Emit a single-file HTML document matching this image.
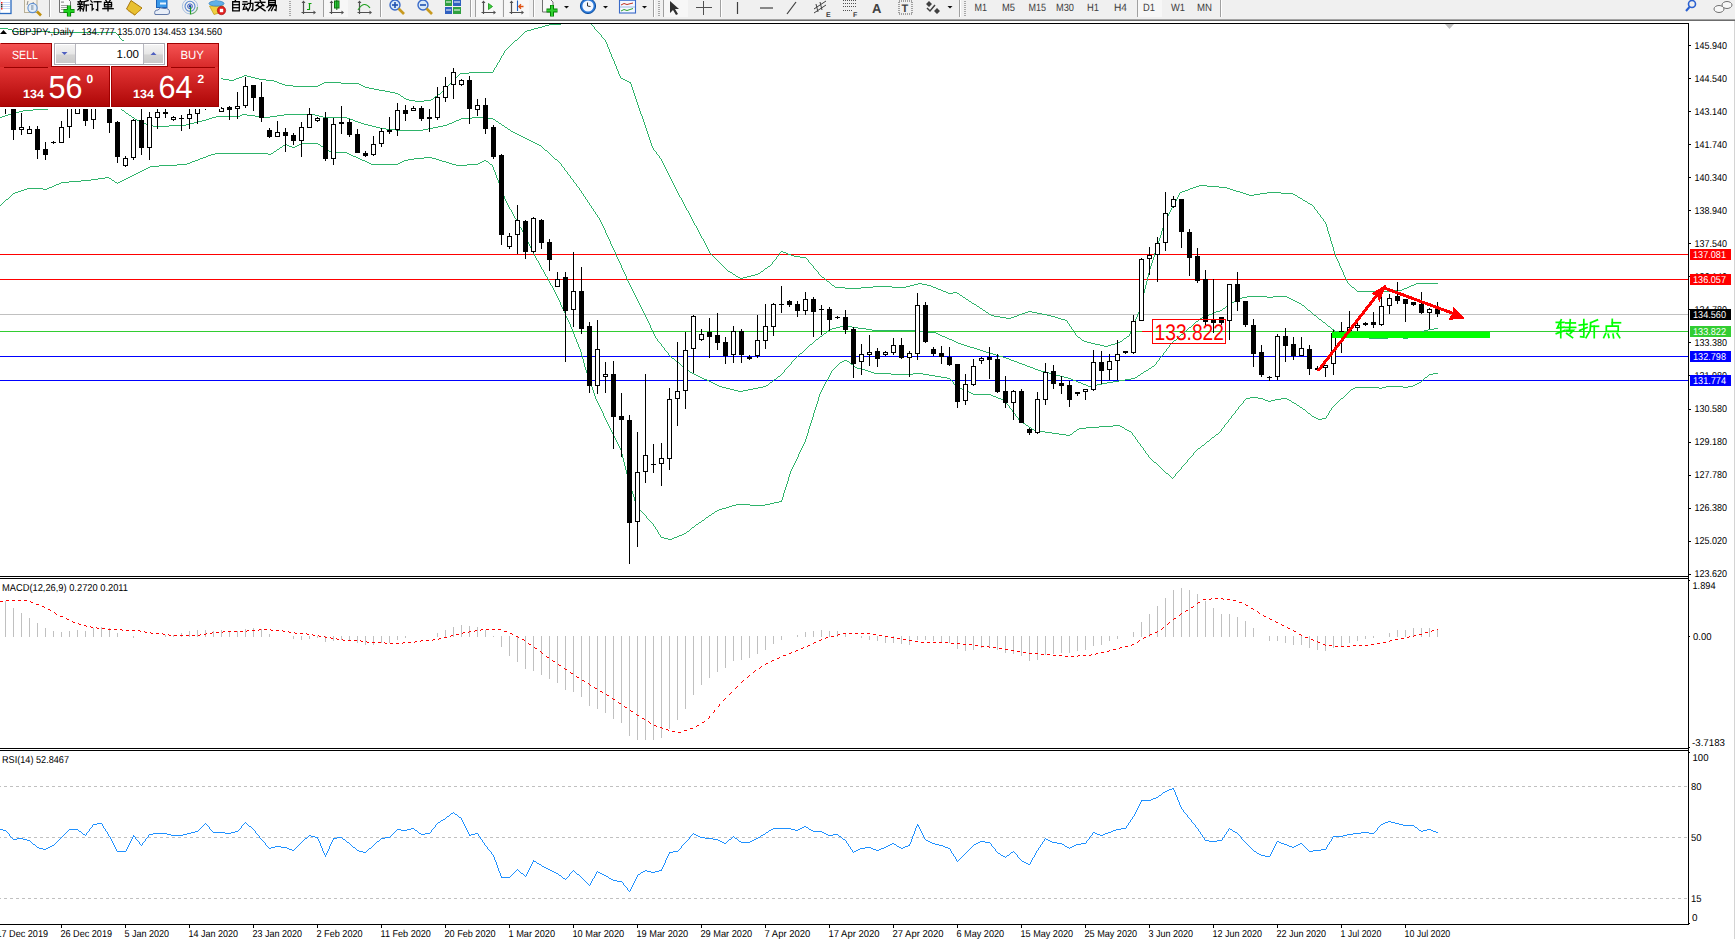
<!DOCTYPE html>
<html><head><meta charset="utf-8"><title>MT4 GBPJPY Daily</title>
<style>html,body{margin:0;padding:0;background:#fff;overflow:hidden}body{width:1735px;height:939px;position:relative;font-family:"Liberation Sans",sans-serif}</style>
</head><body>
<svg width="1735" height="939" viewBox="0 0 1735 939" text-rendering="geometricPrecision" style="position:absolute;left:0;top:0">
<defs>
<linearGradient id="gTop" x1="0" y1="0" x2="0" y2="1"><stop offset="0" stop-color="#f65454"/><stop offset="1" stop-color="#d82a2a"/></linearGradient>
<linearGradient id="gBot" x1="0" y1="0" x2="0" y2="1"><stop offset="0" stop-color="#e23434"/><stop offset="1" stop-color="#ad0606"/></linearGradient>
<linearGradient id="gBtn" x1="0" y1="0" x2="0" y2="1"><stop offset="0" stop-color="#f4f4f4"/><stop offset="0.5" stop-color="#e6e6e6"/><stop offset="0.55" stop-color="#d4d4d4"/><stop offset="1" stop-color="#cacaca"/></linearGradient>
</defs>
<rect x="0" y="0" width="1735" height="939" fill="#ffffff"/>
<rect x="0" y="0" width="1735" height="19" fill="#f0f0f0"/>
<rect x="0" y="19" width="1735" height="1" fill="#a4a4a4"/>
<rect x="0" y="20" width="1735" height="1" fill="#6c6c6c"/>
<g shape-rendering="crispEdges">
<rect x="49" y="0" width="1" height="17" fill="#a0a0a0"/><rect x="50" y="0" width="1" height="17" fill="#ffffff"/>
<rect x="380" y="0" width="1" height="17" fill="#a0a0a0"/><rect x="381" y="0" width="1" height="17" fill="#ffffff"/>
<rect x="470" y="0" width="1" height="17" fill="#a0a0a0"/><rect x="471" y="0" width="1" height="17" fill="#ffffff"/>
<rect x="533" y="0" width="1" height="17" fill="#a0a0a0"/><rect x="534" y="0" width="1" height="17" fill="#ffffff"/>
<rect x="653" y="0" width="1" height="17" fill="#a0a0a0"/><rect x="654" y="0" width="1" height="17" fill="#ffffff"/>
<rect x="720" y="0" width="1" height="17" fill="#a0a0a0"/><rect x="721" y="0" width="1" height="17" fill="#ffffff"/>
<rect x="959" y="0" width="1" height="17" fill="#a0a0a0"/><rect x="960" y="0" width="1" height="17" fill="#ffffff"/>
<rect x="1220" y="0" width="1" height="17" fill="#a0a0a0"/><rect x="1221" y="0" width="1" height="17" fill="#ffffff"/>
<rect x="289" y="1" width="2" height="1" fill="#a8a8a8"/>
<rect x="289" y="3" width="2" height="1" fill="#a8a8a8"/>
<rect x="289" y="5" width="2" height="1" fill="#a8a8a8"/>
<rect x="289" y="7" width="2" height="1" fill="#a8a8a8"/>
<rect x="289" y="9" width="2" height="1" fill="#a8a8a8"/>
<rect x="289" y="11" width="2" height="1" fill="#a8a8a8"/>
<rect x="289" y="13" width="2" height="1" fill="#a8a8a8"/>
<rect x="289" y="15" width="2" height="1" fill="#a8a8a8"/>
<rect x="658" y="1" width="2" height="1" fill="#a8a8a8"/>
<rect x="658" y="3" width="2" height="1" fill="#a8a8a8"/>
<rect x="658" y="5" width="2" height="1" fill="#a8a8a8"/>
<rect x="658" y="7" width="2" height="1" fill="#a8a8a8"/>
<rect x="658" y="9" width="2" height="1" fill="#a8a8a8"/>
<rect x="658" y="11" width="2" height="1" fill="#a8a8a8"/>
<rect x="658" y="13" width="2" height="1" fill="#a8a8a8"/>
<rect x="658" y="15" width="2" height="1" fill="#a8a8a8"/>
<rect x="964" y="1" width="2" height="1" fill="#a8a8a8"/>
<rect x="964" y="3" width="2" height="1" fill="#a8a8a8"/>
<rect x="964" y="5" width="2" height="1" fill="#a8a8a8"/>
<rect x="964" y="7" width="2" height="1" fill="#a8a8a8"/>
<rect x="964" y="9" width="2" height="1" fill="#a8a8a8"/>
<rect x="964" y="11" width="2" height="1" fill="#a8a8a8"/>
<rect x="964" y="13" width="2" height="1" fill="#a8a8a8"/>
<rect x="964" y="15" width="2" height="1" fill="#a8a8a8"/>
<rect x="323" y="0" width="25" height="17" fill="#f7f7f7"/>
<rect x="476" y="0" width="26" height="17" fill="#f7f7f7"/>
<rect x="504" y="0" width="25" height="17" fill="#f7f7f7"/>
<rect x="663" y="0" width="25" height="17" fill="#f7f7f7"/>
<rect x="1137" y="0" width="25" height="17" fill="#f7f7f7"/>
<rect x="323" y="0" width="1" height="17" fill="#a0a0a0"/>
<rect x="475" y="0" width="1" height="17" fill="#a0a0a0"/>
<rect x="503" y="0" width="1" height="17" fill="#a0a0a0"/>
<rect x="663" y="0" width="1" height="17" fill="#a0a0a0"/>
<rect x="1137" y="0" width="1" height="17" fill="#a0a0a0"/>
</g>
<rect x="-0.5" y="-1.5" width="11.5" height="15" fill="#fff" stroke="#2a6ac0" stroke-width="1.3"/>
<rect x="1" y="2" width="1.5" height="1.5" fill="#f02020"/><rect x="3" y="2" width="7" height="1" fill="#c8d8f8"/>
<rect x="1" y="4" width="1.5" height="1.5" fill="#303030"/><rect x="3" y="4" width="7" height="1" fill="#c8d8f8"/>
<rect x="1" y="6" width="1.5" height="1.5" fill="#303030"/><rect x="3" y="6" width="7" height="1" fill="#c8d8f8"/>
<rect x="1" y="8" width="1.5" height="1.5" fill="#f02020"/><rect x="3" y="8" width="7" height="1" fill="#c8d8f8"/>
<rect x="24.5" y="-2" width="12.5" height="14.5" fill="#f6f2ea" stroke="#b8b098" stroke-width="1"/>
<path d="M27 5 L28 1 M33 2 L34 4" stroke="#707070" stroke-width="0.8"/>
<circle cx="32.5" cy="8" r="4.6" fill="#e4eef8" stroke="#6090d0" stroke-width="1.1"/>
<rect x="31" y="5" width="2.5" height="5" fill="#a8b8c8"/>
<path d="M37 11.5 L41 15.5" stroke="#c09010" stroke-width="2.6"/>
<path d="M59.5 -2 L67 -2 L70.5 1.5 L70.5 12.5 L59.5 12.5 Z" fill="#fafafa" stroke="#707070" stroke-width="1"/>
<rect x="61" y="1.5" width="3" height="1.2" fill="#909090"/><rect x="61" y="5" width="7" height="1" fill="#a0a0a0"/><rect x="61" y="7" width="6" height="1" fill="#a0a0a0"/><rect x="61" y="9" width="5" height="1" fill="#a0a0a0"/>
<path d="M69 5.5 L69 16.5 M63.5 11 L74.5 11" stroke="#007a00" stroke-width="4.2"/>
<path d="M69 6 L69 16 M64 11 L74 11" stroke="#20d020" stroke-width="2.4"/>
<g transform="translate(77.5,0.0) scale(1.1)" fill="none" stroke="#000000" stroke-width="1.182" stroke-linecap="square" stroke-linejoin="miter"><path d="M2.5 0.2L2.8 1.2"/><path d="M0.5 1.6L4.6 1.6"/><path d="M1.3 2.3L1.8 3.5"/><path d="M3.8 2.3L3.2 3.5"/><path d="M0.2 3.9L4.8 3.9"/><path d="M0.6 5.9L4.5 5.9"/><path d="M2.5 3.9L2.5 9.9"/><path d="M2.5 6.6L0.3 9.0"/><path d="M2.7 6.9L4.4 8.3"/><path d="M9.6 0.5L6.0 1.6"/><path d="M6.0 1.6L6.0 6.0L5.2 9.9"/><path d="M6.0 4.6L10 4.6"/><path d="M8.0 4.6L8.0 9.9"/></g><g transform="translate(90.0,0.0) scale(1.1)" fill="none" stroke="#000000" stroke-width="1.182" stroke-linecap="square" stroke-linejoin="miter"><path d="M0.8 0.8L1.9 2.0"/><path d="M0.4 4.0L2.0 4.0L2.0 9.0L3.0 8.0"/><path d="M3.8 1.6L10 1.6"/><path d="M7.0 1.6L7.0 9.5L5.8 8.8"/></g><g transform="translate(102.5,0.0) scale(1.1)" fill="none" stroke="#000000" stroke-width="1.182" stroke-linecap="square" stroke-linejoin="miter"><path d="M3.0 0.2L3.8 1.5"/><path d="M7.0 0.2L6.2 1.5"/><path d="M1.8 2.2L8.2 2.2L8.2 6.2L1.8 6.2Z"/><path d="M1.8 4.2L8.2 4.2"/><path d="M0.3 7.9L9.7 7.9"/><path d="M5.0 2.2L5.0 9.9"/></g>
<path d="M126.5 9 L131 0.5 L142 8 L135 15 Z" fill="#e8c030" stroke="#a87810" stroke-width="1"/>
<path d="M128 10.5 L134.5 15 L141 9.5" fill="none" stroke="#c89828" stroke-width="1"/>
<rect x="156.5" y="-1.5" width="10.5" height="9" fill="#3a98e8" stroke="#1a60b8" stroke-width="1"/>
<rect x="160" y="2.5" width="6" height="2" fill="#e8f4ff"/>
<path d="M155 14.5 Q153.5 10 158 10 Q160 6.5 164 8.5 Q169.5 8 169.5 12 Q170 14.5 167 14.5 Z" fill="#e8eef8" stroke="#6078a8" stroke-width="1"/>
<circle cx="190" cy="6.3" r="7.6" fill="none" stroke="#a8c0e0" stroke-width="1"/>
<circle cx="190" cy="6.3" r="5" fill="none" stroke="#5a88d0" stroke-width="1.1"/>
<circle cx="190" cy="6.3" r="2.4" fill="none" stroke="#3a60c0" stroke-width="1"/>
<circle cx="190" cy="6.3" r="1.2" fill="#2040b0"/>
<path d="M190.5 7 L190.5 14.5" stroke="#20a020" stroke-width="1.2"/>
<path d="M191 14 A7.6 7.6 0 0 0 197.5 7" fill="none" stroke="#70b070" stroke-width="1.2"/>
<path d="M209.5 6 L223.5 6 L219 13 L214 14.5 Z" fill="#f0d040" stroke="#c0a020" stroke-width="0.8"/>
<ellipse cx="216.5" cy="3.5" rx="7.5" ry="2.6" fill="#60b0e8" stroke="#3080c0" stroke-width="0.8"/>
<path d="M214 3 L216 -2 L218.5 3 Z" fill="#60b0e8"/>
<circle cx="221.5" cy="10.5" r="4.2" fill="#e02020" stroke="#a01010" stroke-width="0.6"/><rect x="219.8" y="8.8" width="3.4" height="3.4" fill="#fff"/>
<g transform="translate(230.5,0.0) scale(1.1)" fill="none" stroke="#000000" stroke-width="1.182" stroke-linecap="square" stroke-linejoin="miter"><path d="M4.6 0.1L4.0 1.4"/><path d="M2.0 1.6L8.0 1.6L8.0 9.8L2.0 9.8Z"/><path d="M2.0 4.3L8.0 4.3"/><path d="M2.0 7.0L8.0 7.0"/></g><g transform="translate(242.5,0.0) scale(1.1)" fill="none" stroke="#000000" stroke-width="1.182" stroke-linecap="square" stroke-linejoin="miter"><path d="M0.6 1.6L4.0 1.6"/><path d="M0.2 3.9L4.5 3.9"/><path d="M2.2 3.9L0.6 8.5L4.2 8.0"/><path d="M3.2 6.5L4.5 9.0"/><path d="M5.0 3.0L9.5 3.0L9.3 9.5L8.2 9.0"/><path d="M7.3 0.4L7.0 6.0L5.0 9.8"/></g><g transform="translate(254.5,0.0) scale(1.1)" fill="none" stroke="#000000" stroke-width="1.182" stroke-linecap="square" stroke-linejoin="miter"><path d="M5.0 0.1L5.6 1.2"/><path d="M0.5 2.1L9.5 2.1"/><path d="M3.6 3.1L1.5 5.0"/><path d="M6.4 3.1L8.5 5.0"/><path d="M2.8 5.0L9.6 9.8"/><path d="M7.2 5.0L0.4 9.8"/></g><g transform="translate(266.5,0.0) scale(1.1)" fill="none" stroke="#000000" stroke-width="1.182" stroke-linecap="square" stroke-linejoin="miter"><path d="M2.0 0.4L8.0 0.4L8.0 4.0L2.0 4.0Z"/><path d="M2.0 2.2L8.0 2.2"/><path d="M2.2 5.0L0.4 6.6"/><path d="M2.2 5.0L9.0 5.0L8.6 9.5L7.5 9.0"/><path d="M4.6 5.5L2.0 9.6"/><path d="M6.7 5.5L4.5 9.6"/></g>
<path d="M303.5 2 L303.5 14 M301.5 12.5 L314.5 12.5" fill="none" stroke="#505050" stroke-width="1.2"/><path d="M301.5 3 L303.5 0.5 L305.5 3 Z M313.5 10.5 L316.0 12.5 L313.5 14.5 Z" fill="#505050"/>
<path d="M308.5 3.5 L311.5 3.5 M309.5 3 L309.5 10 M307 9.5 L309.5 9.5" fill="none" stroke="#10a010" stroke-width="1.2"/>
<path d="M331.5 2 L331.5 14 M329.5 12.5 L342.5 12.5" fill="none" stroke="#505050" stroke-width="1.2"/><path d="M329.5 3 L331.5 0.5 L333.5 3 Z M341.5 10.5 L344.0 12.5 L341.5 14.5 Z" fill="#505050"/>
<rect x="334.5" y="1" width="4.5" height="7" fill="#30d040" stroke="#107010" stroke-width="1"/><path d="M336.8 -1 L336.8 10" stroke="#107010" stroke-width="1"/>
<path d="M359.5 2 L359.5 14 M357.5 12.5 L370.5 12.5" fill="none" stroke="#505050" stroke-width="1.2"/><path d="M357.5 3 L359.5 0.5 L361.5 3 Z M369.5 10.5 L372.0 12.5 L369.5 14.5 Z" fill="#505050"/>
<path d="M358 10 Q364 0 370 8" fill="none" stroke="#20a020" stroke-width="1.1"/>
<circle cx="395" cy="5" r="5" fill="#d8e8f8" stroke="#3a6ac8" stroke-width="1.4"/>
<path d="M398.5 8.5 L404 14" stroke="#c89a20" stroke-width="2.6"/>
<path d="M392 5 L398 5" stroke="#2050b0" stroke-width="1.6"/>
<path d="M395 2 L395 8" stroke="#2050b0" stroke-width="1.6"/>
<circle cx="423" cy="5" r="5" fill="#d8e8f8" stroke="#3a6ac8" stroke-width="1.4"/>
<path d="M426.5 8.5 L432 14" stroke="#c89a20" stroke-width="2.6"/>
<path d="M420 5 L426 5" stroke="#2050b0" stroke-width="1.6"/>
<rect x="445" y="-1" width="7" height="7" fill="#30a040"/><rect x="453" y="-1" width="8" height="7" fill="#3060c0"/><rect x="445" y="7" width="7" height="7" fill="#3060c0"/><rect x="453" y="7" width="8" height="7" fill="#30a040"/>
<path d="M446 2 L451 2 M454 2 L460 2 M446 10 L451 10 M454 10 L460 10" stroke="#fff" stroke-width="1"/>
<path d="M483.5 2 L483.5 14 M481.5 12.5 L494.5 12.5" fill="none" stroke="#505050" stroke-width="1.2"/><path d="M481.5 3 L483.5 0.5 L485.5 3 Z M493.5 10.5 L496.0 12.5 L493.5 14.5 Z" fill="#505050"/>
<path d="M488.5 3.5 L492.5 6.5 L488.5 9.5 Z" fill="#40d040" stroke="#109010" stroke-width="0.8"/>
<path d="M511.5 2 L511.5 14 M509.5 12.5 L522.5 12.5" fill="none" stroke="#505050" stroke-width="1.2"/><path d="M509.5 3 L511.5 0.5 L513.5 3 Z M521.5 10.5 L524.0 12.5 L521.5 14.5 Z" fill="#505050"/>
<path d="M517.5 0.5 L517.5 11" stroke="#2060c0" stroke-width="1.1"/><path d="M523.5 6.5 L519 6.5 M521 4.3 L518.8 6.5 L521 8.7" fill="none" stroke="#e05010" stroke-width="1.3"/>
<path d="M542.5 -1 L550 -1 L553 2 L553 12 L542.5 12 Z" fill="#f8f8f8" stroke="#707070" stroke-width="1"/>
<path d="M552 5 L552 16.5 M546.5 10.5 L557.5 10.5" stroke="#007a00" stroke-width="4"/><path d="M552 5.5 L552 16 M547 10.5 L557 10.5" stroke="#30d030" stroke-width="2.2"/>
<path d="M564.0 6 L569.0 6 L566.5 8.5 Z" fill="#101010"/>
<path d="M603.0 6 L608.0 6 L605.5 8.5 Z" fill="#101010"/>
<path d="M642.0 6 L647.0 6 L644.5 8.5 Z" fill="#101010"/>
<path d="M947.5 6 L952.5 6 L950 8.5 Z" fill="#101010"/>
<circle cx="588" cy="6" r="7.6" fill="#2a78d8" stroke="#1050a0" stroke-width="1"/><circle cx="588" cy="6" r="5.6" fill="#f4f8ff"/><path d="M587.5 2.5 L587.5 6 L590.5 6.5" fill="none" stroke="#303030" stroke-width="1"/>
<rect x="619.5" y="-1" width="16" height="14" fill="#f4f8ff" stroke="#3a6ac8" stroke-width="1.1"/><rect x="620" y="-1" width="15" height="2" fill="#5a88d8"/><path d="M620 7 L635 7" stroke="#8aa8e0" stroke-width="0.8"/><path d="M621 5 L624 3.5 L627 4.5 L633 3" fill="none" stroke="#c03020" stroke-width="1"/><path d="M621 11 L624 9.5 L627 10.5 L633 8.5" fill="none" stroke="#30a030" stroke-width="1"/>
<path d="M670 1 L670 13 L673 10 L676 15 L678 14 L675 9 L679 9 Z" fill="#303030"/>
<path d="M703.5 1 L703.5 15 M696 7.5 L712 7.5" stroke="#505050" stroke-width="1"/>
<path d="M737.5 2 L737.5 14" stroke="#404040" stroke-width="1.2"/>
<path d="M760 8 L773 8" stroke="#404040" stroke-width="1.2"/>
<path d="M787 14 L796 2" stroke="#404040" stroke-width="1.2"/>
<path d="M814 9 L826 1 M814 13 L826 5 M816 4 L818 12 M820 2 L822 10" stroke="#404040" stroke-width="1"/><text x="826" y="17" font-family='"Liberation Sans"' font-size="7" font-weight="bold" fill="#404040">E</text>
<path d="M843 0.5 L856 0.5 M843 3.5 L856 3.5 M843 6.5 L856 6.5 M843 10.5 L852 10.5" stroke="#505050" stroke-width="1" stroke-dasharray="1 1"/><text x="853" y="17" font-family='"Liberation Sans"' font-size="7" font-weight="bold" fill="#404040">F</text>
<text x="872" y="13" font-family='"Liberation Sans"' font-size="13" font-weight="bold" fill="#404040">A</text>
<rect x="899" y="1" width="13" height="13" fill="none" stroke="#505050" stroke-width="1" stroke-dasharray="1 1"/><text x="901.5" y="12" font-family='"Liberation Sans"' font-size="11" font-weight="bold" fill="#404040">T</text>
<path d="M926 4 L929 1 L932 4 L929 7 Z M934 11 L937 8 L940 11 L937 14 Z" fill="#404040"/><path d="M927 8 L930 11 L935 5" fill="none" stroke="#404040" stroke-width="1.5"/>
<text x="974.5" y="11" font-family='"Liberation Sans", sans-serif' font-size="10.5" fill="#404040" textLength="12.5" lengthAdjust="spacingAndGlyphs">M1</text>
<text x="1002" y="11" font-family='"Liberation Sans", sans-serif' font-size="10.5" fill="#404040" textLength="13" lengthAdjust="spacingAndGlyphs">M5</text>
<text x="1028.5" y="11" font-family='"Liberation Sans", sans-serif' font-size="10.5" fill="#404040" textLength="17.5" lengthAdjust="spacingAndGlyphs">M15</text>
<text x="1056" y="11" font-family='"Liberation Sans", sans-serif' font-size="10.5" fill="#404040" textLength="18" lengthAdjust="spacingAndGlyphs">M30</text>
<text x="1087" y="11" font-family='"Liberation Sans", sans-serif' font-size="10.5" fill="#404040" textLength="12" lengthAdjust="spacingAndGlyphs">H1</text>
<text x="1114" y="11" font-family='"Liberation Sans", sans-serif' font-size="10.5" fill="#404040" textLength="13" lengthAdjust="spacingAndGlyphs">H4</text>
<text x="1143" y="11" font-family='"Liberation Sans", sans-serif' font-size="10.5" fill="#404040" textLength="12" lengthAdjust="spacingAndGlyphs">D1</text>
<text x="1171" y="11" font-family='"Liberation Sans", sans-serif' font-size="10.5" fill="#404040" textLength="14" lengthAdjust="spacingAndGlyphs">W1</text>
<text x="1197" y="11" font-family='"Liberation Sans", sans-serif' font-size="10.5" fill="#404040" textLength="15" lengthAdjust="spacingAndGlyphs">MN</text>
<circle cx="1692" cy="4" r="3.5" fill="none" stroke="#2a60d0" stroke-width="1.6"/><path d="M1689.5 7 L1686 11" stroke="#2a60d0" stroke-width="2"/>
<ellipse cx="1719" cy="9" rx="5" ry="3.5" fill="#f8f8f8" stroke="#707070" stroke-width="1"/><ellipse cx="1727" cy="5" rx="5" ry="3.5" fill="#f8f8f8" stroke="#707070" stroke-width="1"/>
<g shape-rendering="crispEdges">
<rect x="1734" y="21" width="1" height="918" fill="#d4d4d4"/>
<rect x="0" y="23" width="1689" height="1" fill="#000"/>
<rect x="1688" y="23" width="1" height="902" fill="#000"/>
<rect x="0" y="576" width="1689" height="1" fill="#000"/>
<rect x="0" y="578" width="1689" height="1" fill="#000"/>
<rect x="0" y="748" width="1689" height="1" fill="#000"/>
<rect x="0" y="750" width="1689" height="1" fill="#000"/>
<rect x="0" y="924" width="1689" height="1" fill="#000"/>
</g>
<g shape-rendering="crispEdges">
<rect x="1689" y="45" width="2" height="1" fill="#000"/>
<rect x="1689" y="78" width="2" height="1" fill="#000"/>
<rect x="1689" y="111" width="2" height="1" fill="#000"/>
<rect x="1689" y="144" width="2" height="1" fill="#000"/>
<rect x="1689" y="177" width="2" height="1" fill="#000"/>
<rect x="1689" y="210" width="2" height="1" fill="#000"/>
<rect x="1689" y="243" width="2" height="1" fill="#000"/>
<rect x="1689" y="276" width="2" height="1" fill="#000"/>
<rect x="1689" y="309" width="2" height="1" fill="#000"/>
<rect x="1689" y="342" width="2" height="1" fill="#000"/>
<rect x="1689" y="375" width="2" height="1" fill="#000"/>
<rect x="1689" y="409" width="2" height="1" fill="#000"/>
<rect x="1689" y="442" width="2" height="1" fill="#000"/>
<rect x="1689" y="475" width="2" height="1" fill="#000"/>
<rect x="1689" y="508" width="2" height="1" fill="#000"/>
<rect x="1689" y="541" width="2" height="1" fill="#000"/>
<rect x="1689" y="574" width="2" height="1" fill="#000"/>
</g>
<text x="1694.5" y="49.0" font-family='"Liberation Sans", sans-serif' font-size="10" fill="#000" textLength="32.5" lengthAdjust="spacingAndGlyphs">145.940</text>
<text x="1694.5" y="82.0" font-family='"Liberation Sans", sans-serif' font-size="10" fill="#000" textLength="32.5" lengthAdjust="spacingAndGlyphs">144.540</text>
<text x="1694.5" y="115.0" font-family='"Liberation Sans", sans-serif' font-size="10" fill="#000" textLength="32.5" lengthAdjust="spacingAndGlyphs">143.140</text>
<text x="1694.5" y="148.0" font-family='"Liberation Sans", sans-serif' font-size="10" fill="#000" textLength="32.5" lengthAdjust="spacingAndGlyphs">141.740</text>
<text x="1694.5" y="181.0" font-family='"Liberation Sans", sans-serif' font-size="10" fill="#000" textLength="32.5" lengthAdjust="spacingAndGlyphs">140.340</text>
<text x="1694.5" y="214.0" font-family='"Liberation Sans", sans-serif' font-size="10" fill="#000" textLength="32.5" lengthAdjust="spacingAndGlyphs">138.940</text>
<text x="1694.5" y="247.1" font-family='"Liberation Sans", sans-serif' font-size="10" fill="#000" textLength="32.5" lengthAdjust="spacingAndGlyphs">137.540</text>
<text x="1694.5" y="280.1" font-family='"Liberation Sans", sans-serif' font-size="10" fill="#000" textLength="32.5" lengthAdjust="spacingAndGlyphs">136.140</text>
<text x="1694.5" y="313.1" font-family='"Liberation Sans", sans-serif' font-size="10" fill="#000" textLength="32.5" lengthAdjust="spacingAndGlyphs">134.780</text>
<text x="1694.5" y="346.1" font-family='"Liberation Sans", sans-serif' font-size="10" fill="#000" textLength="32.5" lengthAdjust="spacingAndGlyphs">133.380</text>
<text x="1694.5" y="379.1" font-family='"Liberation Sans", sans-serif' font-size="10" fill="#000" textLength="32.5" lengthAdjust="spacingAndGlyphs">131.980</text>
<text x="1694.5" y="412.1" font-family='"Liberation Sans", sans-serif' font-size="10" fill="#000" textLength="32.5" lengthAdjust="spacingAndGlyphs">130.580</text>
<text x="1694.5" y="445.1" font-family='"Liberation Sans", sans-serif' font-size="10" fill="#000" textLength="32.5" lengthAdjust="spacingAndGlyphs">129.180</text>
<text x="1694.5" y="478.1" font-family='"Liberation Sans", sans-serif' font-size="10" fill="#000" textLength="32.5" lengthAdjust="spacingAndGlyphs">127.780</text>
<text x="1694.5" y="511.1" font-family='"Liberation Sans", sans-serif' font-size="10" fill="#000" textLength="32.5" lengthAdjust="spacingAndGlyphs">126.380</text>
<text x="1694.5" y="544.1" font-family='"Liberation Sans", sans-serif' font-size="10" fill="#000" textLength="32.5" lengthAdjust="spacingAndGlyphs">125.020</text>
<text x="1694.5" y="577.2" font-family='"Liberation Sans", sans-serif' font-size="10" fill="#000" textLength="32.5" lengthAdjust="spacingAndGlyphs">123.620</text>
<clipPath id="clipMain"><rect x="0" y="24" width="1688" height="552"/></clipPath>
<g clip-path="url(#clipMain)">
<g shape-rendering="crispEdges">
<rect x="0" y="254" width="1688" height="1" fill="#ff0000"/>
<rect x="0" y="279" width="1688" height="1" fill="#ff0000"/>
<rect x="0" y="314" width="1688" height="1" fill="#c0c0c0"/>
<rect x="0" y="331" width="1688" height="1" fill="#32cd32"/>
<rect x="0" y="356" width="1688" height="1" fill="#0000ff"/>
<rect x="0" y="380" width="1688" height="1" fill="#0000ff"/>
</g>
<path fill="#2eb36a" shape-rendering="crispEdges" d="M561 23h30v1h-30zM549 24h12v1h-12zM591 24h1v1h-1zM545 25h4v1h-4zM592 25h1v1h-1zM542 26h3v1h-3zM593 26h1v1h-1zM538 27h4v1h-4zM594 27h1v1h-1zM0 28h8v1h-8zM534 28h4v1h-4zM594 28h1v1h-1zM8 29h4v1h-4zM531 29h3v1h-3zM595 29h1v1h-1zM12 30h1v1h-1zM527 30h4v1h-4zM596 30h1v1h-1zM12 31h38v1h-38zM525 31h2v1h-2zM597 31h1v1h-1zM50 32h66v1h-66zM524 32h1v1h-1zM598 32h1v1h-1zM116 33h1v1h-1zM523 33h1v1h-1zM599 33h1v1h-1zM117 34h1v1h-1zM522 34h1v1h-1zM600 34h1v1h-1zM118 35h1v1h-1zM521 35h1v1h-1zM601 35h1v1h-1zM119 36h1v1h-1zM520 36h1v1h-1zM601 36h1v1h-1zM119 37h1v1h-1zM519 37h1v1h-1zM602 37h1v1h-1zM120 38h1v1h-1zM518 38h1v1h-1zM603 38h1v1h-1zM121 39h1v1h-1zM517 39h1v1h-1zM604 39h1v1h-1zM122 40h2v1h-2zM515 40h2v1h-2zM605 40h1v1h-1zM124 41h2v1h-2zM514 41h1v1h-1zM605 41h1v1h-1zM126 42h3v1h-3zM513 42h1v1h-1zM606 42h1v1h-1zM129 43h2v1h-2zM512 43h1v1h-1zM606 43h1v1h-1zM131 44h3v1h-3zM511 44h1v1h-1zM607 44h1v1h-1zM134 45h2v1h-2zM510 45h1v1h-1zM607 45h1v1h-1zM136 46h3v1h-3zM509 46h1v1h-1zM607 46h1v1h-1zM139 47h2v1h-2zM508 47h1v1h-1zM608 47h1v1h-1zM141 48h3v1h-3zM507 48h1v1h-1zM608 48h1v1h-1zM144 49h3v1h-3zM506 49h1v1h-1zM609 49h1v1h-1zM147 50h2v1h-2zM505 50h1v1h-1zM609 50h1v1h-1zM149 51h3v1h-3zM504 51h1v1h-1zM609 51h1v1h-1zM152 52h2v1h-2zM504 52h1v1h-1zM610 52h1v1h-1zM154 53h3v1h-3zM503 53h1v1h-1zM610 53h1v1h-1zM157 54h2v1h-2zM503 54h1v1h-1zM611 54h1v1h-1zM159 55h3v1h-3zM502 55h1v1h-1zM611 55h1v1h-1zM162 56h2v1h-2zM501 56h1v1h-1zM611 56h1v1h-1zM164 57h3v1h-3zM501 57h1v1h-1zM612 57h1v1h-1zM167 58h2v1h-2zM500 58h1v1h-1zM612 58h1v1h-1zM169 59h3v1h-3zM500 59h1v1h-1zM613 59h1v1h-1zM172 60h3v1h-3zM499 60h1v1h-1zM613 60h1v1h-1zM175 61h2v1h-2zM499 61h1v1h-1zM614 61h1v1h-1zM177 62h3v1h-3zM498 62h1v1h-1zM614 62h1v1h-1zM180 63h2v1h-2zM497 63h1v1h-1zM614 63h1v1h-1zM182 64h3v1h-3zM497 64h1v1h-1zM615 64h1v1h-1zM185 65h2v1h-2zM496 65h1v1h-1zM615 65h1v1h-1zM187 66h3v1h-3zM496 66h1v1h-1zM616 66h1v1h-1zM190 67h3v1h-3zM495 67h1v1h-1zM616 67h1v1h-1zM193 68h2v1h-2zM494 68h1v1h-1zM616 68h1v1h-1zM195 69h3v1h-3zM494 69h1v1h-1zM617 69h1v1h-1zM198 70h2v1h-2zM493 70h1v1h-1zM617 70h1v1h-1zM200 71h3v1h-3zM493 71h1v1h-1zM618 71h1v1h-1zM203 72h2v1h-2zM469 72h24v1h-24zM618 72h1v1h-1zM205 73h3v1h-3zM460 73h9v1h-9zM618 73h1v1h-1zM208 74h3v1h-3zM459 74h1v1h-1zM619 74h1v1h-1zM211 75h2v1h-2zM244 75h3v1h-3zM458 75h1v1h-1zM619 75h1v1h-1zM213 76h3v1h-3zM242 76h2v1h-2zM247 76h4v1h-4zM457 76h1v1h-1zM620 76h1v1h-1zM216 77h2v1h-2zM239 77h3v1h-3zM251 77h4v1h-4zM456 77h1v1h-1zM620 77h1v1h-1zM218 78h5v1h-5zM236 78h3v1h-3zM255 78h4v1h-4zM455 78h1v1h-1zM621 78h2v1h-2zM223 79h6v1h-6zM234 79h2v1h-2zM259 79h7v1h-7zM454 79h1v1h-1zM623 79h2v1h-2zM229 80h5v1h-5zM266 80h8v1h-8zM453 80h1v1h-1zM625 80h2v1h-2zM274 81h3v1h-3zM452 81h1v1h-1zM627 81h2v1h-2zM277 82h2v1h-2zM324 82h17v1h-17zM451 82h1v1h-1zM629 82h2v1h-2zM279 83h3v1h-3zM322 83h2v1h-2zM341 83h18v1h-18zM450 83h1v1h-1zM630 83h1v1h-1zM282 84h3v1h-3zM320 84h2v1h-2zM359 84h2v1h-2zM449 84h1v1h-1zM631 84h1v1h-1zM285 85h8v1h-8zM318 85h2v1h-2zM361 85h2v1h-2zM448 85h1v1h-1zM631 85h1v1h-1zM293 86h25v1h-25zM363 86h2v1h-2zM447 86h1v1h-1zM631 86h1v1h-1zM365 87h4v1h-4zM446 87h1v1h-1zM632 87h1v1h-1zM369 88h5v1h-5zM445 88h1v1h-1zM632 88h1v1h-1zM374 89h5v1h-5zM444 89h1v1h-1zM632 89h1v1h-1zM379 90h6v1h-6zM443 90h1v1h-1zM633 90h1v1h-1zM385 91h5v1h-5zM442 91h1v1h-1zM633 91h1v1h-1zM390 92h5v1h-5zM441 92h1v1h-1zM633 92h1v1h-1zM395 93h3v1h-3zM440 93h1v1h-1zM634 93h1v1h-1zM398 94h2v1h-2zM438 94h2v1h-2zM634 94h1v1h-1zM400 95h1v1h-1zM437 95h1v1h-1zM634 95h1v1h-1zM401 96h2v1h-2zM435 96h2v1h-2zM635 96h1v1h-1zM403 97h1v1h-1zM434 97h1v1h-1zM635 97h1v1h-1zM404 98h2v1h-2zM433 98h1v1h-1zM635 98h1v1h-1zM406 99h3v1h-3zM431 99h2v1h-2zM636 99h1v1h-1zM409 100h6v1h-6zM424 100h7v1h-7zM636 100h1v1h-1zM415 101h9v1h-9zM636 101h1v1h-1zM637 102h1v1h-1zM637 103h1v1h-1zM637 104h1v1h-1zM638 105h1v1h-1zM638 106h1v1h-1zM638 107h1v1h-1zM639 108h1v1h-1zM639 109h1v1h-1zM639 110h1v1h-1zM640 111h1v1h-1zM640 112h1v1h-1zM640 113h1v1h-1zM641 114h1v1h-1zM641 115h1v1h-1zM642 116h1v1h-1zM642 117h1v1h-1zM642 118h1v1h-1zM643 119h1v1h-1zM643 120h1v1h-1zM643 121h1v1h-1zM644 122h1v1h-1zM644 123h1v1h-1zM644 124h1v1h-1zM645 125h1v1h-1zM645 126h1v1h-1zM645 127h1v1h-1zM646 128h1v1h-1zM646 129h1v1h-1zM646 130h1v1h-1zM647 131h1v1h-1zM647 132h1v1h-1zM647 133h1v1h-1zM648 134h1v1h-1zM648 135h1v1h-1zM648 136h1v1h-1zM649 137h1v1h-1zM649 138h1v1h-1zM649 139h1v1h-1zM650 140h1v1h-1zM650 141h1v1h-1zM650 142h1v1h-1zM651 143h1v1h-1zM651 144h1v1h-1zM651 145h1v1h-1zM652 146h1v1h-1zM652 147h1v1h-1zM653 148h1v1h-1zM653 149h1v1h-1zM654 150h1v1h-1zM655 151h1v1h-1zM656 152h1v1h-1zM656 153h1v1h-1zM657 154h1v1h-1zM658 155h1v1h-1zM659 156h1v1h-1zM659 157h1v1h-1zM660 158h1v1h-1zM661 159h1v1h-1zM661 160h1v1h-1zM662 161h1v1h-1zM662 162h1v1h-1zM663 163h1v1h-1zM663 164h1v1h-1zM664 165h1v1h-1zM664 166h1v1h-1zM665 167h1v1h-1zM665 168h1v1h-1zM666 169h1v1h-1zM666 170h1v1h-1zM667 171h1v1h-1zM667 172h1v1h-1zM668 173h1v1h-1zM668 174h1v1h-1zM669 175h1v1h-1zM669 176h1v1h-1zM670 177h1v1h-1zM670 178h1v1h-1zM671 179h1v1h-1zM671 180h1v1h-1zM672 181h1v1h-1zM672 182h1v1h-1zM673 183h1v1h-1zM673 184h1v1h-1zM674 185h1v1h-1zM1199 185h8v1h-8zM674 186h1v1h-1zM1196 186h3v1h-3zM1207 186h12v1h-12zM675 187h1v1h-1zM1193 187h3v1h-3zM1219 187h8v1h-8zM675 188h1v1h-1zM1190 188h3v1h-3zM1227 188h3v1h-3zM676 189h1v1h-1zM1188 189h2v1h-2zM1230 189h3v1h-3zM676 190h1v1h-1zM1185 190h3v1h-3zM1233 190h3v1h-3zM677 191h1v1h-1zM1182 191h3v1h-3zM1236 191h4v1h-4zM677 192h1v1h-1zM1180 192h2v1h-2zM1240 192h3v1h-3zM1267 192h14v1h-14zM678 193h1v1h-1zM1179 193h1v1h-1zM1243 193h3v1h-3zM1260 193h7v1h-7zM1281 193h12v1h-12zM678 194h1v1h-1zM1179 194h1v1h-1zM1246 194h3v1h-3zM1254 194h6v1h-6zM1293 194h2v1h-2zM679 195h1v1h-1zM1178 195h1v1h-1zM1249 195h5v1h-5zM1295 195h2v1h-2zM679 196h1v1h-1zM1178 196h1v1h-1zM1297 196h1v1h-1zM680 197h1v1h-1zM1177 197h1v1h-1zM1298 197h2v1h-2zM681 198h1v1h-1zM1177 198h1v1h-1zM1300 198h2v1h-2zM681 199h1v1h-1zM1176 199h1v1h-1zM1302 199h1v1h-1zM682 200h1v1h-1zM1176 200h1v1h-1zM1303 200h2v1h-2zM682 201h1v1h-1zM1175 201h1v1h-1zM1305 201h2v1h-2zM683 202h1v1h-1zM1175 202h1v1h-1zM1307 202h1v1h-1zM683 203h1v1h-1zM1174 203h1v1h-1zM1308 203h2v1h-2zM684 204h1v1h-1zM1174 204h1v1h-1zM1310 204h2v1h-2zM684 205h1v1h-1zM1173 205h1v1h-1zM1312 205h1v1h-1zM685 206h1v1h-1zM1173 206h1v1h-1zM1313 206h1v1h-1zM685 207h1v1h-1zM1172 207h1v1h-1zM1314 207h1v1h-1zM686 208h1v1h-1zM1171 208h1v1h-1zM1314 208h1v1h-1zM686 209h1v1h-1zM1171 209h1v1h-1zM1315 209h1v1h-1zM687 210h1v1h-1zM1170 210h1v1h-1zM1316 210h1v1h-1zM688 211h1v1h-1zM1170 211h1v1h-1zM1317 211h1v1h-1zM688 212h1v1h-1zM1169 212h1v1h-1zM1317 212h1v1h-1zM689 213h1v1h-1zM1169 213h1v1h-1zM1318 213h1v1h-1zM689 214h1v1h-1zM1168 214h1v1h-1zM1319 214h1v1h-1zM690 215h1v1h-1zM1168 215h1v1h-1zM1320 215h1v1h-1zM690 216h1v1h-1zM1167 216h1v1h-1zM1320 216h1v1h-1zM691 217h1v1h-1zM1167 217h1v1h-1zM1321 217h1v1h-1zM691 218h1v1h-1zM1166 218h1v1h-1zM1322 218h1v1h-1zM692 219h1v1h-1zM1166 219h1v1h-1zM1323 219h1v1h-1zM692 220h1v1h-1zM1165 220h1v1h-1zM1323 220h1v1h-1zM693 221h1v1h-1zM1165 221h1v1h-1zM1324 221h1v1h-1zM693 222h1v1h-1zM1164 222h1v1h-1zM1325 222h1v1h-1zM694 223h1v1h-1zM1164 223h1v1h-1zM1325 223h1v1h-1zM694 224h1v1h-1zM1164 224h1v1h-1zM1326 224h1v1h-1zM695 225h1v1h-1zM1163 225h1v1h-1zM1326 225h1v1h-1zM696 226h1v1h-1zM1163 226h1v1h-1zM1326 226h1v1h-1zM696 227h1v1h-1zM1163 227h1v1h-1zM1327 227h1v1h-1zM697 228h1v1h-1zM1162 228h1v1h-1zM1327 228h1v1h-1zM697 229h1v1h-1zM1162 229h1v1h-1zM1327 229h1v1h-1zM698 230h1v1h-1zM1162 230h1v1h-1zM1327 230h1v1h-1zM698 231h1v1h-1zM1161 231h1v1h-1zM1328 231h1v1h-1zM699 232h1v1h-1zM1161 232h1v1h-1zM1328 232h1v1h-1zM699 233h1v1h-1zM1161 233h1v1h-1zM1328 233h1v1h-1zM700 234h1v1h-1zM1161 234h1v1h-1zM1329 234h1v1h-1zM700 235h1v1h-1zM1160 235h1v1h-1zM1329 235h1v1h-1zM701 236h1v1h-1zM1160 236h1v1h-1zM1329 236h1v1h-1zM701 237h1v1h-1zM1160 237h1v1h-1zM1330 237h1v1h-1zM702 238h1v1h-1zM1159 238h1v1h-1zM1330 238h1v1h-1zM703 239h1v1h-1zM1159 239h1v1h-1zM1330 239h1v1h-1zM703 240h1v1h-1zM1159 240h1v1h-1zM1330 240h1v1h-1zM704 241h1v1h-1zM1158 241h1v1h-1zM1331 241h1v1h-1zM704 242h1v1h-1zM1158 242h1v1h-1zM1331 242h1v1h-1zM705 243h1v1h-1zM1158 243h1v1h-1zM1331 243h1v1h-1zM705 244h1v1h-1zM1157 244h1v1h-1zM1332 244h1v1h-1zM706 245h1v1h-1zM1157 245h1v1h-1zM1332 245h1v1h-1zM706 246h1v1h-1zM1157 246h1v1h-1zM1332 246h1v1h-1zM707 247h1v1h-1zM1156 247h1v1h-1zM1333 247h1v1h-1zM707 248h1v1h-1zM1156 248h1v1h-1zM1333 248h1v1h-1zM708 249h1v1h-1zM1156 249h1v1h-1zM1333 249h1v1h-1zM708 250h1v1h-1zM1155 250h1v1h-1zM1333 250h1v1h-1zM709 251h1v1h-1zM781 251h2v1h-2zM1155 251h1v1h-1zM1334 251h1v1h-1zM709 252h1v1h-1zM780 252h1v1h-1zM783 252h3v1h-3zM1155 252h1v1h-1zM1334 252h1v1h-1zM710 253h1v1h-1zM779 253h1v1h-1zM786 253h2v1h-2zM1154 253h1v1h-1zM1334 253h1v1h-1zM711 254h1v1h-1zM779 254h1v1h-1zM788 254h3v1h-3zM1154 254h1v1h-1zM1335 254h1v1h-1zM712 255h1v1h-1zM778 255h1v1h-1zM791 255h3v1h-3zM1154 255h1v1h-1zM1335 255h1v1h-1zM713 256h1v1h-1zM777 256h1v1h-1zM794 256h6v1h-6zM1154 256h1v1h-1zM1335 256h1v1h-1zM714 257h1v1h-1zM776 257h1v1h-1zM800 257h6v1h-6zM1153 257h1v1h-1zM1336 257h1v1h-1zM715 258h1v1h-1zM776 258h1v1h-1zM806 258h1v1h-1zM1153 258h1v1h-1zM1336 258h1v1h-1zM716 259h1v1h-1zM775 259h1v1h-1zM807 259h1v1h-1zM1153 259h1v1h-1zM1337 259h1v1h-1zM717 260h1v1h-1zM774 260h1v1h-1zM808 260h1v1h-1zM1152 260h1v1h-1zM1337 260h1v1h-1zM718 261h1v1h-1zM773 261h1v1h-1zM808 261h1v1h-1zM1152 261h1v1h-1zM1338 261h1v1h-1zM719 262h1v1h-1zM772 262h1v1h-1zM809 262h1v1h-1zM1152 262h1v1h-1zM1338 262h1v1h-1zM720 263h1v1h-1zM772 263h1v1h-1zM810 263h1v1h-1zM1151 263h1v1h-1zM1339 263h1v1h-1zM721 264h1v1h-1zM771 264h1v1h-1zM811 264h1v1h-1zM1151 264h1v1h-1zM1339 264h1v1h-1zM722 265h1v1h-1zM770 265h1v1h-1zM812 265h1v1h-1zM1151 265h1v1h-1zM1339 265h1v1h-1zM723 266h1v1h-1zM768 266h2v1h-2zM813 266h1v1h-1zM1150 266h1v1h-1zM1340 266h1v1h-1zM724 267h1v1h-1zM767 267h1v1h-1zM813 267h1v1h-1zM1150 267h1v1h-1zM1340 267h1v1h-1zM725 268h1v1h-1zM765 268h2v1h-2zM814 268h1v1h-1zM1150 268h1v1h-1zM1341 268h1v1h-1zM726 269h1v1h-1zM764 269h1v1h-1zM815 269h1v1h-1zM1149 269h1v1h-1zM1341 269h1v1h-1zM727 270h1v1h-1zM763 270h1v1h-1zM816 270h1v1h-1zM1149 270h1v1h-1zM1342 270h1v1h-1zM728 271h2v1h-2zM761 271h2v1h-2zM817 271h1v1h-1zM1149 271h1v1h-1zM1342 271h1v1h-1zM730 272h2v1h-2zM760 272h1v1h-1zM818 272h1v1h-1zM1149 272h1v1h-1zM1343 272h1v1h-1zM732 273h1v1h-1zM758 273h2v1h-2zM818 273h1v1h-1zM1148 273h1v1h-1zM1343 273h1v1h-1zM733 274h2v1h-2zM755 274h3v1h-3zM819 274h1v1h-1zM1148 274h1v1h-1zM1343 274h1v1h-1zM735 275h1v1h-1zM751 275h4v1h-4zM820 275h1v1h-1zM1148 275h1v1h-1zM1344 275h1v1h-1zM736 276h2v1h-2zM747 276h4v1h-4zM821 276h1v1h-1zM1148 276h1v1h-1zM1344 276h1v1h-1zM738 277h2v1h-2zM743 277h4v1h-4zM822 277h2v1h-2zM1147 277h1v1h-1zM1345 277h1v1h-1zM740 278h3v1h-3zM824 278h1v1h-1zM1147 278h1v1h-1zM1345 278h1v1h-1zM825 279h1v1h-1zM1147 279h1v1h-1zM1346 279h1v1h-1zM826 280h1v1h-1zM1147 280h1v1h-1zM1346 280h1v1h-1zM827 281h2v1h-2zM1146 281h1v1h-1zM1347 281h1v1h-1zM829 282h1v1h-1zM1146 282h1v1h-1zM1347 282h1v1h-1zM830 283h1v1h-1zM918 283h4v1h-4zM1146 283h1v1h-1zM1348 283h1v1h-1zM1416 283h22v1h-22zM831 284h1v1h-1zM914 284h4v1h-4zM922 284h5v1h-5zM1146 284h1v1h-1zM1349 284h1v1h-1zM1414 284h2v1h-2zM832 285h2v1h-2zM910 285h4v1h-4zM927 285h4v1h-4zM1145 285h1v1h-1zM1350 285h1v1h-1zM1411 285h3v1h-3zM834 286h1v1h-1zM873 286h19v1h-19zM906 286h4v1h-4zM931 286h2v1h-2zM1145 286h1v1h-1zM1351 286h1v1h-1zM1409 286h2v1h-2zM835 287h10v1h-10zM861 287h12v1h-12zM892 287h14v1h-14zM933 287h3v1h-3zM1145 287h1v1h-1zM1352 287h2v1h-2zM1407 287h2v1h-2zM845 288h16v1h-16zM936 288h2v1h-2zM1145 288h1v1h-1zM1354 288h1v1h-1zM1404 288h3v1h-3zM938 289h3v1h-3zM1144 289h1v1h-1zM1355 289h1v1h-1zM1402 289h2v1h-2zM941 290h2v1h-2zM1144 290h1v1h-1zM1356 290h1v1h-1zM1389 290h13v1h-13zM943 291h3v1h-3zM1144 291h1v1h-1zM1357 291h32v1h-32zM946 292h2v1h-2zM953 292h4v1h-4zM1144 292h1v1h-1zM948 293h5v1h-5zM957 293h2v1h-2zM1143 293h1v1h-1zM959 294h1v1h-1zM1143 294h1v1h-1zM960 295h2v1h-2zM1143 295h1v1h-1zM962 296h1v1h-1zM1143 296h1v1h-1zM963 297h2v1h-2zM1142 297h1v1h-1zM965 298h1v1h-1zM1142 298h1v1h-1zM966 299h2v1h-2zM1142 299h1v1h-1zM968 300h1v1h-1zM1142 300h1v1h-1zM969 301h2v1h-2zM1141 301h1v1h-1zM971 302h1v1h-1zM1141 302h1v1h-1zM972 303h2v1h-2zM1141 303h1v1h-1zM974 304h2v1h-2zM1141 304h1v1h-1zM976 305h1v1h-1zM1140 305h1v1h-1zM977 306h2v1h-2zM1140 306h1v1h-1zM979 307h1v1h-1zM1140 307h1v1h-1zM980 308h2v1h-2zM1140 308h1v1h-1zM982 309h1v1h-1zM1139 309h1v1h-1zM983 310h2v1h-2zM1139 310h1v1h-1zM985 311h1v1h-1zM1028 311h4v1h-4zM1139 311h1v1h-1zM986 312h2v1h-2zM1025 312h3v1h-3zM1032 312h5v1h-5zM1138 312h1v1h-1zM988 313h1v1h-1zM1022 313h3v1h-3zM1037 313h5v1h-5zM1138 313h1v1h-1zM989 314h2v1h-2zM1019 314h3v1h-3zM1042 314h5v1h-5zM1137 314h1v1h-1zM991 315h3v1h-3zM1017 315h2v1h-2zM1047 315h4v1h-4zM1137 315h1v1h-1zM994 316h6v1h-6zM1014 316h3v1h-3zM1051 316h4v1h-4zM1137 316h1v1h-1zM1000 317h6v1h-6zM1011 317h3v1h-3zM1055 317h3v1h-3zM1136 317h1v1h-1zM1006 318h5v1h-5zM1058 318h3v1h-3zM1136 318h1v1h-1zM1061 319h4v1h-4zM1135 319h1v1h-1zM1065 320h2v1h-2zM1135 320h1v1h-1zM1067 321h1v1h-1zM1135 321h1v1h-1zM1067 322h1v1h-1zM1134 322h1v1h-1zM1068 323h1v1h-1zM1134 323h1v1h-1zM1069 324h1v1h-1zM1133 324h1v1h-1zM1069 325h1v1h-1zM1133 325h1v1h-1zM1070 326h1v1h-1zM1133 326h1v1h-1zM1071 327h1v1h-1zM1132 327h1v1h-1zM1071 328h1v1h-1zM1132 328h1v1h-1zM1072 329h1v1h-1zM1131 329h1v1h-1zM1073 330h1v1h-1zM1131 330h1v1h-1zM1073 331h1v1h-1zM1131 331h1v1h-1zM1074 332h1v1h-1zM1130 332h1v1h-1zM1075 333h1v1h-1zM1130 333h1v1h-1zM1075 334h1v1h-1zM1129 334h1v1h-1zM1076 335h1v1h-1zM1129 335h1v1h-1zM1077 336h1v1h-1zM1127 336h2v1h-2zM1078 337h2v1h-2zM1126 337h1v1h-1zM1080 338h1v1h-1zM1124 338h2v1h-2zM1081 339h1v1h-1zM1123 339h1v1h-1zM1082 340h2v1h-2zM1122 340h1v1h-1zM1084 341h3v1h-3zM1120 341h2v1h-2zM1087 342h4v1h-4zM1118 342h2v1h-2zM1091 343h4v1h-4zM1115 343h3v1h-3zM1095 344h5v1h-5zM1111 344h4v1h-4zM1100 345h4v1h-4zM1108 345h3v1h-3zM1104 346h4v1h-4z"/>
<path fill="#2eb36a" shape-rendering="crispEdges" d="M61 106h53v1h-53zM57 107h4v1h-4zM114 107h4v1h-4zM48 108h9v1h-9zM118 108h3v1h-3zM33 109h15v1h-15zM121 109h1v1h-1zM23 110h10v1h-10zM122 110h2v1h-2zM19 111h4v1h-4zM124 111h1v1h-1zM15 112h4v1h-4zM125 112h1v1h-1zM11 113h4v1h-4zM126 113h2v1h-2zM8 114h3v1h-3zM128 114h1v1h-1zM242 114h5v1h-5zM284 114h31v1h-31zM5 115h3v1h-3zM129 115h2v1h-2zM240 115h2v1h-2zM247 115h8v1h-8zM277 115h7v1h-7zM315 115h4v1h-4zM2 116h3v1h-3zM131 116h1v1h-1zM216 116h24v1h-24zM255 116h8v1h-8zM270 116h7v1h-7zM319 116h4v1h-4zM0 117h2v1h-2zM132 117h2v1h-2zM212 117h4v1h-4zM263 117h7v1h-7zM323 117h24v1h-24zM472 117h15v1h-15zM134 118h1v1h-1zM209 118h3v1h-3zM347 118h3v1h-3zM461 118h11v1h-11zM487 118h6v1h-6zM135 119h2v1h-2zM206 119h3v1h-3zM350 119h3v1h-3zM459 119h2v1h-2zM493 119h2v1h-2zM137 120h2v1h-2zM202 120h4v1h-4zM353 120h2v1h-2zM456 120h3v1h-3zM495 120h1v1h-1zM139 121h2v1h-2zM198 121h4v1h-4zM355 121h3v1h-3zM454 121h2v1h-2zM496 121h2v1h-2zM141 122h3v1h-3zM194 122h4v1h-4zM358 122h3v1h-3zM452 122h2v1h-2zM498 122h1v1h-1zM144 123h2v1h-2zM190 123h4v1h-4zM361 123h3v1h-3zM449 123h3v1h-3zM499 123h2v1h-2zM146 124h3v1h-3zM186 124h4v1h-4zM364 124h4v1h-4zM447 124h2v1h-2zM501 124h1v1h-1zM149 125h4v1h-4zM169 125h17v1h-17zM368 125h4v1h-4zM443 125h4v1h-4zM502 125h2v1h-2zM153 126h16v1h-16zM372 126h4v1h-4zM438 126h5v1h-5zM504 126h1v1h-1zM376 127h4v1h-4zM433 127h5v1h-5zM505 127h2v1h-2zM380 128h6v1h-6zM428 128h5v1h-5zM507 128h1v1h-1zM386 129h10v1h-10zM423 129h5v1h-5zM508 129h2v1h-2zM396 130h27v1h-27zM510 130h1v1h-1zM511 131h2v1h-2zM513 132h2v1h-2zM515 133h2v1h-2zM517 134h2v1h-2zM519 135h2v1h-2zM521 136h2v1h-2zM523 137h2v1h-2zM525 138h2v1h-2zM527 139h2v1h-2zM529 140h2v1h-2zM531 141h2v1h-2zM533 142h2v1h-2zM535 143h2v1h-2zM537 144h2v1h-2zM539 145h2v1h-2zM541 146h1v1h-1zM542 147h1v1h-1zM543 148h1v1h-1zM544 149h1v1h-1zM545 150h2v1h-2zM547 151h1v1h-1zM548 152h1v1h-1zM549 153h1v1h-1zM550 154h1v1h-1zM551 155h1v1h-1zM552 156h1v1h-1zM553 157h1v1h-1zM554 158h1v1h-1zM555 159h2v1h-2zM557 160h1v1h-1zM558 161h1v1h-1zM559 162h1v1h-1zM560 163h1v1h-1zM561 164h1v1h-1zM561 165h1v1h-1zM562 166h1v1h-1zM563 167h1v1h-1zM564 168h1v1h-1zM564 169h1v1h-1zM565 170h1v1h-1zM566 171h1v1h-1zM567 172h1v1h-1zM567 173h1v1h-1zM568 174h1v1h-1zM569 175h1v1h-1zM570 176h1v1h-1zM570 177h1v1h-1zM571 178h1v1h-1zM572 179h1v1h-1zM573 180h1v1h-1zM573 181h1v1h-1zM574 182h1v1h-1zM575 183h1v1h-1zM576 184h1v1h-1zM576 185h1v1h-1zM577 186h1v1h-1zM578 187h1v1h-1zM579 188h1v1h-1zM579 189h1v1h-1zM580 190h1v1h-1zM581 191h1v1h-1zM581 192h1v1h-1zM582 193h1v1h-1zM583 194h1v1h-1zM583 195h1v1h-1zM584 196h1v1h-1zM585 197h1v1h-1zM585 198h1v1h-1zM586 199h1v1h-1zM587 200h1v1h-1zM587 201h1v1h-1zM588 202h1v1h-1zM589 203h1v1h-1zM589 204h1v1h-1zM590 205h1v1h-1zM591 206h1v1h-1zM591 207h1v1h-1zM592 208h1v1h-1zM593 209h1v1h-1zM593 210h1v1h-1zM594 211h1v1h-1zM595 212h1v1h-1zM595 213h1v1h-1zM596 214h1v1h-1zM597 215h1v1h-1zM597 216h1v1h-1zM598 217h1v1h-1zM599 218h1v1h-1zM599 219h1v1h-1zM600 220h1v1h-1zM600 221h1v1h-1zM601 222h1v1h-1zM601 223h1v1h-1zM602 224h1v1h-1zM602 225h1v1h-1zM603 226h1v1h-1zM603 227h1v1h-1zM604 228h1v1h-1zM604 229h1v1h-1zM605 230h1v1h-1zM605 231h1v1h-1zM605 232h1v1h-1zM606 233h1v1h-1zM606 234h1v1h-1zM607 235h1v1h-1zM607 236h1v1h-1zM608 237h1v1h-1zM608 238h1v1h-1zM609 239h1v1h-1zM609 240h1v1h-1zM610 241h1v1h-1zM610 242h1v1h-1zM610 243h1v1h-1zM611 244h1v1h-1zM611 245h1v1h-1zM612 246h1v1h-1zM612 247h1v1h-1zM613 248h1v1h-1zM613 249h1v1h-1zM614 250h1v1h-1zM614 251h1v1h-1zM615 252h1v1h-1zM615 253h1v1h-1zM615 254h1v1h-1zM616 255h1v1h-1zM616 256h1v1h-1zM617 257h1v1h-1zM617 258h1v1h-1zM618 259h1v1h-1zM618 260h1v1h-1zM619 261h1v1h-1zM619 262h1v1h-1zM620 263h1v1h-1zM620 264h1v1h-1zM621 265h1v1h-1zM621 266h1v1h-1zM621 267h1v1h-1zM622 268h1v1h-1zM622 269h1v1h-1zM623 270h1v1h-1zM623 271h1v1h-1zM624 272h1v1h-1zM624 273h1v1h-1zM625 274h1v1h-1zM625 275h1v1h-1zM626 276h1v1h-1zM626 277h1v1h-1zM626 278h1v1h-1zM627 279h1v1h-1zM627 280h1v1h-1zM628 281h1v1h-1zM628 282h1v1h-1zM629 283h1v1h-1zM629 284h1v1h-1zM630 285h1v1h-1zM630 286h1v1h-1zM631 287h1v1h-1zM631 288h1v1h-1zM632 289h1v1h-1zM632 290h1v1h-1zM633 291h1v1h-1zM633 292h1v1h-1zM634 293h1v1h-1zM634 294h1v1h-1zM635 295h1v1h-1zM635 296h1v1h-1zM1247 296h20v1h-20zM1273 296h14v1h-14zM636 297h1v1h-1zM1242 297h5v1h-5zM1267 297h6v1h-6zM1287 297h2v1h-2zM636 298h1v1h-1zM1240 298h2v1h-2zM1289 298h2v1h-2zM637 299h1v1h-1zM1238 299h2v1h-2zM1291 299h2v1h-2zM637 300h1v1h-1zM1236 300h2v1h-2zM1293 300h2v1h-2zM638 301h1v1h-1zM1234 301h2v1h-2zM1295 301h2v1h-2zM638 302h1v1h-1zM1232 302h2v1h-2zM1297 302h2v1h-2zM639 303h1v1h-1zM1230 303h2v1h-2zM1299 303h2v1h-2zM639 304h1v1h-1zM1229 304h1v1h-1zM1301 304h1v1h-1zM640 305h1v1h-1zM1227 305h2v1h-2zM1302 305h2v1h-2zM640 306h1v1h-1zM1226 306h1v1h-1zM1304 306h1v1h-1zM641 307h1v1h-1zM1225 307h1v1h-1zM1305 307h1v1h-1zM641 308h1v1h-1zM1223 308h2v1h-2zM1306 308h1v1h-1zM642 309h1v1h-1zM1222 309h1v1h-1zM1307 309h1v1h-1zM642 310h1v1h-1zM1220 310h2v1h-2zM1308 310h2v1h-2zM643 311h1v1h-1zM1216 311h4v1h-4zM1310 311h1v1h-1zM643 312h1v1h-1zM1214 312h2v1h-2zM1311 312h1v1h-1zM644 313h1v1h-1zM1212 313h2v1h-2zM1312 313h1v1h-1zM644 314h1v1h-1zM1209 314h3v1h-3zM1313 314h1v1h-1zM645 315h1v1h-1zM1206 315h3v1h-3zM1314 315h2v1h-2zM645 316h1v1h-1zM1204 316h2v1h-2zM1316 316h1v1h-1zM646 317h1v1h-1zM1202 317h2v1h-2zM1317 317h1v1h-1zM646 318h1v1h-1zM1200 318h2v1h-2zM1318 318h1v1h-1zM647 319h1v1h-1zM1199 319h1v1h-1zM1319 319h2v1h-2zM647 320h1v1h-1zM1198 320h1v1h-1zM1321 320h1v1h-1zM648 321h1v1h-1zM1196 321h2v1h-2zM1322 321h1v1h-1zM648 322h1v1h-1zM1195 322h1v1h-1zM1323 322h2v1h-2zM649 323h1v1h-1zM1194 323h1v1h-1zM1325 323h1v1h-1zM649 324h1v1h-1zM1193 324h1v1h-1zM1326 324h1v1h-1zM650 325h1v1h-1zM844 325h4v1h-4zM1192 325h1v1h-1zM1327 325h1v1h-1zM650 326h1v1h-1zM840 326h4v1h-4zM848 326h4v1h-4zM1191 326h1v1h-1zM1328 326h2v1h-2zM650 327h1v1h-1zM836 327h4v1h-4zM852 327h6v1h-6zM1189 327h2v1h-2zM1330 327h1v1h-1zM651 328h1v1h-1zM832 328h4v1h-4zM858 328h8v1h-8zM1188 328h1v1h-1zM1331 328h1v1h-1zM1434 328h4v1h-4zM651 329h1v1h-1zM830 329h2v1h-2zM866 329h6v1h-6zM1187 329h1v1h-1zM1332 329h2v1h-2zM1428 329h6v1h-6zM652 330h1v1h-1zM828 330h2v1h-2zM872 330h43v1h-43zM1186 330h1v1h-1zM1334 330h1v1h-1zM1424 330h4v1h-4zM652 331h1v1h-1zM827 331h1v1h-1zM915 331h12v1h-12zM1185 331h1v1h-1zM1335 331h2v1h-2zM1422 331h2v1h-2zM653 332h1v1h-1zM826 332h1v1h-1zM927 332h9v1h-9zM1184 332h1v1h-1zM1337 332h3v1h-3zM1420 332h2v1h-2zM653 333h1v1h-1zM824 333h2v1h-2zM936 333h2v1h-2zM1183 333h1v1h-1zM1340 333h3v1h-3zM1417 333h3v1h-3zM654 334h1v1h-1zM823 334h1v1h-1zM938 334h2v1h-2zM1181 334h2v1h-2zM1343 334h3v1h-3zM1415 334h2v1h-2zM654 335h1v1h-1zM822 335h1v1h-1zM940 335h2v1h-2zM1180 335h1v1h-1zM1346 335h3v1h-3zM1412 335h3v1h-3zM655 336h1v1h-1zM820 336h2v1h-2zM942 336h3v1h-3zM1179 336h1v1h-1zM1349 336h8v1h-8zM1410 336h2v1h-2zM655 337h1v1h-1zM819 337h1v1h-1zM945 337h2v1h-2zM1178 337h1v1h-1zM1357 337h12v1h-12zM1388 337h15v1h-15zM1408 337h2v1h-2zM656 338h1v1h-1zM818 338h1v1h-1zM947 338h2v1h-2zM1177 338h1v1h-1zM1369 338h19v1h-19zM1403 338h5v1h-5zM657 339h1v1h-1zM816 339h2v1h-2zM949 339h3v1h-3zM1176 339h1v1h-1zM657 340h1v1h-1zM815 340h1v1h-1zM952 340h2v1h-2zM1174 340h2v1h-2zM658 341h1v1h-1zM814 341h1v1h-1zM954 341h2v1h-2zM1173 341h1v1h-1zM659 342h1v1h-1zM813 342h1v1h-1zM956 342h2v1h-2zM1172 342h1v1h-1zM660 343h1v1h-1zM812 343h1v1h-1zM958 343h3v1h-3zM1171 343h1v1h-1zM661 344h1v1h-1zM810 344h2v1h-2zM961 344h3v1h-3zM1170 344h1v1h-1zM661 345h1v1h-1zM809 345h1v1h-1zM964 345h3v1h-3zM1169 345h1v1h-1zM662 346h1v1h-1zM808 346h1v1h-1zM967 346h3v1h-3zM1169 346h1v1h-1zM663 347h1v1h-1zM807 347h1v1h-1zM970 347h4v1h-4zM1168 347h1v1h-1zM664 348h1v1h-1zM806 348h1v1h-1zM974 348h3v1h-3zM1167 348h1v1h-1zM664 349h1v1h-1zM805 349h1v1h-1zM977 349h3v1h-3zM1166 349h1v1h-1zM665 350h1v1h-1zM804 350h1v1h-1zM980 350h3v1h-3zM1166 350h1v1h-1zM666 351h1v1h-1zM803 351h1v1h-1zM983 351h3v1h-3zM1165 351h1v1h-1zM667 352h1v1h-1zM802 352h1v1h-1zM986 352h3v1h-3zM1164 352h1v1h-1zM668 353h1v1h-1zM800 353h2v1h-2zM989 353h4v1h-4zM1163 353h1v1h-1zM668 354h1v1h-1zM799 354h1v1h-1zM993 354h3v1h-3zM1163 354h1v1h-1zM669 355h1v1h-1zM798 355h1v1h-1zM996 355h3v1h-3zM1162 355h1v1h-1zM670 356h1v1h-1zM797 356h1v1h-1zM999 356h4v1h-4zM1161 356h1v1h-1zM671 357h1v1h-1zM796 357h1v1h-1zM1003 357h3v1h-3zM1160 357h1v1h-1zM672 358h2v1h-2zM795 358h1v1h-1zM1006 358h3v1h-3zM1159 358h1v1h-1zM674 359h1v1h-1zM794 359h1v1h-1zM1009 359h2v1h-2zM1159 359h1v1h-1zM675 360h1v1h-1zM793 360h1v1h-1zM1011 360h3v1h-3zM1158 360h1v1h-1zM676 361h1v1h-1zM792 361h1v1h-1zM1014 361h3v1h-3zM1157 361h1v1h-1zM677 362h2v1h-2zM791 362h1v1h-1zM1017 362h2v1h-2zM1156 362h1v1h-1zM679 363h1v1h-1zM791 363h1v1h-1zM1019 363h3v1h-3zM1156 363h1v1h-1zM680 364h1v1h-1zM790 364h1v1h-1zM1022 364h3v1h-3zM1155 364h1v1h-1zM681 365h1v1h-1zM789 365h1v1h-1zM1025 365h2v1h-2zM1154 365h1v1h-1zM682 366h2v1h-2zM788 366h1v1h-1zM1027 366h3v1h-3zM1152 366h2v1h-2zM684 367h1v1h-1zM787 367h1v1h-1zM1030 367h3v1h-3zM1151 367h1v1h-1zM685 368h1v1h-1zM786 368h1v1h-1zM1033 368h2v1h-2zM1149 368h2v1h-2zM686 369h1v1h-1zM785 369h1v1h-1zM1035 369h3v1h-3zM1148 369h1v1h-1zM687 370h2v1h-2zM784 370h1v1h-1zM1038 370h3v1h-3zM1146 370h2v1h-2zM689 371h1v1h-1zM784 371h1v1h-1zM1041 371h4v1h-4zM1144 371h2v1h-2zM690 372h2v1h-2zM783 372h1v1h-1zM1045 372h4v1h-4zM1143 372h1v1h-1zM692 373h2v1h-2zM782 373h1v1h-1zM1049 373h4v1h-4zM1141 373h2v1h-2zM694 374h2v1h-2zM781 374h1v1h-1zM1053 374h3v1h-3zM1140 374h1v1h-1zM696 375h2v1h-2zM780 375h1v1h-1zM1056 375h4v1h-4zM1138 375h2v1h-2zM698 376h2v1h-2zM778 376h2v1h-2zM1060 376h4v1h-4zM1137 376h1v1h-1zM700 377h2v1h-2zM777 377h1v1h-1zM1064 377h4v1h-4zM1135 377h2v1h-2zM702 378h2v1h-2zM776 378h1v1h-1zM1068 378h3v1h-3zM1131 378h4v1h-4zM704 379h3v1h-3zM774 379h2v1h-2zM1071 379h2v1h-2zM1125 379h6v1h-6zM707 380h2v1h-2zM773 380h1v1h-1zM1073 380h3v1h-3zM1119 380h6v1h-6zM709 381h2v1h-2zM772 381h1v1h-1zM1076 381h2v1h-2zM1113 381h6v1h-6zM711 382h2v1h-2zM770 382h2v1h-2zM1078 382h3v1h-3zM1107 382h6v1h-6zM713 383h2v1h-2zM769 383h1v1h-1zM1081 383h2v1h-2zM1102 383h5v1h-5zM715 384h2v1h-2zM768 384h1v1h-1zM1083 384h3v1h-3zM1097 384h5v1h-5zM717 385h2v1h-2zM766 385h2v1h-2zM1086 385h2v1h-2zM1092 385h5v1h-5zM719 386h3v1h-3zM763 386h3v1h-3zM1088 386h4v1h-4zM722 387h4v1h-4zM758 387h5v1h-5zM726 388h4v1h-4zM753 388h5v1h-5zM730 389h4v1h-4zM748 389h5v1h-5zM734 390h4v1h-4zM743 390h5v1h-5zM738 391h5v1h-5z"/>
<path fill="#2eb36a" shape-rendering="crispEdges" d="M301 143h17v1h-17zM285 144h2v1h-2zM299 144h2v1h-2zM318 144h2v1h-2zM283 145h2v1h-2zM287 145h2v1h-2zM297 145h2v1h-2zM320 145h1v1h-1zM282 146h1v1h-1zM289 146h3v1h-3zM295 146h2v1h-2zM321 146h2v1h-2zM280 147h2v1h-2zM292 147h3v1h-3zM323 147h1v1h-1zM279 148h1v1h-1zM324 148h2v1h-2zM277 149h2v1h-2zM326 149h2v1h-2zM276 150h1v1h-1zM328 150h1v1h-1zM274 151h2v1h-2zM329 151h2v1h-2zM273 152h1v1h-1zM331 152h16v1h-16zM215 153h53v1h-53zM271 153h2v1h-2zM347 153h2v1h-2zM211 154h4v1h-4zM268 154h3v1h-3zM349 154h2v1h-2zM208 155h3v1h-3zM351 155h2v1h-2zM206 156h2v1h-2zM353 156h3v1h-3zM203 157h3v1h-3zM356 157h2v1h-2zM424 157h8v1h-8zM200 158h3v1h-3zM358 158h2v1h-2zM414 158h10v1h-10zM432 158h4v1h-4zM198 159h2v1h-2zM360 159h2v1h-2zM408 159h6v1h-6zM436 159h3v1h-3zM195 160h3v1h-3zM362 160h3v1h-3zM404 160h4v1h-4zM439 160h3v1h-3zM484 160h2v1h-2zM192 161h3v1h-3zM365 161h2v1h-2zM402 161h2v1h-2zM442 161h4v1h-4zM482 161h2v1h-2zM486 161h2v1h-2zM190 162h2v1h-2zM367 162h2v1h-2zM400 162h2v1h-2zM446 162h3v1h-3zM480 162h2v1h-2zM488 162h1v1h-1zM187 163h3v1h-3zM369 163h2v1h-2zM398 163h2v1h-2zM449 163h3v1h-3zM478 163h2v1h-2zM489 163h1v1h-1zM177 164h10v1h-10zM371 164h27v1h-27zM452 164h4v1h-4zM467 164h11v1h-11zM490 164h2v1h-2zM159 165h18v1h-18zM456 165h11v1h-11zM492 165h1v1h-1zM150 166h9v1h-9zM492 166h1v1h-1zM148 167h2v1h-2zM493 167h1v1h-1zM146 168h2v1h-2zM493 168h1v1h-1zM144 169h2v1h-2zM493 169h1v1h-1zM142 170h2v1h-2zM494 170h1v1h-1zM140 171h2v1h-2zM494 171h1v1h-1zM138 172h2v1h-2zM495 172h1v1h-1zM136 173h2v1h-2zM495 173h1v1h-1zM134 174h2v1h-2zM495 174h1v1h-1zM132 175h2v1h-2zM496 175h1v1h-1zM130 176h2v1h-2zM496 176h1v1h-1zM105 177h4v1h-4zM128 177h2v1h-2zM496 177h1v1h-1zM98 178h7v1h-7zM109 178h2v1h-2zM126 178h2v1h-2zM497 178h1v1h-1zM91 179h7v1h-7zM111 179h1v1h-1zM124 179h2v1h-2zM497 179h1v1h-1zM81 180h10v1h-10zM112 180h2v1h-2zM122 180h2v1h-2zM498 180h1v1h-1zM69 181h12v1h-12zM114 181h1v1h-1zM120 181h2v1h-2zM498 181h1v1h-1zM61 182h8v1h-8zM115 182h2v1h-2zM118 182h2v1h-2zM498 182h1v1h-1zM59 183h2v1h-2zM117 183h1v1h-1zM499 183h1v1h-1zM56 184h3v1h-3zM499 184h1v1h-1zM54 185h2v1h-2zM499 185h1v1h-1zM52 186h2v1h-2zM500 186h1v1h-1zM49 187h3v1h-3zM500 187h1v1h-1zM27 188h16v1h-16zM47 188h2v1h-2zM501 188h1v1h-1zM24 189h3v1h-3zM43 189h4v1h-4zM501 189h1v1h-1zM21 190h3v1h-3zM501 190h1v1h-1zM18 191h3v1h-3zM502 191h1v1h-1zM15 192h3v1h-3zM502 192h1v1h-1zM13 193h2v1h-2zM502 193h1v1h-1zM12 194h1v1h-1zM503 194h1v1h-1zM11 195h1v1h-1zM503 195h1v1h-1zM10 196h1v1h-1zM504 196h1v1h-1zM9 197h1v1h-1zM504 197h1v1h-1zM8 198h1v1h-1zM504 198h1v1h-1zM6 199h2v1h-2zM505 199h1v1h-1zM5 200h1v1h-1zM505 200h1v1h-1zM4 201h1v1h-1zM506 201h1v1h-1zM3 202h1v1h-1zM506 202h1v1h-1zM2 203h1v1h-1zM507 203h1v1h-1zM1 204h1v1h-1zM507 204h1v1h-1zM0 205h1v1h-1zM508 205h1v1h-1zM508 206h1v1h-1zM509 207h1v1h-1zM509 208h1v1h-1zM510 209h1v1h-1zM511 210h1v1h-1zM511 211h1v1h-1zM512 212h1v1h-1zM512 213h1v1h-1zM513 214h1v1h-1zM513 215h1v1h-1zM514 216h1v1h-1zM514 217h1v1h-1zM515 218h1v1h-1zM516 219h1v1h-1zM516 220h1v1h-1zM517 221h1v1h-1zM517 222h1v1h-1zM518 223h1v1h-1zM518 224h1v1h-1zM519 225h1v1h-1zM519 226h1v1h-1zM520 227h1v1h-1zM521 228h1v1h-1zM521 229h1v1h-1zM522 230h1v1h-1zM522 231h1v1h-1zM523 232h1v1h-1zM523 233h1v1h-1zM524 234h1v1h-1zM524 235h1v1h-1zM525 236h1v1h-1zM525 237h1v1h-1zM526 238h1v1h-1zM526 239h1v1h-1zM527 240h1v1h-1zM527 241h1v1h-1zM528 242h1v1h-1zM528 243h1v1h-1zM529 244h1v1h-1zM529 245h1v1h-1zM530 246h1v1h-1zM530 247h1v1h-1zM531 248h1v1h-1zM531 249h1v1h-1zM532 250h1v1h-1zM532 251h1v1h-1zM533 252h1v1h-1zM533 253h1v1h-1zM534 254h1v1h-1zM534 255h1v1h-1zM535 256h1v1h-1zM535 257h1v1h-1zM536 258h1v1h-1zM536 259h1v1h-1zM537 260h1v1h-1zM538 261h1v1h-1zM538 262h1v1h-1zM539 263h1v1h-1zM539 264h1v1h-1zM540 265h1v1h-1zM540 266h1v1h-1zM541 267h1v1h-1zM541 268h1v1h-1zM542 269h1v1h-1zM543 270h1v1h-1zM543 271h1v1h-1zM544 272h1v1h-1zM544 273h1v1h-1zM545 274h1v1h-1zM545 275h1v1h-1zM546 276h1v1h-1zM547 277h1v1h-1zM547 278h1v1h-1zM548 279h1v1h-1zM548 280h1v1h-1zM549 281h1v1h-1zM549 282h1v1h-1zM550 283h1v1h-1zM550 284h1v1h-1zM551 285h1v1h-1zM552 286h1v1h-1zM552 287h1v1h-1zM553 288h1v1h-1zM553 289h1v1h-1zM554 290h1v1h-1zM554 291h1v1h-1zM555 292h1v1h-1zM555 293h1v1h-1zM556 294h1v1h-1zM556 295h1v1h-1zM557 296h1v1h-1zM557 297h1v1h-1zM558 298h1v1h-1zM558 299h1v1h-1zM559 300h1v1h-1zM559 301h1v1h-1zM560 302h1v1h-1zM560 303h1v1h-1zM560 304h1v1h-1zM561 305h1v1h-1zM561 306h1v1h-1zM562 307h1v1h-1zM562 308h1v1h-1zM563 309h1v1h-1zM563 310h1v1h-1zM564 311h1v1h-1zM564 312h1v1h-1zM565 313h1v1h-1zM565 314h1v1h-1zM565 315h1v1h-1zM566 316h1v1h-1zM566 317h1v1h-1zM567 318h1v1h-1zM567 319h1v1h-1zM568 320h1v1h-1zM568 321h1v1h-1zM569 322h1v1h-1zM569 323h1v1h-1zM570 324h1v1h-1zM570 325h1v1h-1zM570 326h1v1h-1zM571 327h1v1h-1zM571 328h1v1h-1zM572 329h1v1h-1zM572 330h1v1h-1zM572 331h1v1h-1zM573 332h1v1h-1zM573 333h1v1h-1zM574 334h1v1h-1zM574 335h1v1h-1zM574 336h1v1h-1zM575 337h1v1h-1zM575 338h1v1h-1zM576 339h1v1h-1zM576 340h1v1h-1zM576 341h1v1h-1zM577 342h1v1h-1zM577 343h1v1h-1zM578 344h1v1h-1zM578 345h1v1h-1zM578 346h1v1h-1zM579 347h1v1h-1zM579 348h1v1h-1zM580 349h1v1h-1zM580 350h1v1h-1zM580 351h1v1h-1zM581 352h1v1h-1zM581 353h1v1h-1zM581 354h1v1h-1zM581 355h1v1h-1zM582 356h1v1h-1zM582 357h1v1h-1zM582 358h1v1h-1zM583 359h1v1h-1zM583 360h1v1h-1zM844 360h3v1h-3zM583 361h1v1h-1zM842 361h2v1h-2zM847 361h2v1h-2zM583 362h1v1h-1zM840 362h2v1h-2zM849 362h1v1h-1zM584 363h1v1h-1zM839 363h1v1h-1zM850 363h1v1h-1zM584 364h1v1h-1zM838 364h1v1h-1zM851 364h2v1h-2zM584 365h1v1h-1zM837 365h1v1h-1zM853 365h1v1h-1zM584 366h1v1h-1zM836 366h1v1h-1zM854 366h1v1h-1zM585 367h1v1h-1zM835 367h1v1h-1zM855 367h2v1h-2zM585 368h1v1h-1zM834 368h1v1h-1zM857 368h4v1h-4zM585 369h1v1h-1zM833 369h1v1h-1zM861 369h4v1h-4zM586 370h1v1h-1zM832 370h1v1h-1zM865 370h3v1h-3zM586 371h1v1h-1zM831 371h1v1h-1zM868 371h3v1h-3zM586 372h1v1h-1zM831 372h1v1h-1zM871 372h3v1h-3zM587 373h1v1h-1zM830 373h1v1h-1zM874 373h17v1h-17zM913 373h10v1h-10zM1433 373h5v1h-5zM587 374h1v1h-1zM830 374h1v1h-1zM891 374h22v1h-22zM923 374h6v1h-6zM1429 374h4v1h-4zM587 375h1v1h-1zM829 375h1v1h-1zM929 375h6v1h-6zM1428 375h1v1h-1zM588 376h1v1h-1zM829 376h1v1h-1zM935 376h6v1h-6zM1427 376h1v1h-1zM588 377h1v1h-1zM828 377h1v1h-1zM941 377h6v1h-6zM1425 377h2v1h-2zM588 378h1v1h-1zM828 378h1v1h-1zM947 378h3v1h-3zM1424 378h1v1h-1zM589 379h1v1h-1zM827 379h1v1h-1zM950 379h1v1h-1zM1423 379h1v1h-1zM589 380h1v1h-1zM827 380h1v1h-1zM951 380h1v1h-1zM1422 380h1v1h-1zM589 381h1v1h-1zM826 381h1v1h-1zM952 381h1v1h-1zM1421 381h1v1h-1zM590 382h1v1h-1zM825 382h1v1h-1zM953 382h1v1h-1zM1419 382h2v1h-2zM590 383h1v1h-1zM825 383h1v1h-1zM953 383h1v1h-1zM1417 383h2v1h-2zM591 384h1v1h-1zM824 384h1v1h-1zM954 384h1v1h-1zM1415 384h2v1h-2zM591 385h1v1h-1zM824 385h1v1h-1zM955 385h1v1h-1zM1413 385h2v1h-2zM591 386h1v1h-1zM823 386h1v1h-1zM956 386h2v1h-2zM1386 386h17v1h-17zM1408 386h5v1h-5zM592 387h1v1h-1zM823 387h1v1h-1zM958 387h2v1h-2zM1355 387h24v1h-24zM1382 387h4v1h-4zM1403 387h5v1h-5zM592 388h1v1h-1zM822 388h1v1h-1zM960 388h2v1h-2zM1353 388h2v1h-2zM1379 388h3v1h-3zM592 389h1v1h-1zM822 389h1v1h-1zM962 389h2v1h-2zM1351 389h2v1h-2zM593 390h1v1h-1zM821 390h1v1h-1zM964 390h3v1h-3zM1350 390h1v1h-1zM593 391h1v1h-1zM821 391h1v1h-1zM967 391h2v1h-2zM1349 391h1v1h-1zM593 392h1v1h-1zM820 392h1v1h-1zM969 392h2v1h-2zM1348 392h1v1h-1zM594 393h1v1h-1zM820 393h1v1h-1zM971 393h2v1h-2zM1347 393h1v1h-1zM594 394h1v1h-1zM819 394h1v1h-1zM973 394h18v1h-18zM1346 394h1v1h-1zM594 395h1v1h-1zM819 395h1v1h-1zM991 395h2v1h-2zM1345 395h1v1h-1zM595 396h1v1h-1zM819 396h1v1h-1zM993 396h3v1h-3zM1344 396h1v1h-1zM595 397h1v1h-1zM818 397h1v1h-1zM996 397h2v1h-2zM1250 397h8v1h-8zM1343 397h1v1h-1zM595 398h1v1h-1zM818 398h1v1h-1zM998 398h3v1h-3zM1246 398h4v1h-4zM1258 398h5v1h-5zM1281 398h6v1h-6zM1341 398h2v1h-2zM596 399h1v1h-1zM818 399h1v1h-1zM1001 399h2v1h-2zM1245 399h1v1h-1zM1263 399h2v1h-2zM1275 399h6v1h-6zM1287 399h2v1h-2zM1340 399h1v1h-1zM596 400h1v1h-1zM818 400h1v1h-1zM1003 400h2v1h-2zM1244 400h1v1h-1zM1265 400h3v1h-3zM1271 400h4v1h-4zM1289 400h2v1h-2zM1339 400h1v1h-1zM597 401h1v1h-1zM817 401h1v1h-1zM1005 401h1v1h-1zM1243 401h1v1h-1zM1268 401h3v1h-3zM1291 401h1v1h-1zM1338 401h1v1h-1zM597 402h1v1h-1zM817 402h1v1h-1zM1006 402h1v1h-1zM1243 402h1v1h-1zM1292 402h2v1h-2zM1337 402h1v1h-1zM598 403h1v1h-1zM817 403h1v1h-1zM1006 403h1v1h-1zM1242 403h1v1h-1zM1294 403h2v1h-2zM1336 403h1v1h-1zM598 404h1v1h-1zM816 404h1v1h-1zM1007 404h1v1h-1zM1241 404h1v1h-1zM1296 404h1v1h-1zM1335 404h1v1h-1zM599 405h1v1h-1zM816 405h1v1h-1zM1008 405h1v1h-1zM1240 405h1v1h-1zM1297 405h2v1h-2zM1334 405h1v1h-1zM599 406h1v1h-1zM816 406h1v1h-1zM1009 406h1v1h-1zM1239 406h1v1h-1zM1299 406h1v1h-1zM1333 406h1v1h-1zM600 407h1v1h-1zM815 407h1v1h-1zM1009 407h1v1h-1zM1238 407h1v1h-1zM1300 407h2v1h-2zM1332 407h1v1h-1zM600 408h1v1h-1zM815 408h1v1h-1zM1010 408h1v1h-1zM1238 408h1v1h-1zM1302 408h1v1h-1zM1331 408h1v1h-1zM601 409h1v1h-1zM815 409h1v1h-1zM1011 409h1v1h-1zM1237 409h1v1h-1zM1303 409h2v1h-2zM1331 409h1v1h-1zM601 410h1v1h-1zM814 410h1v1h-1zM1012 410h1v1h-1zM1236 410h1v1h-1zM1305 410h1v1h-1zM1330 410h1v1h-1zM602 411h1v1h-1zM814 411h1v1h-1zM1012 411h1v1h-1zM1235 411h1v1h-1zM1306 411h1v1h-1zM1329 411h1v1h-1zM602 412h1v1h-1zM814 412h1v1h-1zM1013 412h1v1h-1zM1235 412h1v1h-1zM1307 412h1v1h-1zM1329 412h1v1h-1zM603 413h1v1h-1zM813 413h1v1h-1zM1014 413h1v1h-1zM1234 413h1v1h-1zM1308 413h2v1h-2zM1328 413h1v1h-1zM603 414h1v1h-1zM813 414h1v1h-1zM1015 414h1v1h-1zM1233 414h1v1h-1zM1310 414h1v1h-1zM1328 414h1v1h-1zM603 415h1v1h-1zM813 415h1v1h-1zM1015 415h1v1h-1zM1232 415h1v1h-1zM1311 415h1v1h-1zM1327 415h1v1h-1zM604 416h1v1h-1zM813 416h1v1h-1zM1016 416h1v1h-1zM1231 416h1v1h-1zM1312 416h2v1h-2zM1326 416h1v1h-1zM604 417h1v1h-1zM812 417h1v1h-1zM1017 417h1v1h-1zM1231 417h1v1h-1zM1314 417h2v1h-2zM1326 417h1v1h-1zM605 418h1v1h-1zM812 418h1v1h-1zM1018 418h1v1h-1zM1230 418h1v1h-1zM1316 418h2v1h-2zM1322 418h4v1h-4zM605 419h1v1h-1zM812 419h1v1h-1zM1018 419h1v1h-1zM1229 419h1v1h-1zM1318 419h4v1h-4zM606 420h1v1h-1zM811 420h1v1h-1zM1019 420h1v1h-1zM1228 420h1v1h-1zM606 421h1v1h-1zM811 421h1v1h-1zM1020 421h2v1h-2zM1228 421h1v1h-1zM607 422h1v1h-1zM811 422h1v1h-1zM1022 422h1v1h-1zM1227 422h1v1h-1zM607 423h1v1h-1zM810 423h1v1h-1zM1023 423h2v1h-2zM1226 423h1v1h-1zM608 424h1v1h-1zM810 424h1v1h-1zM1025 424h1v1h-1zM1225 424h1v1h-1zM608 425h1v1h-1zM810 425h1v1h-1zM1026 425h2v1h-2zM1113 425h7v1h-7zM1224 425h1v1h-1zM609 426h1v1h-1zM809 426h1v1h-1zM1028 426h1v1h-1zM1099 426h14v1h-14zM1120 426h2v1h-2zM1224 426h1v1h-1zM609 427h1v1h-1zM809 427h1v1h-1zM1029 427h2v1h-2zM1086 427h13v1h-13zM1122 427h2v1h-2zM1223 427h1v1h-1zM610 428h1v1h-1zM809 428h1v1h-1zM1031 428h1v1h-1zM1079 428h7v1h-7zM1124 428h1v1h-1zM1222 428h1v1h-1zM610 429h1v1h-1zM808 429h1v1h-1zM1032 429h2v1h-2zM1077 429h2v1h-2zM1125 429h2v1h-2zM1221 429h1v1h-1zM611 430h1v1h-1zM808 430h1v1h-1zM1034 430h4v1h-4zM1076 430h1v1h-1zM1127 430h2v1h-2zM1221 430h1v1h-1zM611 431h1v1h-1zM808 431h1v1h-1zM1038 431h7v1h-7zM1074 431h2v1h-2zM1129 431h2v1h-2zM1220 431h1v1h-1zM612 432h1v1h-1zM808 432h1v1h-1zM1045 432h7v1h-7zM1073 432h1v1h-1zM1131 432h1v1h-1zM1219 432h1v1h-1zM612 433h1v1h-1zM807 433h1v1h-1zM1052 433h7v1h-7zM1072 433h1v1h-1zM1132 433h1v1h-1zM1218 433h1v1h-1zM613 434h1v1h-1zM807 434h1v1h-1zM1059 434h7v1h-7zM1070 434h2v1h-2zM1132 434h1v1h-1zM1216 434h2v1h-2zM613 435h1v1h-1zM807 435h1v1h-1zM1066 435h4v1h-4zM1133 435h1v1h-1zM1215 435h1v1h-1zM614 436h1v1h-1zM806 436h1v1h-1zM1134 436h1v1h-1zM1214 436h1v1h-1zM614 437h1v1h-1zM806 437h1v1h-1zM1135 437h1v1h-1zM1212 437h2v1h-2zM615 438h1v1h-1zM806 438h1v1h-1zM1135 438h1v1h-1zM1211 438h1v1h-1zM615 439h1v1h-1zM805 439h1v1h-1zM1136 439h1v1h-1zM1210 439h1v1h-1zM616 440h1v1h-1zM805 440h1v1h-1zM1137 440h1v1h-1zM1209 440h1v1h-1zM616 441h1v1h-1zM805 441h1v1h-1zM1137 441h1v1h-1zM1207 441h2v1h-2zM617 442h1v1h-1zM804 442h1v1h-1zM1138 442h1v1h-1zM1206 442h1v1h-1zM617 443h1v1h-1zM804 443h1v1h-1zM1139 443h1v1h-1zM1205 443h1v1h-1zM618 444h1v1h-1zM803 444h1v1h-1zM1140 444h1v1h-1zM1204 444h1v1h-1zM618 445h1v1h-1zM803 445h1v1h-1zM1140 445h1v1h-1zM1202 445h2v1h-2zM619 446h1v1h-1zM802 446h1v1h-1zM1141 446h1v1h-1zM1201 446h1v1h-1zM619 447h1v1h-1zM802 447h1v1h-1zM1142 447h1v1h-1zM1200 447h1v1h-1zM620 448h1v1h-1zM801 448h1v1h-1zM1143 448h1v1h-1zM1198 448h2v1h-2zM620 449h1v1h-1zM801 449h1v1h-1zM1143 449h1v1h-1zM1197 449h1v1h-1zM621 450h1v1h-1zM800 450h1v1h-1zM1144 450h1v1h-1zM1196 450h1v1h-1zM621 451h1v1h-1zM800 451h1v1h-1zM1145 451h1v1h-1zM1195 451h1v1h-1zM621 452h1v1h-1zM799 452h1v1h-1zM1145 452h1v1h-1zM1194 452h1v1h-1zM621 453h1v1h-1zM799 453h1v1h-1zM1146 453h1v1h-1zM1193 453h1v1h-1zM622 454h1v1h-1zM798 454h1v1h-1zM1147 454h1v1h-1zM1193 454h1v1h-1zM622 455h1v1h-1zM798 455h1v1h-1zM1148 455h1v1h-1zM1192 455h1v1h-1zM622 456h1v1h-1zM798 456h1v1h-1zM1148 456h1v1h-1zM1191 456h1v1h-1zM622 457h1v1h-1zM797 457h1v1h-1zM1149 457h1v1h-1zM1190 457h1v1h-1zM623 458h1v1h-1zM797 458h1v1h-1zM1150 458h1v1h-1zM1189 458h1v1h-1zM623 459h1v1h-1zM796 459h1v1h-1zM1151 459h1v1h-1zM1188 459h1v1h-1zM623 460h1v1h-1zM796 460h1v1h-1zM1152 460h1v1h-1zM1187 460h1v1h-1zM623 461h1v1h-1zM795 461h1v1h-1zM1153 461h1v1h-1zM1187 461h1v1h-1zM624 462h1v1h-1zM795 462h1v1h-1zM1154 462h2v1h-2zM1186 462h1v1h-1zM624 463h1v1h-1zM794 463h1v1h-1zM1156 463h1v1h-1zM1185 463h1v1h-1zM624 464h1v1h-1zM794 464h1v1h-1zM1157 464h1v1h-1zM1184 464h1v1h-1zM624 465h1v1h-1zM793 465h1v1h-1zM1158 465h1v1h-1zM1183 465h1v1h-1zM625 466h1v1h-1zM793 466h1v1h-1zM1159 466h1v1h-1zM1182 466h1v1h-1zM625 467h1v1h-1zM792 467h1v1h-1zM1160 467h1v1h-1zM1181 467h1v1h-1zM625 468h1v1h-1zM792 468h1v1h-1zM1161 468h1v1h-1zM1181 468h1v1h-1zM625 469h1v1h-1zM791 469h1v1h-1zM1162 469h1v1h-1zM1180 469h1v1h-1zM626 470h1v1h-1zM791 470h1v1h-1zM1163 470h1v1h-1zM1179 470h1v1h-1zM626 471h1v1h-1zM790 471h1v1h-1zM1164 471h1v1h-1zM1178 471h1v1h-1zM626 472h1v1h-1zM790 472h1v1h-1zM1165 472h1v1h-1zM1177 472h1v1h-1zM626 473h1v1h-1zM790 473h1v1h-1zM1166 473h2v1h-2zM1176 473h1v1h-1zM627 474h1v1h-1zM789 474h1v1h-1zM1168 474h1v1h-1zM1175 474h1v1h-1zM627 475h1v1h-1zM789 475h1v1h-1zM1169 475h1v1h-1zM1175 475h1v1h-1zM627 476h1v1h-1zM789 476h1v1h-1zM1170 476h1v1h-1zM1174 476h1v1h-1zM628 477h1v1h-1zM788 477h1v1h-1zM1171 477h1v1h-1zM1173 477h1v1h-1zM628 478h1v1h-1zM788 478h1v1h-1zM1172 478h1v1h-1zM628 479h1v1h-1zM788 479h1v1h-1zM628 480h1v1h-1zM788 480h1v1h-1zM629 481h1v1h-1zM787 481h1v1h-1zM629 482h1v1h-1zM787 482h1v1h-1zM629 483h1v1h-1zM787 483h1v1h-1zM630 484h1v1h-1zM786 484h1v1h-1zM630 485h1v1h-1zM786 485h1v1h-1zM630 486h1v1h-1zM786 486h1v1h-1zM631 487h1v1h-1zM785 487h1v1h-1zM631 488h1v1h-1zM785 488h1v1h-1zM631 489h1v1h-1zM785 489h1v1h-1zM631 490h1v1h-1zM784 490h1v1h-1zM632 491h1v1h-1zM784 491h1v1h-1zM632 492h1v1h-1zM784 492h1v1h-1zM632 493h1v1h-1zM783 493h1v1h-1zM633 494h1v1h-1zM783 494h1v1h-1zM633 495h1v1h-1zM783 495h1v1h-1zM633 496h1v1h-1zM783 496h1v1h-1zM634 497h1v1h-1zM782 497h1v1h-1zM634 498h1v1h-1zM782 498h1v1h-1zM634 499h1v1h-1zM782 499h1v1h-1zM634 500h1v1h-1zM781 500h1v1h-1zM635 501h1v1h-1zM779 501h3v1h-3zM635 502h1v1h-1zM774 502h5v1h-5zM636 503h1v1h-1zM770 503h4v1h-4zM636 504h1v1h-1zM736 504h14v1h-14zM765 504h5v1h-5zM637 505h1v1h-1zM732 505h4v1h-4zM750 505h15v1h-15zM638 506h1v1h-1zM729 506h3v1h-3zM638 507h1v1h-1zM726 507h3v1h-3zM639 508h1v1h-1zM722 508h4v1h-4zM639 509h1v1h-1zM719 509h3v1h-3zM640 510h1v1h-1zM717 510h2v1h-2zM641 511h1v1h-1zM715 511h2v1h-2zM642 512h1v1h-1zM714 512h1v1h-1zM643 513h1v1h-1zM712 513h2v1h-2zM644 514h1v1h-1zM711 514h1v1h-1zM645 515h1v1h-1zM709 515h2v1h-2zM646 516h1v1h-1zM708 516h1v1h-1zM646 517h1v1h-1zM706 517h2v1h-2zM647 518h1v1h-1zM705 518h1v1h-1zM648 519h1v1h-1zM704 519h1v1h-1zM649 520h1v1h-1zM702 520h2v1h-2zM650 521h1v1h-1zM701 521h1v1h-1zM651 522h1v1h-1zM699 522h2v1h-2zM652 523h1v1h-1zM698 523h1v1h-1zM653 524h1v1h-1zM696 524h2v1h-2zM653 525h1v1h-1zM695 525h1v1h-1zM654 526h1v1h-1zM694 526h1v1h-1zM655 527h1v1h-1zM692 527h2v1h-2zM655 528h1v1h-1zM691 528h1v1h-1zM656 529h1v1h-1zM690 529h1v1h-1zM657 530h1v1h-1zM689 530h1v1h-1zM657 531h1v1h-1zM687 531h2v1h-2zM658 532h1v1h-1zM686 532h1v1h-1zM658 533h1v1h-1zM684 533h2v1h-2zM659 534h1v1h-1zM682 534h2v1h-2zM660 535h1v1h-1zM679 535h3v1h-3zM660 536h1v1h-1zM677 536h2v1h-2zM661 537h3v1h-3zM674 537h3v1h-3zM664 538h4v1h-4zM672 538h2v1h-2zM668 539h4v1h-4z"/>
<g shape-rendering="crispEdges">
<rect x="5" y="100" width="1" height="14" fill="#000"/>
<rect x="3" y="100" width="5" height="8" fill="#000"/>
<rect x="13" y="90" width="1" height="50" fill="#000"/>
<rect x="11" y="95" width="5" height="35" fill="#000"/>
<rect x="21" y="113" width="1" height="22" fill="#000"/>
<rect x="19" y="127" width="5" height="3" fill="#000"/>
<rect x="20" y="128" width="3" height="1" fill="#fff"/>
<rect x="29" y="126" width="1" height="8" fill="#000"/>
<rect x="27" y="129" width="5" height="5" fill="#000"/>
<rect x="28" y="130" width="3" height="3" fill="#fff"/>
<rect x="37" y="126" width="1" height="33" fill="#000"/>
<rect x="35" y="129" width="5" height="21" fill="#000"/>
<rect x="45" y="142" width="1" height="18" fill="#000"/>
<rect x="43" y="149" width="5" height="6" fill="#000"/>
<rect x="53" y="141" width="1" height="3" fill="#000"/>
<rect x="51" y="142" width="5" height="1" fill="#000"/>
<rect x="61" y="121" width="1" height="22" fill="#000"/>
<rect x="59" y="127" width="5" height="16" fill="#000"/>
<rect x="60" y="128" width="3" height="14" fill="#fff"/>
<rect x="69" y="95" width="1" height="43" fill="#000"/>
<rect x="67" y="100" width="5" height="27" fill="#000"/>
<rect x="68" y="101" width="3" height="25" fill="#fff"/>
<rect x="77" y="100" width="1" height="14" fill="#000"/>
<rect x="75" y="100" width="5" height="14" fill="#000"/>
<rect x="76" y="101" width="3" height="12" fill="#fff"/>
<rect x="85" y="95" width="1" height="31" fill="#000"/>
<rect x="83" y="100" width="5" height="21" fill="#000"/>
<rect x="93" y="95" width="1" height="34" fill="#000"/>
<rect x="91" y="100" width="5" height="20" fill="#000"/>
<rect x="92" y="101" width="3" height="18" fill="#fff"/>
<rect x="101" y="90" width="1" height="16" fill="#000"/>
<rect x="99" y="95" width="5" height="9" fill="#000"/>
<rect x="100" y="96" width="3" height="7" fill="#fff"/>
<rect x="109" y="95" width="1" height="38" fill="#000"/>
<rect x="107" y="100" width="5" height="23" fill="#000"/>
<rect x="117" y="121" width="1" height="42" fill="#000"/>
<rect x="115" y="122" width="5" height="35" fill="#000"/>
<rect x="125" y="156" width="1" height="11" fill="#000"/>
<rect x="123" y="158" width="5" height="8" fill="#000"/>
<rect x="124" y="159" width="3" height="6" fill="#fff"/>
<rect x="133" y="119" width="1" height="41" fill="#000"/>
<rect x="131" y="120" width="5" height="38" fill="#000"/>
<rect x="132" y="121" width="3" height="36" fill="#fff"/>
<rect x="141" y="109" width="1" height="46" fill="#000"/>
<rect x="139" y="120" width="5" height="28" fill="#000"/>
<rect x="149" y="112" width="1" height="48" fill="#000"/>
<rect x="147" y="117" width="5" height="31" fill="#000"/>
<rect x="148" y="118" width="3" height="29" fill="#fff"/>
<rect x="157" y="105" width="1" height="24" fill="#000"/>
<rect x="155" y="112" width="5" height="6" fill="#000"/>
<rect x="156" y="113" width="3" height="4" fill="#fff"/>
<rect x="165" y="105" width="1" height="13" fill="#000"/>
<rect x="163" y="112" width="5" height="2" fill="#000"/>
<rect x="173" y="116" width="1" height="5" fill="#000"/>
<rect x="171" y="117" width="5" height="3" fill="#000"/>
<rect x="172" y="118" width="3" height="1" fill="#fff"/>
<rect x="181" y="115" width="1" height="16" fill="#000"/>
<rect x="179" y="118" width="5" height="1" fill="#000"/>
<rect x="189" y="105" width="1" height="24" fill="#000"/>
<rect x="187" y="114" width="5" height="5" fill="#000"/>
<rect x="188" y="115" width="3" height="3" fill="#fff"/>
<rect x="197" y="100" width="1" height="24" fill="#000"/>
<rect x="195" y="100" width="5" height="14" fill="#000"/>
<rect x="196" y="101" width="3" height="12" fill="#fff"/>
<rect x="205" y="100" width="1" height="10" fill="#000"/>
<rect x="203" y="100" width="5" height="8" fill="#000"/>
<rect x="213" y="92" width="1" height="14" fill="#000"/>
<rect x="211" y="95" width="5" height="9" fill="#000"/>
<rect x="212" y="96" width="3" height="7" fill="#fff"/>
<rect x="221" y="107" width="1" height="5" fill="#000"/>
<rect x="219" y="108" width="5" height="4" fill="#000"/>
<rect x="220" y="109" width="3" height="2" fill="#fff"/>
<rect x="229" y="106" width="1" height="14" fill="#000"/>
<rect x="227" y="107" width="5" height="3" fill="#000"/>
<rect x="237" y="92" width="1" height="27" fill="#000"/>
<rect x="235" y="106" width="5" height="3" fill="#000"/>
<rect x="236" y="107" width="3" height="1" fill="#fff"/>
<rect x="245" y="77" width="1" height="31" fill="#000"/>
<rect x="243" y="86" width="5" height="20" fill="#000"/>
<rect x="244" y="87" width="3" height="18" fill="#fff"/>
<rect x="253" y="85" width="1" height="26" fill="#000"/>
<rect x="251" y="85" width="5" height="13" fill="#000"/>
<rect x="261" y="82" width="1" height="40" fill="#000"/>
<rect x="259" y="97" width="5" height="21" fill="#000"/>
<rect x="269" y="128" width="1" height="10" fill="#000"/>
<rect x="267" y="130" width="5" height="7" fill="#000"/>
<rect x="277" y="121" width="1" height="16" fill="#000"/>
<rect x="275" y="132" width="5" height="5" fill="#000"/>
<rect x="276" y="133" width="3" height="3" fill="#fff"/>
<rect x="285" y="128" width="1" height="24" fill="#000"/>
<rect x="283" y="132" width="5" height="4" fill="#000"/>
<rect x="293" y="133" width="1" height="12" fill="#000"/>
<rect x="291" y="135" width="5" height="6" fill="#000"/>
<rect x="301" y="122" width="1" height="35" fill="#000"/>
<rect x="299" y="127" width="5" height="14" fill="#000"/>
<rect x="300" y="128" width="3" height="12" fill="#fff"/>
<rect x="309" y="108" width="1" height="20" fill="#000"/>
<rect x="307" y="114" width="5" height="14" fill="#000"/>
<rect x="308" y="115" width="3" height="12" fill="#fff"/>
<rect x="317" y="117" width="1" height="5" fill="#000"/>
<rect x="315" y="118" width="5" height="3" fill="#000"/>
<rect x="316" y="119" width="3" height="1" fill="#fff"/>
<rect x="325" y="112" width="1" height="49" fill="#000"/>
<rect x="323" y="118" width="5" height="41" fill="#000"/>
<rect x="333" y="118" width="1" height="47" fill="#000"/>
<rect x="331" y="124" width="5" height="35" fill="#000"/>
<rect x="332" y="125" width="3" height="33" fill="#fff"/>
<rect x="341" y="106" width="1" height="28" fill="#000"/>
<rect x="339" y="122" width="5" height="2" fill="#000"/>
<rect x="349" y="119" width="1" height="18" fill="#000"/>
<rect x="347" y="122" width="5" height="13" fill="#000"/>
<rect x="357" y="129" width="1" height="24" fill="#000"/>
<rect x="355" y="134" width="5" height="19" fill="#000"/>
<rect x="365" y="151" width="1" height="6" fill="#000"/>
<rect x="363" y="153" width="5" height="3" fill="#000"/>
<rect x="373" y="136" width="1" height="20" fill="#000"/>
<rect x="371" y="144" width="5" height="11" fill="#000"/>
<rect x="372" y="145" width="3" height="9" fill="#fff"/>
<rect x="381" y="128" width="1" height="19" fill="#000"/>
<rect x="379" y="131" width="5" height="13" fill="#000"/>
<rect x="380" y="132" width="3" height="11" fill="#fff"/>
<rect x="389" y="117" width="1" height="17" fill="#000"/>
<rect x="387" y="130" width="5" height="2" fill="#000"/>
<rect x="397" y="103" width="1" height="33" fill="#000"/>
<rect x="395" y="110" width="5" height="20" fill="#000"/>
<rect x="396" y="111" width="3" height="18" fill="#fff"/>
<rect x="405" y="105" width="1" height="16" fill="#000"/>
<rect x="403" y="110" width="5" height="4" fill="#000"/>
<rect x="413" y="106" width="1" height="5" fill="#000"/>
<rect x="411" y="108" width="5" height="3" fill="#000"/>
<rect x="412" y="109" width="3" height="1" fill="#fff"/>
<rect x="421" y="106" width="1" height="15" fill="#000"/>
<rect x="419" y="108" width="5" height="11" fill="#000"/>
<rect x="429" y="109" width="1" height="23" fill="#000"/>
<rect x="427" y="117" width="5" height="2" fill="#000"/>
<rect x="437" y="87" width="1" height="33" fill="#000"/>
<rect x="435" y="97" width="5" height="21" fill="#000"/>
<rect x="436" y="98" width="3" height="19" fill="#fff"/>
<rect x="445" y="77" width="1" height="25" fill="#000"/>
<rect x="443" y="86" width="5" height="12" fill="#000"/>
<rect x="444" y="87" width="3" height="10" fill="#fff"/>
<rect x="453" y="68" width="1" height="31" fill="#000"/>
<rect x="451" y="72" width="5" height="13" fill="#000"/>
<rect x="452" y="73" width="3" height="11" fill="#fff"/>
<rect x="461" y="79" width="1" height="7" fill="#000"/>
<rect x="459" y="80" width="5" height="5" fill="#000"/>
<rect x="460" y="81" width="3" height="3" fill="#fff"/>
<rect x="469" y="76" width="1" height="48" fill="#000"/>
<rect x="467" y="80" width="5" height="29" fill="#000"/>
<rect x="477" y="99" width="1" height="17" fill="#000"/>
<rect x="475" y="105" width="5" height="5" fill="#000"/>
<rect x="476" y="106" width="3" height="3" fill="#fff"/>
<rect x="485" y="98" width="1" height="36" fill="#000"/>
<rect x="483" y="105" width="5" height="24" fill="#000"/>
<rect x="493" y="125" width="1" height="34" fill="#000"/>
<rect x="491" y="127" width="5" height="30" fill="#000"/>
<rect x="501" y="154" width="1" height="91" fill="#000"/>
<rect x="499" y="155" width="5" height="80" fill="#000"/>
<rect x="509" y="233" width="1" height="16" fill="#000"/>
<rect x="507" y="236" width="5" height="11" fill="#000"/>
<rect x="508" y="237" width="3" height="9" fill="#fff"/>
<rect x="517" y="205" width="1" height="49" fill="#000"/>
<rect x="515" y="220" width="5" height="15" fill="#000"/>
<rect x="516" y="221" width="3" height="13" fill="#fff"/>
<rect x="525" y="220" width="1" height="39" fill="#000"/>
<rect x="523" y="221" width="5" height="31" fill="#000"/>
<rect x="533" y="217" width="1" height="36" fill="#000"/>
<rect x="531" y="218" width="5" height="34" fill="#000"/>
<rect x="532" y="219" width="3" height="32" fill="#fff"/>
<rect x="541" y="219" width="1" height="30" fill="#000"/>
<rect x="539" y="220" width="5" height="23" fill="#000"/>
<rect x="549" y="239" width="1" height="32" fill="#000"/>
<rect x="547" y="242" width="5" height="18" fill="#000"/>
<rect x="557" y="272" width="1" height="15" fill="#000"/>
<rect x="555" y="279" width="5" height="8" fill="#000"/>
<rect x="556" y="280" width="3" height="6" fill="#fff"/>
<rect x="565" y="272" width="1" height="90" fill="#000"/>
<rect x="563" y="277" width="5" height="34" fill="#000"/>
<rect x="573" y="252" width="1" height="75" fill="#000"/>
<rect x="571" y="291" width="5" height="19" fill="#000"/>
<rect x="572" y="292" width="3" height="17" fill="#fff"/>
<rect x="581" y="267" width="1" height="67" fill="#000"/>
<rect x="579" y="291" width="5" height="38" fill="#000"/>
<rect x="589" y="322" width="1" height="71" fill="#000"/>
<rect x="587" y="326" width="5" height="60" fill="#000"/>
<rect x="597" y="320" width="1" height="74" fill="#000"/>
<rect x="595" y="349" width="5" height="37" fill="#000"/>
<rect x="596" y="350" width="3" height="35" fill="#fff"/>
<rect x="605" y="362" width="1" height="31" fill="#000"/>
<rect x="603" y="374" width="5" height="3" fill="#000"/>
<rect x="604" y="375" width="3" height="1" fill="#fff"/>
<rect x="613" y="361" width="1" height="88" fill="#000"/>
<rect x="611" y="374" width="5" height="43" fill="#000"/>
<rect x="621" y="393" width="1" height="64" fill="#000"/>
<rect x="619" y="416" width="5" height="4" fill="#000"/>
<rect x="629" y="415" width="1" height="149" fill="#000"/>
<rect x="627" y="420" width="5" height="103" fill="#000"/>
<rect x="637" y="432" width="1" height="115" fill="#000"/>
<rect x="635" y="472" width="5" height="50" fill="#000"/>
<rect x="636" y="473" width="3" height="48" fill="#fff"/>
<rect x="645" y="374" width="1" height="109" fill="#000"/>
<rect x="643" y="455" width="5" height="17" fill="#000"/>
<rect x="644" y="456" width="3" height="15" fill="#fff"/>
<rect x="653" y="444" width="1" height="29" fill="#000"/>
<rect x="651" y="464" width="5" height="1" fill="#000"/>
<rect x="661" y="443" width="1" height="43" fill="#000"/>
<rect x="659" y="458" width="5" height="6" fill="#000"/>
<rect x="660" y="459" width="3" height="4" fill="#fff"/>
<rect x="669" y="388" width="1" height="82" fill="#000"/>
<rect x="667" y="399" width="5" height="60" fill="#000"/>
<rect x="668" y="400" width="3" height="58" fill="#fff"/>
<rect x="677" y="342" width="1" height="84" fill="#000"/>
<rect x="675" y="391" width="5" height="8" fill="#000"/>
<rect x="676" y="392" width="3" height="6" fill="#fff"/>
<rect x="685" y="332" width="1" height="77" fill="#000"/>
<rect x="683" y="350" width="5" height="41" fill="#000"/>
<rect x="684" y="351" width="3" height="39" fill="#fff"/>
<rect x="693" y="315" width="1" height="58" fill="#000"/>
<rect x="691" y="316" width="5" height="33" fill="#000"/>
<rect x="692" y="317" width="3" height="31" fill="#fff"/>
<rect x="701" y="329" width="1" height="12" fill="#000"/>
<rect x="699" y="334" width="5" height="6" fill="#000"/>
<rect x="700" y="335" width="3" height="4" fill="#fff"/>
<rect x="709" y="318" width="1" height="40" fill="#000"/>
<rect x="707" y="332" width="5" height="5" fill="#000"/>
<rect x="717" y="313" width="1" height="37" fill="#000"/>
<rect x="715" y="335" width="5" height="8" fill="#000"/>
<rect x="725" y="337" width="1" height="27" fill="#000"/>
<rect x="723" y="342" width="5" height="14" fill="#000"/>
<rect x="733" y="326" width="1" height="37" fill="#000"/>
<rect x="731" y="331" width="5" height="24" fill="#000"/>
<rect x="732" y="332" width="3" height="22" fill="#fff"/>
<rect x="741" y="329" width="1" height="34" fill="#000"/>
<rect x="739" y="331" width="5" height="24" fill="#000"/>
<rect x="749" y="355" width="1" height="5" fill="#000"/>
<rect x="747" y="357" width="5" height="2" fill="#000"/>
<rect x="757" y="315" width="1" height="43" fill="#000"/>
<rect x="755" y="340" width="5" height="16" fill="#000"/>
<rect x="756" y="341" width="3" height="14" fill="#fff"/>
<rect x="765" y="304" width="1" height="45" fill="#000"/>
<rect x="763" y="326" width="5" height="15" fill="#000"/>
<rect x="764" y="327" width="3" height="13" fill="#fff"/>
<rect x="773" y="303" width="1" height="33" fill="#000"/>
<rect x="771" y="304" width="5" height="23" fill="#000"/>
<rect x="772" y="305" width="3" height="21" fill="#fff"/>
<rect x="781" y="286" width="1" height="27" fill="#000"/>
<rect x="779" y="304" width="5" height="1" fill="#000"/>
<rect x="789" y="300" width="1" height="7" fill="#000"/>
<rect x="787" y="301" width="5" height="4" fill="#000"/>
<rect x="797" y="301" width="1" height="16" fill="#000"/>
<rect x="795" y="304" width="5" height="7" fill="#000"/>
<rect x="805" y="292" width="1" height="23" fill="#000"/>
<rect x="803" y="299" width="5" height="12" fill="#000"/>
<rect x="804" y="300" width="3" height="10" fill="#fff"/>
<rect x="813" y="297" width="1" height="40" fill="#000"/>
<rect x="811" y="299" width="5" height="13" fill="#000"/>
<rect x="821" y="305" width="1" height="30" fill="#000"/>
<rect x="819" y="309" width="5" height="1" fill="#000"/>
<rect x="829" y="307" width="1" height="24" fill="#000"/>
<rect x="827" y="309" width="5" height="11" fill="#000"/>
<rect x="837" y="316" width="1" height="3" fill="#000"/>
<rect x="835" y="317" width="5" height="1" fill="#000"/>
<rect x="845" y="310" width="1" height="24" fill="#000"/>
<rect x="843" y="317" width="5" height="13" fill="#000"/>
<rect x="853" y="327" width="1" height="51" fill="#000"/>
<rect x="851" y="329" width="5" height="35" fill="#000"/>
<rect x="861" y="344" width="1" height="31" fill="#000"/>
<rect x="859" y="354" width="5" height="8" fill="#000"/>
<rect x="860" y="355" width="3" height="6" fill="#fff"/>
<rect x="869" y="335" width="1" height="31" fill="#000"/>
<rect x="867" y="352" width="5" height="3" fill="#000"/>
<rect x="868" y="353" width="3" height="1" fill="#fff"/>
<rect x="877" y="348" width="1" height="19" fill="#000"/>
<rect x="875" y="351" width="5" height="8" fill="#000"/>
<rect x="885" y="351" width="1" height="5" fill="#000"/>
<rect x="883" y="352" width="5" height="3" fill="#000"/>
<rect x="884" y="353" width="3" height="1" fill="#fff"/>
<rect x="893" y="338" width="1" height="17" fill="#000"/>
<rect x="891" y="345" width="5" height="8" fill="#000"/>
<rect x="892" y="346" width="3" height="6" fill="#fff"/>
<rect x="901" y="338" width="1" height="21" fill="#000"/>
<rect x="899" y="345" width="5" height="13" fill="#000"/>
<rect x="909" y="351" width="1" height="26" fill="#000"/>
<rect x="907" y="353" width="5" height="5" fill="#000"/>
<rect x="908" y="354" width="3" height="3" fill="#fff"/>
<rect x="917" y="293" width="1" height="67" fill="#000"/>
<rect x="915" y="305" width="5" height="49" fill="#000"/>
<rect x="916" y="306" width="3" height="47" fill="#fff"/>
<rect x="925" y="302" width="1" height="41" fill="#000"/>
<rect x="923" y="305" width="5" height="37" fill="#000"/>
<rect x="933" y="347" width="1" height="9" fill="#000"/>
<rect x="931" y="349" width="5" height="5" fill="#000"/>
<rect x="941" y="346" width="1" height="18" fill="#000"/>
<rect x="939" y="353" width="5" height="4" fill="#000"/>
<rect x="949" y="347" width="1" height="19" fill="#000"/>
<rect x="947" y="357" width="5" height="8" fill="#000"/>
<rect x="957" y="364" width="1" height="44" fill="#000"/>
<rect x="955" y="364" width="5" height="38" fill="#000"/>
<rect x="965" y="374" width="1" height="31" fill="#000"/>
<rect x="963" y="384" width="5" height="17" fill="#000"/>
<rect x="964" y="385" width="3" height="15" fill="#fff"/>
<rect x="973" y="359" width="1" height="27" fill="#000"/>
<rect x="971" y="366" width="5" height="19" fill="#000"/>
<rect x="972" y="367" width="3" height="17" fill="#fff"/>
<rect x="981" y="357" width="1" height="7" fill="#000"/>
<rect x="979" y="358" width="5" height="3" fill="#000"/>
<rect x="980" y="359" width="3" height="1" fill="#fff"/>
<rect x="989" y="347" width="1" height="32" fill="#000"/>
<rect x="987" y="357" width="5" height="3" fill="#000"/>
<rect x="997" y="354" width="1" height="39" fill="#000"/>
<rect x="995" y="359" width="5" height="33" fill="#000"/>
<rect x="1005" y="376" width="1" height="32" fill="#000"/>
<rect x="1003" y="391" width="5" height="12" fill="#000"/>
<rect x="1013" y="390" width="1" height="30" fill="#000"/>
<rect x="1011" y="391" width="5" height="12" fill="#000"/>
<rect x="1012" y="392" width="3" height="10" fill="#fff"/>
<rect x="1021" y="389" width="1" height="34" fill="#000"/>
<rect x="1019" y="391" width="5" height="32" fill="#000"/>
<rect x="1029" y="428" width="1" height="7" fill="#000"/>
<rect x="1027" y="429" width="5" height="4" fill="#000"/>
<rect x="1037" y="392" width="1" height="42" fill="#000"/>
<rect x="1035" y="399" width="5" height="34" fill="#000"/>
<rect x="1036" y="400" width="3" height="32" fill="#fff"/>
<rect x="1045" y="363" width="1" height="42" fill="#000"/>
<rect x="1043" y="372" width="5" height="28" fill="#000"/>
<rect x="1044" y="373" width="3" height="26" fill="#fff"/>
<rect x="1053" y="365" width="1" height="24" fill="#000"/>
<rect x="1051" y="371" width="5" height="13" fill="#000"/>
<rect x="1061" y="376" width="1" height="18" fill="#000"/>
<rect x="1059" y="383" width="5" height="3" fill="#000"/>
<rect x="1069" y="381" width="1" height="26" fill="#000"/>
<rect x="1067" y="385" width="5" height="15" fill="#000"/>
<rect x="1077" y="392" width="1" height="4" fill="#000"/>
<rect x="1075" y="392" width="5" height="2" fill="#000"/>
<rect x="1085" y="389" width="1" height="11" fill="#000"/>
<rect x="1083" y="389" width="5" height="3" fill="#000"/>
<rect x="1084" y="390" width="3" height="1" fill="#fff"/>
<rect x="1093" y="350" width="1" height="41" fill="#000"/>
<rect x="1091" y="362" width="5" height="28" fill="#000"/>
<rect x="1092" y="363" width="3" height="26" fill="#fff"/>
<rect x="1101" y="351" width="1" height="33" fill="#000"/>
<rect x="1099" y="362" width="5" height="9" fill="#000"/>
<rect x="1109" y="354" width="1" height="26" fill="#000"/>
<rect x="1107" y="361" width="5" height="9" fill="#000"/>
<rect x="1108" y="362" width="3" height="7" fill="#fff"/>
<rect x="1117" y="340" width="1" height="40" fill="#000"/>
<rect x="1115" y="354" width="5" height="7" fill="#000"/>
<rect x="1116" y="355" width="3" height="5" fill="#fff"/>
<rect x="1125" y="351" width="1" height="3" fill="#000"/>
<rect x="1123" y="351" width="5" height="2" fill="#000"/>
<rect x="1133" y="315" width="1" height="39" fill="#000"/>
<rect x="1131" y="321" width="5" height="32" fill="#000"/>
<rect x="1132" y="322" width="3" height="30" fill="#fff"/>
<rect x="1141" y="258" width="1" height="63" fill="#000"/>
<rect x="1139" y="259" width="5" height="62" fill="#000"/>
<rect x="1140" y="260" width="3" height="60" fill="#fff"/>
<rect x="1149" y="247" width="1" height="28" fill="#000"/>
<rect x="1147" y="255" width="5" height="4" fill="#000"/>
<rect x="1148" y="256" width="3" height="2" fill="#fff"/>
<rect x="1157" y="237" width="1" height="45" fill="#000"/>
<rect x="1155" y="243" width="5" height="12" fill="#000"/>
<rect x="1156" y="244" width="3" height="10" fill="#fff"/>
<rect x="1165" y="192" width="1" height="59" fill="#000"/>
<rect x="1163" y="213" width="5" height="30" fill="#000"/>
<rect x="1164" y="214" width="3" height="28" fill="#fff"/>
<rect x="1173" y="196" width="1" height="12" fill="#000"/>
<rect x="1171" y="199" width="5" height="8" fill="#000"/>
<rect x="1172" y="200" width="3" height="6" fill="#fff"/>
<rect x="1181" y="199" width="1" height="49" fill="#000"/>
<rect x="1179" y="199" width="5" height="33" fill="#000"/>
<rect x="1189" y="229" width="1" height="47" fill="#000"/>
<rect x="1187" y="232" width="5" height="26" fill="#000"/>
<rect x="1197" y="248" width="1" height="35" fill="#000"/>
<rect x="1195" y="256" width="5" height="25" fill="#000"/>
<rect x="1205" y="270" width="1" height="55" fill="#000"/>
<rect x="1203" y="279" width="5" height="43" fill="#000"/>
<rect x="1213" y="279" width="1" height="54" fill="#000"/>
<rect x="1211" y="320" width="5" height="3" fill="#000"/>
<rect x="1221" y="317" width="1" height="8" fill="#000"/>
<rect x="1219" y="317" width="5" height="6" fill="#000"/>
<rect x="1229" y="284" width="1" height="56" fill="#000"/>
<rect x="1227" y="284" width="5" height="37" fill="#000"/>
<rect x="1228" y="285" width="3" height="35" fill="#fff"/>
<rect x="1237" y="272" width="1" height="39" fill="#000"/>
<rect x="1235" y="284" width="5" height="18" fill="#000"/>
<rect x="1245" y="301" width="1" height="26" fill="#000"/>
<rect x="1243" y="301" width="5" height="24" fill="#000"/>
<rect x="1253" y="319" width="1" height="48" fill="#000"/>
<rect x="1251" y="325" width="5" height="29" fill="#000"/>
<rect x="1261" y="345" width="1" height="32" fill="#000"/>
<rect x="1259" y="352" width="5" height="23" fill="#000"/>
<rect x="1269" y="376" width="1" height="5" fill="#000"/>
<rect x="1267" y="377" width="5" height="1" fill="#000"/>
<rect x="1277" y="334" width="1" height="46" fill="#000"/>
<rect x="1275" y="336" width="5" height="41" fill="#000"/>
<rect x="1276" y="337" width="3" height="39" fill="#fff"/>
<rect x="1285" y="328" width="1" height="34" fill="#000"/>
<rect x="1283" y="336" width="5" height="10" fill="#000"/>
<rect x="1293" y="337" width="1" height="23" fill="#000"/>
<rect x="1291" y="344" width="5" height="12" fill="#000"/>
<rect x="1301" y="337" width="1" height="19" fill="#000"/>
<rect x="1299" y="348" width="5" height="8" fill="#000"/>
<rect x="1300" y="349" width="3" height="6" fill="#fff"/>
<rect x="1309" y="345" width="1" height="30" fill="#000"/>
<rect x="1307" y="349" width="5" height="20" fill="#000"/>
<rect x="1317" y="366" width="1" height="5" fill="#000"/>
<rect x="1315" y="368" width="5" height="2" fill="#000"/>
<rect x="1325" y="365" width="1" height="12" fill="#000"/>
<rect x="1323" y="365" width="5" height="3" fill="#000"/>
<rect x="1324" y="366" width="3" height="1" fill="#fff"/>
<rect x="1333" y="330" width="1" height="45" fill="#000"/>
<rect x="1331" y="333" width="5" height="31" fill="#000"/>
<rect x="1332" y="334" width="3" height="29" fill="#fff"/>
<rect x="1341" y="322" width="1" height="31" fill="#000"/>
<rect x="1339" y="331" width="5" height="7" fill="#000"/>
<rect x="1340" y="332" width="3" height="5" fill="#fff"/>
<rect x="1349" y="311" width="1" height="20" fill="#000"/>
<rect x="1347" y="327" width="5" height="4" fill="#000"/>
<rect x="1348" y="328" width="3" height="2" fill="#fff"/>
<rect x="1357" y="323" width="1" height="8" fill="#000"/>
<rect x="1355" y="325" width="5" height="3" fill="#000"/>
<rect x="1356" y="326" width="3" height="1" fill="#fff"/>
<rect x="1365" y="322" width="1" height="4" fill="#000"/>
<rect x="1363" y="323" width="5" height="2" fill="#000"/>
<rect x="1373" y="312" width="1" height="16" fill="#000"/>
<rect x="1371" y="322" width="5" height="3" fill="#000"/>
<rect x="1381" y="294" width="1" height="32" fill="#000"/>
<rect x="1379" y="306" width="5" height="19" fill="#000"/>
<rect x="1380" y="307" width="3" height="17" fill="#fff"/>
<rect x="1389" y="294" width="1" height="20" fill="#000"/>
<rect x="1387" y="298" width="5" height="8" fill="#000"/>
<rect x="1388" y="299" width="3" height="6" fill="#fff"/>
<rect x="1397" y="282" width="1" height="22" fill="#000"/>
<rect x="1395" y="296" width="5" height="5" fill="#000"/>
<rect x="1405" y="299" width="1" height="23" fill="#000"/>
<rect x="1403" y="299" width="5" height="5" fill="#000"/>
<rect x="1413" y="302" width="1" height="4" fill="#000"/>
<rect x="1411" y="302" width="5" height="3" fill="#000"/>
<rect x="1421" y="292" width="1" height="22" fill="#000"/>
<rect x="1419" y="304" width="5" height="9" fill="#000"/>
<rect x="1429" y="308" width="1" height="21" fill="#000"/>
<rect x="1427" y="309" width="5" height="4" fill="#000"/>
<rect x="1428" y="310" width="3" height="2" fill="#fff"/>
<rect x="1437" y="302" width="1" height="15" fill="#000"/>
<rect x="1435" y="309" width="5" height="5" fill="#000"/>
</g>
<rect x="1332" y="332" width="158" height="6" fill="#00ff00" shape-rendering="crispEdges"/>
<g shape-rendering="crispEdges">
<line x1="1318" y1="371" x2="1381" y2="290" stroke="#ff0000" stroke-width="3"/>
<path d="M1385 286 L1373 293.5 L1377.5 295.5 L1379.5 300 Z" fill="#ff0000" stroke="#ff0000" stroke-width="1.5"/>
<line x1="1383" y1="287.5" x2="1456" y2="314.5" stroke="#ff0000" stroke-width="3"/>
<path d="M1463 318 L1454 308.5 L1453 313.5 L1450 319 Z" fill="#ff0000" stroke="#ff0000" stroke-width="1.5"/>
</g>
<rect x="1142" y="331" width="10" height="1" fill="#ff0000" shape-rendering="crispEdges"/>
<rect x="1152.5" y="319.5" width="73" height="24" fill="none" stroke="#ff0000" stroke-width="1" shape-rendering="crispEdges"/>
<text x="1154.5" y="340" font-family='"Liberation Sans", sans-serif' font-size="22.5" fill="#ff0000" textLength="69.5" lengthAdjust="spacingAndGlyphs">133.822</text>
<g transform="translate(1556.3,319.4) scale(1.86)" fill="none" stroke="#00ff00" stroke-width="0.914" stroke-linecap="square" stroke-linejoin="miter"><path d="M0 1.6L4.1 1.6"/><path d="M2.6 0.2L0.5 4.6L4.1 4.2"/><path d="M2.4 2.3L2.4 9.8"/><path d="M0 7.6L4.6 5.9"/><path d="M5.1 1.9L10.2 1.9"/><path d="M4.8 4.3L10.4 4.3"/><path d="M7.5 0.2L7.1 5.9"/><path d="M5.6 5.9L9.2 5.9L7.5 7.6"/><path d="M5.6 7.6L8.7 9.8"/></g><g transform="translate(1578.8,319.4) scale(1.86)" fill="none" stroke="#00ff00" stroke-width="0.914" stroke-linecap="square" stroke-linejoin="miter"><path d="M0.3 3.0L4.4 2.6"/><path d="M2.7 0.1L2.7 9.5L1.0 9.3"/><path d="M0.5 5.9L4.4 4.4"/><path d="M10 0.3L6.4 1.8"/><path d="M6.4 1.8L6.1 5.9L3.9 9.8"/><path d="M6.4 3.7L10.6 3.7"/><path d="M8.3 3.7L8.3 9.8"/></g><g transform="translate(1601.3,319.4) scale(1.86)" fill="none" stroke="#00ff00" stroke-width="0.914" stroke-linecap="square" stroke-linejoin="miter"><path d="M5.9 0L5.9 3.5"/><path d="M5.9 1.8L10.3 1.8"/><path d="M2.7 3.6L9.1 3.6L9.1 6.4L2.7 6.4Z"/><path d="M2.3 7.6L1.3 9.8"/><path d="M3.7 8.0L4.1 9.7"/><path d="M6.3 8.0L6.6 9.9"/><path d="M8.5 7.6L9.9 9.8"/></g>
<path d="M1445 24 L1454 24 L1449.5 29 Z" fill="#c0c0c0"/>
</g>
<rect x="1690" y="249" width="41" height="11" fill="#ff0000" shape-rendering="crispEdges"/>
<text x="1693" y="258" font-family='"Liberation Sans", sans-serif' font-size="10" fill="#fff" textLength="33" lengthAdjust="spacingAndGlyphs">137.081</text>
<rect x="1690" y="274" width="41" height="11" fill="#ff0000" shape-rendering="crispEdges"/>
<text x="1693" y="283" font-family='"Liberation Sans", sans-serif' font-size="10" fill="#fff" textLength="33" lengthAdjust="spacingAndGlyphs">136.057</text>
<rect x="1690" y="309" width="41" height="11" fill="#000000" shape-rendering="crispEdges"/>
<text x="1693" y="318" font-family='"Liberation Sans", sans-serif' font-size="10" fill="#fff" textLength="33" lengthAdjust="spacingAndGlyphs">134.560</text>
<rect x="1690" y="326" width="41" height="11" fill="#32cd32" shape-rendering="crispEdges"/>
<text x="1693" y="335" font-family='"Liberation Sans", sans-serif' font-size="10" fill="#fff" textLength="33" lengthAdjust="spacingAndGlyphs">133.822</text>
<rect x="1690" y="351" width="41" height="11" fill="#0000ff" shape-rendering="crispEdges"/>
<text x="1693" y="360" font-family='"Liberation Sans", sans-serif' font-size="10" fill="#fff" textLength="33" lengthAdjust="spacingAndGlyphs">132.798</text>
<rect x="1690" y="375" width="41" height="11" fill="#0000ff" shape-rendering="crispEdges"/>
<text x="1693" y="384" font-family='"Liberation Sans", sans-serif' font-size="10" fill="#fff" textLength="33" lengthAdjust="spacingAndGlyphs">131.774</text>
<path d="M0 34 L3.5 30 L7 34 Z" fill="#000"/>
<text x="12" y="35" font-family='"Liberation Sans", sans-serif' font-size="10" fill="#000" textLength="61.5" lengthAdjust="spacingAndGlyphs">GBPJPY-,Daily</text>
<text x="81.5" y="35" font-family='"Liberation Sans", sans-serif' font-size="10" fill="#000" textLength="140.5" lengthAdjust="spacingAndGlyphs">134.777 135.070 134.453 134.560</text>
<g shape-rendering="crispEdges">
<rect x="0" y="41" width="221" height="68" fill="#fff"/>
<path d="M0 43 L52 43 L52 67 L0 67 Z" fill="url(#gTop)"/>
<rect x="0" y="67" width="110" height="40" fill="url(#gBot)"/>
<rect x="167" y="43" width="52" height="24" fill="url(#gTop)"/>
<rect x="111" y="67" width="108" height="40" fill="url(#gBot)"/>
<path d="M0.5 43.5 L51.5 43.5 L51.5 66.5 L109.5 66.5 L109.5 106.5 L0.5 106.5" fill="none" stroke="#a00000" stroke-width="1"/>
<path d="M167.5 66.5 L167.5 43.5 L218.5 43.5 L218.5 106.5 L111.5 106.5 L111.5 66.5 Z" fill="none" stroke="#a00000" stroke-width="1"/>
<rect x="4" y="67" width="44" height="1" fill="#9a0000"/>
<rect x="171" y="67" width="44" height="1" fill="#9a0000"/>
<rect x="54.5" y="43.5" width="110" height="21" fill="#fff" stroke="#a8a8b0" stroke-width="1"/>
<rect x="56" y="45" width="19" height="18" fill="url(#gBtn)"/>
<rect x="75" y="44" width="1" height="20" fill="#b8b8c0"/>
<rect x="144" y="45" width="19" height="18" fill="url(#gBtn)"/>
<rect x="143" y="44" width="1" height="20" fill="#b8b8c0"/>
</g>
<path d="M61.5 52 L67.5 52 L64.5 55 Z" fill="#5060c0"/>
<path d="M150.5 55 L156.5 55 L153.5 52 Z" fill="#5060c0"/>
<text x="139" y="58" text-anchor="end" font-family='"Liberation Sans", sans-serif' font-size="11.5" fill="#000">1.00</text>
<text x="12" y="59" font-family='"Liberation Sans", sans-serif' font-size="12" fill="#fff" textLength="26" lengthAdjust="spacingAndGlyphs">SELL</text>
<text x="180.5" y="59" font-family='"Liberation Sans", sans-serif' font-size="12" fill="#fff" textLength="23.5" lengthAdjust="spacingAndGlyphs">BUY</text>
<text x="23" y="98" font-family='"Liberation Sans", sans-serif' font-size="12" font-weight="bold" fill="#fff" textLength="21" lengthAdjust="spacingAndGlyphs">134</text>
<text x="48.5" y="97.5" font-family='"Liberation Sans", sans-serif' font-size="32" fill="#fff" textLength="34" lengthAdjust="spacingAndGlyphs">56</text>
<text x="86.5" y="82.5" font-family='"Liberation Sans", sans-serif' font-size="12" font-weight="bold" fill="#fff">0</text>
<text x="133" y="98" font-family='"Liberation Sans", sans-serif' font-size="12" font-weight="bold" fill="#fff" textLength="21" lengthAdjust="spacingAndGlyphs">134</text>
<text x="158.5" y="97.5" font-family='"Liberation Sans", sans-serif' font-size="32" fill="#fff" textLength="34" lengthAdjust="spacingAndGlyphs">64</text>
<text x="197.5" y="82.5" font-family='"Liberation Sans", sans-serif' font-size="12" font-weight="bold" fill="#fff">2</text>
<g shape-rendering="crispEdges">
<rect x="5" y="601" width="1" height="36" fill="#c0c0c0"/>
<rect x="13" y="608" width="1" height="29" fill="#c0c0c0"/>
<rect x="21" y="613" width="1" height="24" fill="#c0c0c0"/>
<rect x="29" y="618" width="1" height="19" fill="#c0c0c0"/>
<rect x="37" y="623" width="1" height="14" fill="#c0c0c0"/>
<rect x="45" y="628" width="1" height="9" fill="#c0c0c0"/>
<rect x="53" y="631" width="1" height="6" fill="#c0c0c0"/>
<rect x="61" y="632" width="1" height="5" fill="#c0c0c0"/>
<rect x="69" y="631" width="1" height="6" fill="#c0c0c0"/>
<rect x="77" y="630" width="1" height="7" fill="#c0c0c0"/>
<rect x="85" y="631" width="1" height="6" fill="#c0c0c0"/>
<rect x="93" y="628" width="1" height="9" fill="#c0c0c0"/>
<rect x="101" y="627" width="1" height="10" fill="#c0c0c0"/>
<rect x="109" y="628" width="1" height="9" fill="#c0c0c0"/>
<rect x="117" y="633" width="1" height="4" fill="#c0c0c0"/>
<rect x="133" y="636" width="1" height="2" fill="#c0c0c0"/>
<rect x="165" y="635" width="1" height="2" fill="#c0c0c0"/>
<rect x="173" y="635" width="1" height="2" fill="#c0c0c0"/>
<rect x="181" y="633" width="1" height="4" fill="#c0c0c0"/>
<rect x="189" y="631" width="1" height="6" fill="#c0c0c0"/>
<rect x="197" y="630" width="1" height="7" fill="#c0c0c0"/>
<rect x="205" y="630" width="1" height="7" fill="#c0c0c0"/>
<rect x="213" y="631" width="1" height="6" fill="#c0c0c0"/>
<rect x="221" y="630" width="1" height="7" fill="#c0c0c0"/>
<rect x="229" y="631" width="1" height="6" fill="#c0c0c0"/>
<rect x="237" y="631" width="1" height="6" fill="#c0c0c0"/>
<rect x="245" y="629" width="1" height="8" fill="#c0c0c0"/>
<rect x="253" y="628" width="1" height="9" fill="#c0c0c0"/>
<rect x="261" y="629" width="1" height="8" fill="#c0c0c0"/>
<rect x="269" y="634" width="1" height="3" fill="#c0c0c0"/>
<rect x="293" y="636" width="1" height="3" fill="#c0c0c0"/>
<rect x="301" y="636" width="1" height="4" fill="#c0c0c0"/>
<rect x="309" y="636" width="1" height="3" fill="#c0c0c0"/>
<rect x="317" y="636" width="1" height="2" fill="#c0c0c0"/>
<rect x="325" y="636" width="1" height="6" fill="#c0c0c0"/>
<rect x="333" y="636" width="1" height="5" fill="#c0c0c0"/>
<rect x="341" y="636" width="1" height="4" fill="#c0c0c0"/>
<rect x="349" y="636" width="1" height="5" fill="#c0c0c0"/>
<rect x="357" y="636" width="1" height="7" fill="#c0c0c0"/>
<rect x="365" y="636" width="1" height="9" fill="#c0c0c0"/>
<rect x="373" y="636" width="1" height="9" fill="#c0c0c0"/>
<rect x="381" y="636" width="1" height="7" fill="#c0c0c0"/>
<rect x="389" y="636" width="1" height="7" fill="#c0c0c0"/>
<rect x="397" y="636" width="1" height="4" fill="#c0c0c0"/>
<rect x="405" y="636" width="1" height="2" fill="#c0c0c0"/>
<rect x="437" y="633" width="1" height="4" fill="#c0c0c0"/>
<rect x="445" y="630" width="1" height="7" fill="#c0c0c0"/>
<rect x="453" y="627" width="1" height="10" fill="#c0c0c0"/>
<rect x="461" y="625" width="1" height="12" fill="#c0c0c0"/>
<rect x="469" y="626" width="1" height="11" fill="#c0c0c0"/>
<rect x="477" y="627" width="1" height="10" fill="#c0c0c0"/>
<rect x="485" y="630" width="1" height="7" fill="#c0c0c0"/>
<rect x="493" y="636" width="1" height="1" fill="#c0c0c0"/>
<rect x="501" y="636" width="1" height="11" fill="#c0c0c0"/>
<rect x="509" y="636" width="1" height="20" fill="#c0c0c0"/>
<rect x="517" y="636" width="1" height="26" fill="#c0c0c0"/>
<rect x="525" y="636" width="1" height="33" fill="#c0c0c0"/>
<rect x="533" y="636" width="1" height="35" fill="#c0c0c0"/>
<rect x="541" y="636" width="1" height="39" fill="#c0c0c0"/>
<rect x="549" y="636" width="1" height="43" fill="#c0c0c0"/>
<rect x="557" y="636" width="1" height="47" fill="#c0c0c0"/>
<rect x="565" y="636" width="1" height="54" fill="#c0c0c0"/>
<rect x="573" y="636" width="1" height="56" fill="#c0c0c0"/>
<rect x="581" y="636" width="1" height="61" fill="#c0c0c0"/>
<rect x="589" y="636" width="1" height="70" fill="#c0c0c0"/>
<rect x="597" y="636" width="1" height="73" fill="#c0c0c0"/>
<rect x="605" y="636" width="1" height="77" fill="#c0c0c0"/>
<rect x="613" y="636" width="1" height="83" fill="#c0c0c0"/>
<rect x="621" y="636" width="1" height="87" fill="#c0c0c0"/>
<rect x="629" y="636" width="1" height="100" fill="#c0c0c0"/>
<rect x="637" y="636" width="1" height="104" fill="#c0c0c0"/>
<rect x="645" y="636" width="1" height="104" fill="#c0c0c0"/>
<rect x="653" y="636" width="1" height="104" fill="#c0c0c0"/>
<rect x="661" y="636" width="1" height="102" fill="#c0c0c0"/>
<rect x="669" y="636" width="1" height="93" fill="#c0c0c0"/>
<rect x="677" y="636" width="1" height="84" fill="#c0c0c0"/>
<rect x="685" y="636" width="1" height="73" fill="#c0c0c0"/>
<rect x="693" y="636" width="1" height="59" fill="#c0c0c0"/>
<rect x="701" y="636" width="1" height="49" fill="#c0c0c0"/>
<rect x="709" y="636" width="1" height="42" fill="#c0c0c0"/>
<rect x="717" y="636" width="1" height="36" fill="#c0c0c0"/>
<rect x="725" y="636" width="1" height="32" fill="#c0c0c0"/>
<rect x="733" y="636" width="1" height="25" fill="#c0c0c0"/>
<rect x="741" y="636" width="1" height="24" fill="#c0c0c0"/>
<rect x="749" y="636" width="1" height="22" fill="#c0c0c0"/>
<rect x="757" y="636" width="1" height="18" fill="#c0c0c0"/>
<rect x="765" y="636" width="1" height="14" fill="#c0c0c0"/>
<rect x="773" y="636" width="1" height="8" fill="#c0c0c0"/>
<rect x="781" y="636" width="1" height="4" fill="#c0c0c0"/>
<rect x="797" y="635" width="1" height="2" fill="#c0c0c0"/>
<rect x="805" y="632" width="1" height="5" fill="#c0c0c0"/>
<rect x="813" y="631" width="1" height="6" fill="#c0c0c0"/>
<rect x="821" y="630" width="1" height="7" fill="#c0c0c0"/>
<rect x="829" y="631" width="1" height="6" fill="#c0c0c0"/>
<rect x="837" y="631" width="1" height="6" fill="#c0c0c0"/>
<rect x="845" y="634" width="1" height="3" fill="#c0c0c0"/>
<rect x="861" y="636" width="1" height="2" fill="#c0c0c0"/>
<rect x="869" y="636" width="1" height="4" fill="#c0c0c0"/>
<rect x="877" y="636" width="1" height="5" fill="#c0c0c0"/>
<rect x="885" y="636" width="1" height="7" fill="#c0c0c0"/>
<rect x="893" y="636" width="1" height="7" fill="#c0c0c0"/>
<rect x="901" y="636" width="1" height="8" fill="#c0c0c0"/>
<rect x="909" y="636" width="1" height="9" fill="#c0c0c0"/>
<rect x="917" y="636" width="1" height="4" fill="#c0c0c0"/>
<rect x="925" y="636" width="1" height="4" fill="#c0c0c0"/>
<rect x="933" y="636" width="1" height="5" fill="#c0c0c0"/>
<rect x="941" y="636" width="1" height="6" fill="#c0c0c0"/>
<rect x="949" y="636" width="1" height="7" fill="#c0c0c0"/>
<rect x="957" y="636" width="1" height="13" fill="#c0c0c0"/>
<rect x="965" y="636" width="1" height="15" fill="#c0c0c0"/>
<rect x="973" y="636" width="1" height="14" fill="#c0c0c0"/>
<rect x="981" y="636" width="1" height="12" fill="#c0c0c0"/>
<rect x="989" y="636" width="1" height="11" fill="#c0c0c0"/>
<rect x="997" y="636" width="1" height="14" fill="#c0c0c0"/>
<rect x="1005" y="636" width="1" height="17" fill="#c0c0c0"/>
<rect x="1013" y="636" width="1" height="18" fill="#c0c0c0"/>
<rect x="1021" y="636" width="1" height="20" fill="#c0c0c0"/>
<rect x="1029" y="636" width="1" height="25" fill="#c0c0c0"/>
<rect x="1037" y="636" width="1" height="24" fill="#c0c0c0"/>
<rect x="1045" y="636" width="1" height="19" fill="#c0c0c0"/>
<rect x="1053" y="636" width="1" height="18" fill="#c0c0c0"/>
<rect x="1061" y="636" width="1" height="17" fill="#c0c0c0"/>
<rect x="1069" y="636" width="1" height="17" fill="#c0c0c0"/>
<rect x="1077" y="636" width="1" height="15" fill="#c0c0c0"/>
<rect x="1085" y="636" width="1" height="14" fill="#c0c0c0"/>
<rect x="1093" y="636" width="1" height="10" fill="#c0c0c0"/>
<rect x="1101" y="636" width="1" height="9" fill="#c0c0c0"/>
<rect x="1109" y="636" width="1" height="5" fill="#c0c0c0"/>
<rect x="1117" y="636" width="1" height="3" fill="#c0c0c0"/>
<rect x="1133" y="632" width="1" height="5" fill="#c0c0c0"/>
<rect x="1141" y="622" width="1" height="15" fill="#c0c0c0"/>
<rect x="1149" y="614" width="1" height="23" fill="#c0c0c0"/>
<rect x="1157" y="606" width="1" height="31" fill="#c0c0c0"/>
<rect x="1165" y="598" width="1" height="39" fill="#c0c0c0"/>
<rect x="1173" y="590" width="1" height="47" fill="#c0c0c0"/>
<rect x="1181" y="588" width="1" height="49" fill="#c0c0c0"/>
<rect x="1189" y="590" width="1" height="47" fill="#c0c0c0"/>
<rect x="1197" y="594" width="1" height="43" fill="#c0c0c0"/>
<rect x="1205" y="601" width="1" height="36" fill="#c0c0c0"/>
<rect x="1213" y="608" width="1" height="29" fill="#c0c0c0"/>
<rect x="1221" y="614" width="1" height="23" fill="#c0c0c0"/>
<rect x="1229" y="614" width="1" height="23" fill="#c0c0c0"/>
<rect x="1237" y="617" width="1" height="20" fill="#c0c0c0"/>
<rect x="1245" y="621" width="1" height="16" fill="#c0c0c0"/>
<rect x="1253" y="628" width="1" height="9" fill="#c0c0c0"/>
<rect x="1269" y="636" width="1" height="5" fill="#c0c0c0"/>
<rect x="1277" y="636" width="1" height="5" fill="#c0c0c0"/>
<rect x="1285" y="636" width="1" height="7" fill="#c0c0c0"/>
<rect x="1293" y="636" width="1" height="9" fill="#c0c0c0"/>
<rect x="1301" y="636" width="1" height="9" fill="#c0c0c0"/>
<rect x="1309" y="636" width="1" height="12" fill="#c0c0c0"/>
<rect x="1317" y="636" width="1" height="14" fill="#c0c0c0"/>
<rect x="1325" y="636" width="1" height="15" fill="#c0c0c0"/>
<rect x="1333" y="636" width="1" height="12" fill="#c0c0c0"/>
<rect x="1341" y="636" width="1" height="10" fill="#c0c0c0"/>
<rect x="1349" y="636" width="1" height="7" fill="#c0c0c0"/>
<rect x="1357" y="636" width="1" height="5" fill="#c0c0c0"/>
<rect x="1365" y="636" width="1" height="3" fill="#c0c0c0"/>
<rect x="1373" y="636" width="1" height="2" fill="#c0c0c0"/>
<rect x="1389" y="633" width="1" height="4" fill="#c0c0c0"/>
<rect x="1397" y="630" width="1" height="7" fill="#c0c0c0"/>
<rect x="1405" y="630" width="1" height="7" fill="#c0c0c0"/>
<rect x="1413" y="628" width="1" height="9" fill="#c0c0c0"/>
<rect x="1421" y="628" width="1" height="9" fill="#c0c0c0"/>
<rect x="1429" y="628" width="1" height="9" fill="#c0c0c0"/>
<rect x="1437" y="629" width="1" height="8" fill="#c0c0c0"/>
</g>
<path fill="#ff0000" shape-rendering="crispEdges" d="M1211 598h1v1h-1zM1215 598h3v1h-3zM1221 598h2v1h-2zM1203 599h3v1h-3zM1209 599h2v1h-2zM1223 599h1v1h-1zM1227 599h3v1h-3zM6 600h3v1h-3zM12 600h3v1h-3zM18 600h3v1h-3zM24 600h3v1h-3zM1233 600h3v1h-3zM0 601h3v1h-3zM30 601h1v1h-1zM31 602h2v1h-2zM1198 602h2v1h-2zM1239 602h3v1h-3zM1197 603h1v1h-1zM36 604h3v1h-3zM1245 604h1v1h-1zM1246 605h2v1h-2zM42 606h2v1h-2zM1193 606h1v1h-1zM44 607h1v1h-1zM1191 607h2v1h-2zM1251 608h2v1h-2zM48 609h2v1h-2zM1253 609h1v1h-1zM50 610h1v1h-1zM1186 610h2v1h-2zM1185 611h1v1h-1zM1257 611h1v1h-1zM54 612h1v1h-1zM1258 612h1v1h-1zM55 613h1v1h-1zM1181 613h1v1h-1zM1259 613h1v1h-1zM56 614h1v1h-1zM1180 614h1v1h-1zM1179 615h1v1h-1zM1263 615h1v1h-1zM60 616h3v1h-3zM1264 616h2v1h-2zM66 618h1v1h-1zM1174 618h2v1h-2zM1269 618h1v1h-1zM67 619h2v1h-2zM1173 619h1v1h-1zM1270 619h2v1h-2zM72 621h1v1h-1zM1275 621h1v1h-1zM73 622h2v1h-2zM1169 622h1v1h-1zM1276 622h2v1h-2zM78 623h1v1h-1zM1168 623h1v1h-1zM79 624h2v1h-2zM1167 624h1v1h-1zM1281 624h1v1h-1zM84 625h2v1h-2zM1282 625h2v1h-2zM86 626h1v1h-1zM90 626h1v1h-1zM91 627h2v1h-2zM96 627h1v1h-1zM1163 627h1v1h-1zM1287 627h1v1h-1zM97 628h2v1h-2zM102 628h3v1h-3zM1162 628h1v1h-1zM1288 628h2v1h-2zM108 629h3v1h-3zM114 629h3v1h-3zM120 629h2v1h-2zM259 629h2v1h-2zM264 629h3v1h-3zM270 629h1v1h-1zM481 629h2v1h-2zM486 629h3v1h-3zM492 629h3v1h-3zM498 629h3v1h-3zM1161 629h1v1h-1zM1437 629h1v1h-1zM122 630h1v1h-1zM126 630h3v1h-3zM132 630h3v1h-3zM138 630h2v1h-2zM247 630h2v1h-2zM252 630h3v1h-3zM258 630h1v1h-1zM271 630h2v1h-2zM276 630h3v1h-3zM282 630h1v1h-1zM475 630h2v1h-2zM480 630h1v1h-1zM1293 630h1v1h-1zM1432 630h2v1h-2zM140 631h1v1h-1zM144 631h1v1h-1zM223 631h2v1h-2zM228 631h3v1h-3zM234 631h3v1h-3zM240 631h3v1h-3zM246 631h1v1h-1zM283 631h2v1h-2zM288 631h1v1h-1zM469 631h2v1h-2zM474 631h1v1h-1zM504 631h3v1h-3zM1157 631h1v1h-1zM1294 631h2v1h-2zM1431 631h1v1h-1zM145 632h2v1h-2zM150 632h1v1h-1zM212 632h1v1h-1zM216 632h3v1h-3zM222 632h1v1h-1zM289 632h2v1h-2zM294 632h1v1h-1zM463 632h2v1h-2zM468 632h1v1h-1zM1155 632h2v1h-2zM1425 632h3v1h-3zM151 633h2v1h-2zM156 633h3v1h-3zM162 633h1v1h-1zM206 633h1v1h-1zM210 633h2v1h-2zM295 633h2v1h-2zM300 633h3v1h-3zM306 633h1v1h-1zM462 633h1v1h-1zM510 633h2v1h-2zM843 633h3v1h-3zM849 633h3v1h-3zM855 633h3v1h-3zM861 633h3v1h-3zM867 633h3v1h-3zM163 634h2v1h-2zM168 634h1v1h-1zM200 634h1v1h-1zM204 634h2v1h-2zM307 634h2v1h-2zM312 634h1v1h-1zM456 634h3v1h-3zM512 634h1v1h-1zM838 634h2v1h-2zM873 634h3v1h-3zM1150 634h2v1h-2zM1299 634h2v1h-2zM1419 634h3v1h-3zM169 635h2v1h-2zM174 635h3v1h-3zM180 635h3v1h-3zM186 635h3v1h-3zM192 635h3v1h-3zM198 635h2v1h-2zM313 635h2v1h-2zM318 635h1v1h-1zM451 635h2v1h-2zM837 635h1v1h-1zM879 635h3v1h-3zM1149 635h1v1h-1zM1301 635h1v1h-1zM1414 635h2v1h-2zM319 636h2v1h-2zM324 636h1v1h-1zM450 636h1v1h-1zM516 636h2v1h-2zM831 636h3v1h-3zM885 636h3v1h-3zM1409 636h1v1h-1zM1413 636h1v1h-1zM325 637h2v1h-2zM330 637h1v1h-1zM444 637h3v1h-3zM518 637h1v1h-1zM826 637h2v1h-2zM891 637h3v1h-3zM1144 637h2v1h-2zM1305 637h3v1h-3zM1407 637h2v1h-2zM331 638h2v1h-2zM336 638h1v1h-1zM439 638h2v1h-2zM825 638h1v1h-1zM897 638h3v1h-3zM1143 638h1v1h-1zM1401 638h3v1h-3zM337 639h2v1h-2zM342 639h1v1h-1zM433 639h2v1h-2zM438 639h1v1h-1zM522 639h2v1h-2zM821 639h1v1h-1zM903 639h3v1h-3zM1311 639h2v1h-2zM1395 639h3v1h-3zM343 640h2v1h-2zM348 640h3v1h-3zM354 640h3v1h-3zM360 640h1v1h-1zM421 640h2v1h-2zM426 640h3v1h-3zM432 640h1v1h-1zM524 640h1v1h-1zM819 640h2v1h-2zM909 640h3v1h-3zM1139 640h1v1h-1zM1313 640h1v1h-1zM1390 640h2v1h-2zM361 641h2v1h-2zM366 641h1v1h-1zM415 641h2v1h-2zM420 641h1v1h-1zM915 641h3v1h-3zM1138 641h1v1h-1zM1317 641h1v1h-1zM1389 641h1v1h-1zM367 642h2v1h-2zM372 642h3v1h-3zM378 642h3v1h-3zM384 642h1v1h-1zM403 642h2v1h-2zM408 642h3v1h-3zM414 642h1v1h-1zM814 642h2v1h-2zM921 642h3v1h-3zM927 642h3v1h-3zM933 642h3v1h-3zM939 642h3v1h-3zM945 642h3v1h-3zM1137 642h1v1h-1zM1318 642h2v1h-2zM1383 642h3v1h-3zM385 643h2v1h-2zM390 643h3v1h-3zM396 643h3v1h-3zM402 643h1v1h-1zM528 643h1v1h-1zM813 643h1v1h-1zM951 643h3v1h-3zM957 643h3v1h-3zM1377 643h3v1h-3zM529 644h2v1h-2zM963 644h3v1h-3zM969 644h3v1h-3zM1132 644h2v1h-2zM1323 644h2v1h-2zM1371 644h3v1h-3zM808 645h2v1h-2zM975 645h3v1h-3zM1131 645h1v1h-1zM1325 645h1v1h-1zM1329 645h3v1h-3zM1353 645h3v1h-3zM1359 645h3v1h-3zM1365 645h3v1h-3zM807 646h1v1h-1zM981 646h3v1h-3zM987 646h2v1h-2zM1125 646h3v1h-3zM1335 646h3v1h-3zM1341 646h3v1h-3zM1347 646h3v1h-3zM534 647h1v1h-1zM803 647h1v1h-1zM989 647h1v1h-1zM993 647h3v1h-3zM1120 647h2v1h-2zM535 648h2v1h-2zM801 648h2v1h-2zM999 648h3v1h-3zM1119 648h1v1h-1zM1005 649h3v1h-3zM1113 649h3v1h-3zM796 650h2v1h-2zM1011 650h3v1h-3zM1109 650h1v1h-1zM540 651h1v1h-1zM795 651h1v1h-1zM1017 651h3v1h-3zM1107 651h2v1h-2zM541 652h1v1h-1zM791 652h1v1h-1zM1023 652h3v1h-3zM1101 652h3v1h-3zM542 653h1v1h-1zM789 653h2v1h-2zM1029 653h3v1h-3zM1035 653h3v1h-3zM1096 653h2v1h-2zM1041 654h3v1h-3zM1047 654h3v1h-3zM1091 654h1v1h-1zM1095 654h1v1h-1zM783 655h3v1h-3zM1053 655h3v1h-3zM1059 655h3v1h-3zM1078 655h2v1h-2zM1083 655h3v1h-3zM1089 655h2v1h-2zM546 656h1v1h-1zM1065 656h3v1h-3zM1071 656h3v1h-3zM1077 656h1v1h-1zM547 657h2v1h-2zM779 657h1v1h-1zM777 658h2v1h-2zM552 660h1v1h-1zM772 660h2v1h-2zM553 661h2v1h-2zM771 661h1v1h-1zM766 663h2v1h-2zM558 664h1v1h-1zM765 664h1v1h-1zM559 665h2v1h-2zM761 666h1v1h-1zM760 667h1v1h-1zM564 668h1v1h-1zM759 668h1v1h-1zM565 669h2v1h-2zM755 670h1v1h-1zM754 671h1v1h-1zM570 672h1v1h-1zM753 672h1v1h-1zM571 673h2v1h-2zM749 675h1v1h-1zM576 676h1v1h-1zM748 676h1v1h-1zM577 677h2v1h-2zM747 677h1v1h-1zM582 680h2v1h-2zM743 680h1v1h-1zM584 681h1v1h-1zM742 681h1v1h-1zM741 682h1v1h-1zM588 683h1v1h-1zM589 684h1v1h-1zM590 685h1v1h-1zM737 686h1v1h-1zM594 687h1v1h-1zM736 687h1v1h-1zM595 688h2v1h-2zM735 688h1v1h-1zM600 691h2v1h-2zM602 692h1v1h-1zM731 692h1v1h-1zM730 693h1v1h-1zM606 694h1v1h-1zM729 694h1v1h-1zM607 695h2v1h-2zM612 698h1v1h-1zM725 698h1v1h-1zM613 699h2v1h-2zM724 699h1v1h-1zM723 700h1v1h-1zM618 702h1v1h-1zM619 703h2v1h-2zM719 704h1v1h-1zM719 705h1v1h-1zM624 706h1v1h-1zM718 706h1v1h-1zM625 707h2v1h-2zM630 710h1v1h-1zM714 710h1v1h-1zM631 711h2v1h-2zM714 711h1v1h-1zM713 712h1v1h-1zM636 714h1v1h-1zM637 715h2v1h-2zM709 716h1v1h-1zM709 717h1v1h-1zM642 718h2v1h-2zM708 718h1v1h-1zM644 719h1v1h-1zM648 721h1v1h-1zM704 721h1v1h-1zM649 722h1v1h-1zM702 722h2v1h-2zM650 723h1v1h-1zM654 725h2v1h-2zM697 725h2v1h-2zM656 726h1v1h-1zM696 726h1v1h-1zM660 727h2v1h-2zM662 728h1v1h-1zM690 728h3v1h-3zM666 729h2v1h-2zM668 730h1v1h-1zM684 730h3v1h-3zM672 731h3v1h-3zM678 732h3v1h-3z"/>
<text x="2" y="591" font-family='"Liberation Sans", sans-serif' font-size="10" fill="#000" textLength="126" lengthAdjust="spacingAndGlyphs">MACD(12,26,9) 0.2720 0.2011</text>
<g shape-rendering="crispEdges"><rect x="1689" y="580" width="1" height="1" fill="#000"/><rect x="1689" y="636" width="1" height="1" fill="#000"/><rect x="1689" y="747" width="1" height="1" fill="#000"/></g>
<text x="1692.5" y="589" font-family='"Liberation Sans", sans-serif' font-size="10" fill="#000" textLength="23" lengthAdjust="spacingAndGlyphs">1.894</text>
<text x="1693" y="640" font-family='"Liberation Sans", sans-serif' font-size="10" fill="#000" textLength="18.5" lengthAdjust="spacingAndGlyphs">0.00</text>
<text x="1692" y="745.5" font-family='"Liberation Sans", sans-serif' font-size="10" fill="#000" textLength="33" lengthAdjust="spacingAndGlyphs">-3.7183</text>
<g shape-rendering="crispEdges">
<line x1="0" y1="786.5" x2="1688" y2="786.5" stroke="#c0c0c0" stroke-width="1" stroke-dasharray="3 3" stroke-dashoffset="2"/>
<line x1="0" y1="837.5" x2="1688" y2="837.5" stroke="#c0c0c0" stroke-width="1" stroke-dasharray="3 3" stroke-dashoffset="2"/>
<line x1="0" y1="898.5" x2="1688" y2="898.5" stroke="#c0c0c0" stroke-width="1" stroke-dasharray="3 3" stroke-dashoffset="2"/>
</g>
<path fill="#1e90ff" shape-rendering="crispEdges" d="M1172 788h2v1h-2zM1169 789h3v1h-3zM1173 789h1v1h-1zM1167 790h2v1h-2zM1174 790h1v1h-1zM1165 791h2v1h-2zM1174 791h1v1h-1zM1163 792h2v1h-2zM1175 792h1v1h-1zM1162 793h1v1h-1zM1175 793h1v1h-1zM1161 794h1v1h-1zM1175 794h1v1h-1zM1159 795h2v1h-2zM1176 795h1v1h-1zM1158 796h1v1h-1zM1176 796h1v1h-1zM1156 797h2v1h-2zM1177 797h1v1h-1zM1153 798h3v1h-3zM1177 798h1v1h-1zM1151 799h2v1h-2zM1177 799h1v1h-1zM1141 800h10v1h-10zM1178 800h1v1h-1zM1141 801h1v1h-1zM1178 801h1v1h-1zM1140 802h1v1h-1zM1179 802h1v1h-1zM1140 803h1v1h-1zM1179 803h1v1h-1zM1139 804h1v1h-1zM1179 804h1v1h-1zM1139 805h1v1h-1zM1180 805h1v1h-1zM1138 806h1v1h-1zM1180 806h1v1h-1zM1138 807h1v1h-1zM1181 807h1v1h-1zM1137 808h1v1h-1zM1181 808h1v1h-1zM1137 809h1v1h-1zM1182 809h1v1h-1zM1136 810h1v1h-1zM1183 810h1v1h-1zM1136 811h1v1h-1zM1183 811h1v1h-1zM453 812h1v1h-1zM1135 812h1v1h-1zM1184 812h1v1h-1zM451 813h2v1h-2zM454 813h1v1h-1zM1135 813h1v1h-1zM1185 813h1v1h-1zM450 814h1v1h-1zM455 814h2v1h-2zM1134 814h1v1h-1zM1186 814h1v1h-1zM449 815h1v1h-1zM457 815h1v1h-1zM1134 815h1v1h-1zM1187 815h1v1h-1zM447 816h2v1h-2zM458 816h1v1h-1zM1133 816h1v1h-1zM1187 816h1v1h-1zM446 817h1v1h-1zM459 817h2v1h-2zM1132 817h1v1h-1zM1188 817h1v1h-1zM445 818h1v1h-1zM461 818h1v1h-1zM1132 818h1v1h-1zM1189 818h1v1h-1zM443 819h2v1h-2zM461 819h1v1h-1zM1131 819h1v1h-1zM1190 819h1v1h-1zM441 820h2v1h-2zM462 820h1v1h-1zM1130 820h1v1h-1zM1191 820h1v1h-1zM440 821h1v1h-1zM462 821h1v1h-1zM1130 821h1v1h-1zM1191 821h1v1h-1zM1388 821h3v1h-3zM245 822h1v1h-1zM438 822h2v1h-2zM463 822h1v1h-1zM1129 822h1v1h-1zM1192 822h1v1h-1zM1385 822h3v1h-3zM1391 822h4v1h-4zM97 823h5v1h-5zM205 823h1v1h-1zM244 823h1v1h-1zM246 823h1v1h-1zM437 823h1v1h-1zM463 823h1v1h-1zM1128 823h1v1h-1zM1193 823h1v1h-1zM1383 823h2v1h-2zM1395 823h4v1h-4zM93 824h4v1h-4zM102 824h1v1h-1zM204 824h1v1h-1zM206 824h1v1h-1zM243 824h1v1h-1zM247 824h1v1h-1zM436 824h1v1h-1zM464 824h1v1h-1zM917 824h1v1h-1zM1128 824h1v1h-1zM1194 824h1v1h-1zM1381 824h2v1h-2zM1399 824h4v1h-4zM92 825h1v1h-1zM102 825h1v1h-1zM203 825h1v1h-1zM207 825h1v1h-1zM242 825h1v1h-1zM248 825h1v1h-1zM435 825h1v1h-1zM464 825h1v1h-1zM917 825h2v1h-2zM1127 825h1v1h-1zM1195 825h1v1h-1zM1380 825h1v1h-1zM1403 825h11v1h-11zM92 826h1v1h-1zM103 826h1v1h-1zM202 826h1v1h-1zM208 826h1v1h-1zM241 826h1v1h-1zM249 826h2v1h-2zM435 826h1v1h-1zM465 826h1v1h-1zM804 826h2v1h-2zM916 826h1v1h-1zM918 826h1v1h-1zM1126 826h1v1h-1zM1195 826h1v1h-1zM1379 826h1v1h-1zM1414 826h1v1h-1zM91 827h1v1h-1zM103 827h1v1h-1zM201 827h1v1h-1zM209 827h1v1h-1zM241 827h1v1h-1zM251 827h1v1h-1zM434 827h1v1h-1zM465 827h1v1h-1zM802 827h2v1h-2zM806 827h2v1h-2zM916 827h1v1h-1zM919 827h1v1h-1zM1126 827h1v1h-1zM1196 827h1v1h-1zM1378 827h1v1h-1zM1415 827h2v1h-2zM-3 828h2v1h-2zM90 828h1v1h-1zM104 828h1v1h-1zM200 828h1v1h-1zM209 828h1v1h-1zM240 828h1v1h-1zM252 828h1v1h-1zM411 828h3v1h-3zM433 828h1v1h-1zM466 828h1v1h-1zM773 828h18v1h-18zM800 828h2v1h-2zM808 828h1v1h-1zM915 828h1v1h-1zM919 828h1v1h-1zM1121 828h5v1h-5zM1197 828h1v1h-1zM1229 828h1v1h-1zM1377 828h1v1h-1zM1417 828h1v1h-1zM-1 829h4v1h-4zM69 829h9v1h-9zM89 829h1v1h-1zM105 829h1v1h-1zM199 829h1v1h-1zM210 829h1v1h-1zM239 829h1v1h-1zM253 829h1v1h-1zM397 829h4v1h-4zM407 829h4v1h-4zM414 829h1v1h-1zM432 829h1v1h-1zM466 829h1v1h-1zM771 829h2v1h-2zM791 829h4v1h-4zM798 829h2v1h-2zM809 829h2v1h-2zM915 829h1v1h-1zM920 829h1v1h-1zM1116 829h5v1h-5zM1198 829h1v1h-1zM1228 829h1v1h-1zM1230 829h2v1h-2zM1377 829h1v1h-1zM1418 829h1v1h-1zM1427 829h4v1h-4zM3 830h3v1h-3zM68 830h1v1h-1zM78 830h1v1h-1zM89 830h1v1h-1zM105 830h1v1h-1zM198 830h1v1h-1zM211 830h1v1h-1zM238 830h1v1h-1zM254 830h1v1h-1zM396 830h1v1h-1zM401 830h6v1h-6zM415 830h2v1h-2zM431 830h1v1h-1zM467 830h1v1h-1zM769 830h2v1h-2zM795 830h3v1h-3zM811 830h2v1h-2zM915 830h1v1h-1zM920 830h1v1h-1zM1113 830h3v1h-3zM1198 830h1v1h-1zM1228 830h1v1h-1zM1232 830h1v1h-1zM1376 830h1v1h-1zM1419 830h2v1h-2zM1423 830h4v1h-4zM1431 830h2v1h-2zM6 831h1v1h-1zM67 831h1v1h-1zM79 831h2v1h-2zM88 831h1v1h-1zM106 831h1v1h-1zM195 831h3v1h-3zM212 831h1v1h-1zM235 831h3v1h-3zM255 831h1v1h-1zM395 831h1v1h-1zM417 831h1v1h-1zM431 831h1v1h-1zM467 831h1v1h-1zM768 831h1v1h-1zM813 831h9v1h-9zM914 831h1v1h-1zM921 831h1v1h-1zM1111 831h2v1h-2zM1199 831h1v1h-1zM1227 831h1v1h-1zM1233 831h2v1h-2zM1375 831h1v1h-1zM1421 831h2v1h-2zM1433 831h3v1h-3zM7 832h1v1h-1zM66 832h1v1h-1zM81 832h1v1h-1zM87 832h1v1h-1zM107 832h1v1h-1zM191 832h4v1h-4zM213 832h12v1h-12zM231 832h4v1h-4zM255 832h1v1h-1zM394 832h1v1h-1zM418 832h1v1h-1zM430 832h1v1h-1zM468 832h1v1h-1zM766 832h2v1h-2zM822 832h2v1h-2zM914 832h1v1h-1zM921 832h1v1h-1zM1093 832h2v1h-2zM1108 832h3v1h-3zM1200 832h1v1h-1zM1226 832h1v1h-1zM1235 832h2v1h-2zM1361 832h8v1h-8zM1374 832h1v1h-1zM1436 832h2v1h-2zM8 833h1v1h-1zM65 833h1v1h-1zM82 833h1v1h-1zM86 833h1v1h-1zM107 833h1v1h-1zM153 833h14v1h-14zM187 833h4v1h-4zM225 833h6v1h-6zM256 833h1v1h-1zM393 833h1v1h-1zM419 833h2v1h-2zM425 833h5v1h-5zM468 833h1v1h-1zM475 833h3v1h-3zM693 833h1v1h-1zM765 833h1v1h-1zM824 833h2v1h-2zM914 833h1v1h-1zM922 833h1v1h-1zM1092 833h1v1h-1zM1095 833h2v1h-2zM1105 833h3v1h-3zM1200 833h1v1h-1zM1226 833h1v1h-1zM1237 833h1v1h-1zM1353 833h8v1h-8zM1369 833h5v1h-5zM9 834h1v1h-1zM64 834h1v1h-1zM83 834h2v1h-2zM86 834h1v1h-1zM108 834h1v1h-1zM149 834h4v1h-4zM167 834h4v1h-4zM183 834h4v1h-4zM257 834h1v1h-1zM392 834h1v1h-1zM421 834h4v1h-4zM469 834h1v1h-1zM471 834h4v1h-4zM478 834h1v1h-1zM692 834h1v1h-1zM694 834h2v1h-2zM763 834h2v1h-2zM826 834h2v1h-2zM833 834h5v1h-5zM913 834h1v1h-1zM922 834h1v1h-1zM1092 834h1v1h-1zM1097 834h3v1h-3zM1103 834h2v1h-2zM1201 834h1v1h-1zM1225 834h1v1h-1zM1238 834h1v1h-1zM1347 834h6v1h-6zM9 835h1v1h-1zM63 835h1v1h-1zM85 835h1v1h-1zM108 835h1v1h-1zM133 835h1v1h-1zM148 835h1v1h-1zM171 835h12v1h-12zM258 835h1v1h-1zM309 835h2v1h-2zM391 835h1v1h-1zM469 835h2v1h-2zM478 835h1v1h-1zM691 835h1v1h-1zM696 835h2v1h-2zM761 835h2v1h-2zM828 835h5v1h-5zM838 835h1v1h-1zM913 835h1v1h-1zM923 835h1v1h-1zM1091 835h1v1h-1zM1100 835h3v1h-3zM1202 835h1v1h-1zM1224 835h1v1h-1zM1239 835h1v1h-1zM1343 835h4v1h-4zM10 836h1v1h-1zM62 836h1v1h-1zM109 836h1v1h-1zM133 836h2v1h-2zM148 836h1v1h-1zM259 836h1v1h-1zM308 836h1v1h-1zM311 836h4v1h-4zM390 836h1v1h-1zM479 836h1v1h-1zM690 836h1v1h-1zM698 836h2v1h-2zM733 836h1v1h-1zM760 836h1v1h-1zM839 836h2v1h-2zM912 836h1v1h-1zM923 836h1v1h-1zM1090 836h1v1h-1zM1202 836h1v1h-1zM1224 836h1v1h-1zM1240 836h1v1h-1zM1333 836h10v1h-10zM11 837h1v1h-1zM61 837h1v1h-1zM110 837h1v1h-1zM132 837h1v1h-1zM135 837h1v1h-1zM147 837h1v1h-1zM259 837h1v1h-1zM307 837h1v1h-1zM315 837h3v1h-3zM337 837h5v1h-5zM385 837h5v1h-5zM480 837h1v1h-1zM689 837h1v1h-1zM700 837h5v1h-5zM732 837h1v1h-1zM734 837h1v1h-1zM758 837h2v1h-2zM841 837h1v1h-1zM912 837h1v1h-1zM924 837h1v1h-1zM1089 837h1v1h-1zM1203 837h1v1h-1zM1223 837h1v1h-1zM1241 837h1v1h-1zM1332 837h1v1h-1zM12 838h1v1h-1zM17 838h6v1h-6zM60 838h1v1h-1zM110 838h1v1h-1zM132 838h1v1h-1zM135 838h1v1h-1zM146 838h1v1h-1zM260 838h1v1h-1zM305 838h2v1h-2zM317 838h1v1h-1zM333 838h4v1h-4zM342 838h1v1h-1zM381 838h4v1h-4zM480 838h1v1h-1zM689 838h1v1h-1zM705 838h8v1h-8zM731 838h1v1h-1zM735 838h2v1h-2zM756 838h2v1h-2zM842 838h1v1h-1zM912 838h1v1h-1zM924 838h1v1h-1zM1045 838h1v1h-1zM1089 838h1v1h-1zM1204 838h1v1h-1zM1222 838h1v1h-1zM1241 838h1v1h-1zM1332 838h1v1h-1zM13 839h4v1h-4zM23 839h4v1h-4zM59 839h1v1h-1zM111 839h1v1h-1zM131 839h1v1h-1zM136 839h1v1h-1zM145 839h1v1h-1zM261 839h1v1h-1zM304 839h1v1h-1zM318 839h1v1h-1zM333 839h1v1h-1zM343 839h2v1h-2zM380 839h1v1h-1zM481 839h1v1h-1zM688 839h1v1h-1zM713 839h5v1h-5zM729 839h2v1h-2zM737 839h1v1h-1zM754 839h2v1h-2zM843 839h2v1h-2zM911 839h1v1h-1zM925 839h1v1h-1zM1044 839h1v1h-1zM1046 839h2v1h-2zM1088 839h1v1h-1zM1204 839h1v1h-1zM1222 839h1v1h-1zM1242 839h1v1h-1zM1331 839h1v1h-1zM27 840h3v1h-3zM58 840h1v1h-1zM111 840h1v1h-1zM131 840h1v1h-1zM137 840h1v1h-1zM145 840h1v1h-1zM262 840h1v1h-1zM303 840h1v1h-1zM318 840h1v1h-1zM332 840h1v1h-1zM345 840h1v1h-1zM379 840h1v1h-1zM482 840h1v1h-1zM687 840h1v1h-1zM718 840h2v1h-2zM728 840h1v1h-1zM738 840h1v1h-1zM752 840h2v1h-2zM845 840h1v1h-1zM911 840h1v1h-1zM926 840h2v1h-2zM1044 840h1v1h-1zM1048 840h2v1h-2zM1087 840h1v1h-1zM1205 840h4v1h-4zM1217 840h5v1h-5zM1243 840h1v1h-1zM1331 840h1v1h-1zM30 841h1v1h-1zM57 841h1v1h-1zM112 841h1v1h-1zM130 841h1v1h-1zM138 841h1v1h-1zM144 841h1v1h-1zM263 841h1v1h-1zM302 841h1v1h-1zM319 841h1v1h-1zM332 841h1v1h-1zM346 841h1v1h-1zM377 841h2v1h-2zM482 841h1v1h-1zM686 841h1v1h-1zM720 841h2v1h-2zM727 841h1v1h-1zM739 841h2v1h-2zM750 841h2v1h-2zM846 841h1v1h-1zM911 841h1v1h-1zM928 841h2v1h-2zM980 841h5v1h-5zM1043 841h1v1h-1zM1050 841h2v1h-2zM1086 841h1v1h-1zM1209 841h8v1h-8zM1244 841h1v1h-1zM1277 841h2v1h-2zM1330 841h1v1h-1zM31 842h1v1h-1zM56 842h1v1h-1zM112 842h1v1h-1zM130 842h1v1h-1zM139 842h1v1h-1zM143 842h1v1h-1zM264 842h1v1h-1zM301 842h1v1h-1zM319 842h1v1h-1zM331 842h1v1h-1zM347 842h2v1h-2zM376 842h1v1h-1zM483 842h1v1h-1zM685 842h1v1h-1zM722 842h2v1h-2zM726 842h1v1h-1zM741 842h9v1h-9zM846 842h1v1h-1zM910 842h1v1h-1zM930 842h2v1h-2zM978 842h2v1h-2zM985 842h5v1h-5zM1042 842h1v1h-1zM1052 842h5v1h-5zM1086 842h1v1h-1zM1245 842h1v1h-1zM1276 842h1v1h-1zM1279 842h2v1h-2zM1329 842h1v1h-1zM32 843h1v1h-1zM55 843h1v1h-1zM113 843h1v1h-1zM129 843h1v1h-1zM139 843h1v1h-1zM142 843h1v1h-1zM265 843h1v1h-1zM300 843h1v1h-1zM320 843h1v1h-1zM331 843h1v1h-1zM349 843h1v1h-1zM375 843h1v1h-1zM484 843h1v1h-1zM684 843h1v1h-1zM724 843h2v1h-2zM847 843h1v1h-1zM892 843h2v1h-2zM910 843h1v1h-1zM932 843h3v1h-3zM976 843h2v1h-2zM990 843h1v1h-1zM1042 843h1v1h-1zM1057 843h5v1h-5zM1081 843h5v1h-5zM1246 843h1v1h-1zM1276 843h1v1h-1zM1281 843h3v1h-3zM1300 843h2v1h-2zM1329 843h1v1h-1zM33 844h2v1h-2zM54 844h1v1h-1zM113 844h1v1h-1zM129 844h1v1h-1zM140 844h1v1h-1zM142 844h1v1h-1zM265 844h1v1h-1zM299 844h1v1h-1zM320 844h1v1h-1zM330 844h1v1h-1zM350 844h1v1h-1zM374 844h1v1h-1zM484 844h1v1h-1zM683 844h1v1h-1zM848 844h1v1h-1zM890 844h2v1h-2zM894 844h2v1h-2zM909 844h1v1h-1zM935 844h4v1h-4zM974 844h2v1h-2zM991 844h1v1h-1zM1041 844h1v1h-1zM1062 844h2v1h-2zM1076 844h5v1h-5zM1247 844h1v1h-1zM1275 844h1v1h-1zM1284 844h3v1h-3zM1298 844h2v1h-2zM1302 844h1v1h-1zM1328 844h1v1h-1zM35 845h1v1h-1zM52 845h2v1h-2zM114 845h1v1h-1zM128 845h1v1h-1zM141 845h1v1h-1zM266 845h1v1h-1zM298 845h1v1h-1zM320 845h1v1h-1zM330 845h1v1h-1zM351 845h1v1h-1zM373 845h1v1h-1zM485 845h1v1h-1zM682 845h1v1h-1zM848 845h1v1h-1zM888 845h2v1h-2zM896 845h1v1h-1zM908 845h2v1h-2zM939 845h4v1h-4zM973 845h1v1h-1zM991 845h1v1h-1zM1040 845h1v1h-1zM1064 845h1v1h-1zM1074 845h2v1h-2zM1248 845h1v1h-1zM1275 845h1v1h-1zM1287 845h2v1h-2zM1296 845h2v1h-2zM1303 845h1v1h-1zM1327 845h1v1h-1zM36 846h1v1h-1zM50 846h2v1h-2zM114 846h1v1h-1zM128 846h1v1h-1zM267 846h1v1h-1zM275 846h6v1h-6zM297 846h1v1h-1zM321 846h1v1h-1zM329 846h1v1h-1zM352 846h1v1h-1zM372 846h1v1h-1zM486 846h1v1h-1zM681 846h1v1h-1zM849 846h1v1h-1zM886 846h2v1h-2zM897 846h2v1h-2zM905 846h3v1h-3zM943 846h2v1h-2zM972 846h1v1h-1zM992 846h1v1h-1zM1040 846h1v1h-1zM1065 846h2v1h-2zM1072 846h2v1h-2zM1249 846h1v1h-1zM1274 846h1v1h-1zM1289 846h3v1h-3zM1294 846h2v1h-2zM1304 846h1v1h-1zM1327 846h1v1h-1zM37 847h2v1h-2zM48 847h2v1h-2zM115 847h1v1h-1zM127 847h1v1h-1zM268 847h1v1h-1zM271 847h4v1h-4zM281 847h6v1h-6zM296 847h1v1h-1zM321 847h1v1h-1zM329 847h1v1h-1zM353 847h2v1h-2zM371 847h1v1h-1zM487 847h1v1h-1zM681 847h1v1h-1zM850 847h1v1h-1zM865 847h6v1h-6zM884 847h2v1h-2zM899 847h2v1h-2zM903 847h2v1h-2zM945 847h3v1h-3zM971 847h1v1h-1zM993 847h1v1h-1zM1039 847h1v1h-1zM1067 847h2v1h-2zM1070 847h2v1h-2zM1250 847h1v1h-1zM1274 847h1v1h-1zM1292 847h2v1h-2zM1305 847h1v1h-1zM1326 847h1v1h-1zM39 848h4v1h-4zM46 848h2v1h-2zM115 848h1v1h-1zM127 848h1v1h-1zM269 848h2v1h-2zM287 848h2v1h-2zM295 848h1v1h-1zM322 848h1v1h-1zM329 848h1v1h-1zM355 848h1v1h-1zM369 848h2v1h-2zM487 848h1v1h-1zM680 848h1v1h-1zM850 848h1v1h-1zM860 848h5v1h-5zM871 848h2v1h-2zM881 848h3v1h-3zM901 848h2v1h-2zM948 848h2v1h-2zM970 848h1v1h-1zM994 848h1v1h-1zM1038 848h1v1h-1zM1069 848h1v1h-1zM1251 848h1v1h-1zM1273 848h1v1h-1zM1306 848h1v1h-1zM1326 848h1v1h-1zM43 849h3v1h-3zM116 849h1v1h-1zM126 849h1v1h-1zM289 849h3v1h-3zM294 849h1v1h-1zM322 849h1v1h-1zM328 849h1v1h-1zM356 849h1v1h-1zM368 849h1v1h-1zM488 849h1v1h-1zM679 849h1v1h-1zM851 849h1v1h-1zM858 849h2v1h-2zM873 849h3v1h-3zM879 849h2v1h-2zM950 849h1v1h-1zM969 849h1v1h-1zM995 849h1v1h-1zM1038 849h1v1h-1zM1252 849h1v1h-1zM1273 849h1v1h-1zM1307 849h1v1h-1zM1321 849h5v1h-5zM116 850h1v1h-1zM126 850h1v1h-1zM292 850h2v1h-2zM322 850h1v1h-1zM328 850h1v1h-1zM357 850h2v1h-2zM367 850h1v1h-1zM489 850h1v1h-1zM678 850h1v1h-1zM852 850h1v1h-1zM856 850h2v1h-2zM876 850h3v1h-3zM950 850h1v1h-1zM968 850h1v1h-1zM995 850h1v1h-1zM1037 850h1v1h-1zM1253 850h1v1h-1zM1272 850h1v1h-1zM1308 850h1v1h-1zM1313 850h8v1h-8zM117 851h9v1h-9zM323 851h1v1h-1zM327 851h1v1h-1zM359 851h4v1h-4zM366 851h1v1h-1zM490 851h1v1h-1zM673 851h5v1h-5zM852 851h1v1h-1zM854 851h2v1h-2zM951 851h1v1h-1zM967 851h1v1h-1zM996 851h1v1h-1zM1013 851h1v1h-1zM1036 851h1v1h-1zM1254 851h2v1h-2zM1272 851h1v1h-1zM1309 851h4v1h-4zM323 852h1v1h-1zM327 852h1v1h-1zM363 852h3v1h-3zM491 852h1v1h-1zM669 852h4v1h-4zM853 852h1v1h-1zM951 852h1v1h-1zM966 852h1v1h-1zM997 852h1v1h-1zM1011 852h2v1h-2zM1014 852h1v1h-1zM1036 852h1v1h-1zM1256 852h1v1h-1zM1271 852h1v1h-1zM324 853h1v1h-1zM326 853h1v1h-1zM491 853h1v1h-1zM669 853h1v1h-1zM952 853h1v1h-1zM965 853h1v1h-1zM998 853h2v1h-2zM1010 853h1v1h-1zM1015 853h1v1h-1zM1035 853h1v1h-1zM1257 853h2v1h-2zM1271 853h1v1h-1zM324 854h1v1h-1zM326 854h1v1h-1zM492 854h1v1h-1zM668 854h1v1h-1zM953 854h1v1h-1zM964 854h1v1h-1zM1000 854h1v1h-1zM1009 854h1v1h-1zM1016 854h1v1h-1zM1035 854h1v1h-1zM1259 854h2v1h-2zM1270 854h1v1h-1zM325 855h1v1h-1zM493 855h1v1h-1zM668 855h1v1h-1zM953 855h1v1h-1zM963 855h1v1h-1zM1001 855h2v1h-2zM1007 855h2v1h-2zM1017 855h1v1h-1zM1034 855h1v1h-1zM1261 855h4v1h-4zM1270 855h1v1h-1zM325 856h1v1h-1zM493 856h1v1h-1zM667 856h1v1h-1zM954 856h1v1h-1zM962 856h1v1h-1zM1003 856h2v1h-2zM1006 856h1v1h-1zM1017 856h1v1h-1zM1034 856h1v1h-1zM1265 856h5v1h-5zM494 857h1v1h-1zM667 857h1v1h-1zM955 857h1v1h-1zM961 857h1v1h-1zM1005 857h1v1h-1zM1018 857h1v1h-1zM1033 857h1v1h-1zM494 858h1v1h-1zM666 858h1v1h-1zM955 858h1v1h-1zM960 858h1v1h-1zM1019 858h1v1h-1zM1032 858h1v1h-1zM494 859h1v1h-1zM666 859h1v1h-1zM956 859h1v1h-1zM959 859h1v1h-1zM1020 859h1v1h-1zM1032 859h1v1h-1zM495 860h1v1h-1zM533 860h1v1h-1zM665 860h1v1h-1zM956 860h1v1h-1zM958 860h1v1h-1zM1021 860h1v1h-1zM1031 860h1v1h-1zM495 861h1v1h-1zM533 861h3v1h-3zM665 861h1v1h-1zM957 861h1v1h-1zM1022 861h2v1h-2zM1031 861h1v1h-1zM496 862h1v1h-1zM532 862h1v1h-1zM536 862h1v1h-1zM665 862h1v1h-1zM1024 862h2v1h-2zM1030 862h1v1h-1zM496 863h1v1h-1zM532 863h1v1h-1zM537 863h2v1h-2zM664 863h1v1h-1zM1026 863h2v1h-2zM1030 863h1v1h-1zM496 864h1v1h-1zM531 864h1v1h-1zM539 864h2v1h-2zM664 864h1v1h-1zM1028 864h2v1h-2zM497 865h1v1h-1zM531 865h1v1h-1zM541 865h1v1h-1zM663 865h1v1h-1zM497 866h1v1h-1zM530 866h1v1h-1zM542 866h2v1h-2zM663 866h1v1h-1zM497 867h1v1h-1zM530 867h1v1h-1zM544 867h2v1h-2zM662 867h1v1h-1zM498 868h1v1h-1zM529 868h1v1h-1zM546 868h2v1h-2zM662 868h1v1h-1zM498 869h1v1h-1zM517 869h1v1h-1zM529 869h1v1h-1zM548 869h2v1h-2zM661 869h1v1h-1zM498 870h1v1h-1zM516 870h1v1h-1zM518 870h1v1h-1zM528 870h1v1h-1zM550 870h2v1h-2zM573 870h1v1h-1zM645 870h2v1h-2zM659 870h3v1h-3zM499 871h1v1h-1zM515 871h1v1h-1zM519 871h1v1h-1zM528 871h1v1h-1zM552 871h2v1h-2zM572 871h1v1h-1zM574 871h1v1h-1zM597 871h1v1h-1zM643 871h2v1h-2zM647 871h4v1h-4zM655 871h4v1h-4zM499 872h1v1h-1zM514 872h1v1h-1zM520 872h1v1h-1zM527 872h1v1h-1zM554 872h2v1h-2zM571 872h1v1h-1zM575 872h1v1h-1zM596 872h1v1h-1zM598 872h2v1h-2zM641 872h2v1h-2zM651 872h4v1h-4zM500 873h1v1h-1zM513 873h1v1h-1zM521 873h2v1h-2zM527 873h1v1h-1zM556 873h2v1h-2zM570 873h1v1h-1zM576 873h1v1h-1zM596 873h1v1h-1zM600 873h2v1h-2zM640 873h1v1h-1zM500 874h1v1h-1zM512 874h1v1h-1zM523 874h1v1h-1zM526 874h1v1h-1zM558 874h1v1h-1zM569 874h1v1h-1zM577 874h2v1h-2zM595 874h1v1h-1zM602 874h2v1h-2zM638 874h2v1h-2zM500 875h1v1h-1zM511 875h1v1h-1zM524 875h1v1h-1zM526 875h1v1h-1zM559 875h2v1h-2zM569 875h1v1h-1zM579 875h1v1h-1zM595 875h1v1h-1zM604 875h2v1h-2zM637 875h1v1h-1zM501 876h1v1h-1zM510 876h1v1h-1zM525 876h1v1h-1zM561 876h1v1h-1zM568 876h1v1h-1zM580 876h1v1h-1zM594 876h1v1h-1zM606 876h2v1h-2zM637 876h1v1h-1zM501 877h9v1h-9zM562 877h1v1h-1zM567 877h1v1h-1zM581 877h1v1h-1zM594 877h1v1h-1zM608 877h1v1h-1zM636 877h1v1h-1zM563 878h2v1h-2zM566 878h1v1h-1zM582 878h1v1h-1zM593 878h1v1h-1zM609 878h2v1h-2zM636 878h1v1h-1zM565 879h1v1h-1zM583 879h1v1h-1zM592 879h1v1h-1zM611 879h2v1h-2zM635 879h1v1h-1zM584 880h1v1h-1zM592 880h1v1h-1zM613 880h4v1h-4zM635 880h1v1h-1zM585 881h1v1h-1zM591 881h1v1h-1zM617 881h5v1h-5zM634 881h1v1h-1zM586 882h1v1h-1zM591 882h1v1h-1zM622 882h1v1h-1zM634 882h1v1h-1zM587 883h1v1h-1zM590 883h1v1h-1zM623 883h1v1h-1zM633 883h1v1h-1zM588 884h1v1h-1zM590 884h1v1h-1zM623 884h1v1h-1zM633 884h1v1h-1zM589 885h1v1h-1zM624 885h1v1h-1zM632 885h1v1h-1zM625 886h1v1h-1zM632 886h1v1h-1zM626 887h1v1h-1zM631 887h1v1h-1zM627 888h1v1h-1zM631 888h1v1h-1zM627 889h1v1h-1zM630 889h1v1h-1zM628 890h1v1h-1zM630 890h1v1h-1zM629 891h1v1h-1z"/>
<text x="2" y="763" font-family='"Liberation Sans", sans-serif' font-size="10" fill="#000" textLength="67" lengthAdjust="spacingAndGlyphs">RSI(14) 52.8467</text>
<g shape-rendering="crispEdges">
<rect x="1689" y="752" width="1" height="1" fill="#000"/>
<rect x="1689" y="923" width="1" height="1" fill="#000"/>
</g>
<text x="1692.5" y="761" font-family='"Liberation Sans", sans-serif' font-size="10" fill="#000" textLength="16" lengthAdjust="spacingAndGlyphs">100</text>
<text x="1691" y="790" font-family='"Liberation Sans", sans-serif' font-size="10" fill="#000" textLength="10.5" lengthAdjust="spacingAndGlyphs">80</text>
<text x="1691" y="841" font-family='"Liberation Sans", sans-serif' font-size="10" fill="#000" textLength="10.5" lengthAdjust="spacingAndGlyphs">50</text>
<text x="1691" y="902" font-family='"Liberation Sans", sans-serif' font-size="10" fill="#000" textLength="10.5" lengthAdjust="spacingAndGlyphs">15</text>
<text x="1692" y="921" font-family='"Liberation Sans", sans-serif' font-size="10" fill="#000" textLength="5.5" lengthAdjust="spacingAndGlyphs">0</text>
<g shape-rendering="crispEdges">
<rect x="-3" y="925" width="1" height="3" fill="#000"/>
<rect x="61" y="925" width="1" height="3" fill="#000"/>
<rect x="125" y="925" width="1" height="3" fill="#000"/>
<rect x="189" y="925" width="1" height="3" fill="#000"/>
<rect x="253" y="925" width="1" height="3" fill="#000"/>
<rect x="317" y="925" width="1" height="3" fill="#000"/>
<rect x="381" y="925" width="1" height="3" fill="#000"/>
<rect x="445" y="925" width="1" height="3" fill="#000"/>
<rect x="509" y="925" width="1" height="3" fill="#000"/>
<rect x="573" y="925" width="1" height="3" fill="#000"/>
<rect x="637" y="925" width="1" height="3" fill="#000"/>
<rect x="701" y="925" width="1" height="3" fill="#000"/>
<rect x="765" y="925" width="1" height="3" fill="#000"/>
<rect x="829" y="925" width="1" height="3" fill="#000"/>
<rect x="893" y="925" width="1" height="3" fill="#000"/>
<rect x="957" y="925" width="1" height="3" fill="#000"/>
<rect x="1021" y="925" width="1" height="3" fill="#000"/>
<rect x="1085" y="925" width="1" height="3" fill="#000"/>
<rect x="1149" y="925" width="1" height="3" fill="#000"/>
<rect x="1213" y="925" width="1" height="3" fill="#000"/>
<rect x="1277" y="925" width="1" height="3" fill="#000"/>
<rect x="1341" y="925" width="1" height="3" fill="#000"/>
<rect x="1405" y="925" width="1" height="3" fill="#000"/>
</g>
<text x="-3.5" y="937" font-family='"Liberation Sans", sans-serif' font-size="10" fill="#000" textLength="51.5" lengthAdjust="spacingAndGlyphs">17 Dec 2019</text>
<text x="60.5" y="937" font-family='"Liberation Sans", sans-serif' font-size="10" fill="#000" textLength="51.5" lengthAdjust="spacingAndGlyphs">26 Dec 2019</text>
<text x="124.5" y="937" font-family='"Liberation Sans", sans-serif' font-size="10" fill="#000" textLength="44.6" lengthAdjust="spacingAndGlyphs">5 Jan 2020</text>
<text x="188.5" y="937" font-family='"Liberation Sans", sans-serif' font-size="10" fill="#000" textLength="49.6" lengthAdjust="spacingAndGlyphs">14 Jan 2020</text>
<text x="252.5" y="937" font-family='"Liberation Sans", sans-serif' font-size="10" fill="#000" textLength="49.6" lengthAdjust="spacingAndGlyphs">23 Jan 2020</text>
<text x="316.5" y="937" font-family='"Liberation Sans", sans-serif' font-size="10" fill="#000" textLength="46.1" lengthAdjust="spacingAndGlyphs">2 Feb 2020</text>
<text x="380.5" y="937" font-family='"Liberation Sans", sans-serif' font-size="10" fill="#000" textLength="50.4" lengthAdjust="spacingAndGlyphs">11 Feb 2020</text>
<text x="444.5" y="937" font-family='"Liberation Sans", sans-serif' font-size="10" fill="#000" textLength="51.1" lengthAdjust="spacingAndGlyphs">20 Feb 2020</text>
<text x="508.5" y="937" font-family='"Liberation Sans", sans-serif' font-size="10" fill="#000" textLength="46.5" lengthAdjust="spacingAndGlyphs">1 Mar 2020</text>
<text x="572.5" y="937" font-family='"Liberation Sans", sans-serif' font-size="10" fill="#000" textLength="51.7" lengthAdjust="spacingAndGlyphs">10 Mar 2020</text>
<text x="636.5" y="937" font-family='"Liberation Sans", sans-serif' font-size="10" fill="#000" textLength="51.7" lengthAdjust="spacingAndGlyphs">19 Mar 2020</text>
<text x="700.5" y="937" font-family='"Liberation Sans", sans-serif' font-size="10" fill="#000" textLength="51.7" lengthAdjust="spacingAndGlyphs">29 Mar 2020</text>
<text x="764.5" y="937" font-family='"Liberation Sans", sans-serif' font-size="10" fill="#000" textLength="45.8" lengthAdjust="spacingAndGlyphs">7 Apr 2020</text>
<text x="828.5" y="937" font-family='"Liberation Sans", sans-serif' font-size="10" fill="#000" textLength="51.0" lengthAdjust="spacingAndGlyphs">17 Apr 2020</text>
<text x="892.5" y="937" font-family='"Liberation Sans", sans-serif' font-size="10" fill="#000" textLength="51.0" lengthAdjust="spacingAndGlyphs">27 Apr 2020</text>
<text x="956.5" y="937" font-family='"Liberation Sans", sans-serif' font-size="10" fill="#000" textLength="47.6" lengthAdjust="spacingAndGlyphs">6 May 2020</text>
<text x="1020.5" y="937" font-family='"Liberation Sans", sans-serif' font-size="10" fill="#000" textLength="52.6" lengthAdjust="spacingAndGlyphs">15 May 2020</text>
<text x="1084.5" y="937" font-family='"Liberation Sans", sans-serif' font-size="10" fill="#000" textLength="52.6" lengthAdjust="spacingAndGlyphs">25 May 2020</text>
<text x="1148.5" y="937" font-family='"Liberation Sans", sans-serif' font-size="10" fill="#000" textLength="44.6" lengthAdjust="spacingAndGlyphs">3 Jun 2020</text>
<text x="1212.5" y="937" font-family='"Liberation Sans", sans-serif' font-size="10" fill="#000" textLength="49.6" lengthAdjust="spacingAndGlyphs">12 Jun 2020</text>
<text x="1276.5" y="937" font-family='"Liberation Sans", sans-serif' font-size="10" fill="#000" textLength="49.6" lengthAdjust="spacingAndGlyphs">22 Jun 2020</text>
<text x="1340.5" y="937" font-family='"Liberation Sans", sans-serif' font-size="10" fill="#000" textLength="40.8" lengthAdjust="spacingAndGlyphs">1 Jul 2020</text>
<text x="1404.5" y="937" font-family='"Liberation Sans", sans-serif' font-size="10" fill="#000" textLength="45.8" lengthAdjust="spacingAndGlyphs">10 Jul 2020</text>
</svg>
</body></html>
